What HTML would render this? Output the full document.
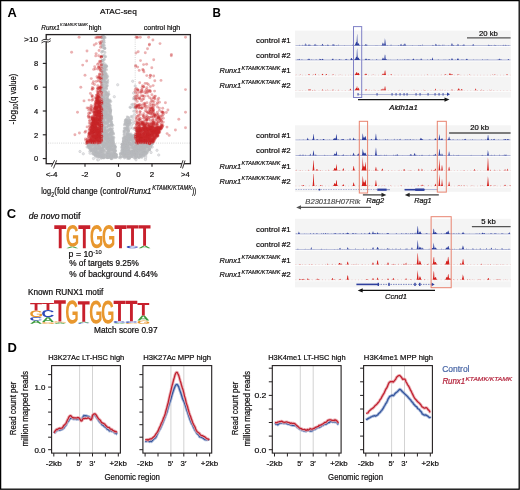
<!DOCTYPE html>
<html><head><meta charset="utf-8"><style>
html,body{margin:0;padding:0;background:#fff;overflow:hidden;width:520px;height:490px;}
svg{display:block;font-family:"Liberation Sans", sans-serif;will-change:transform;}
</style></head><body>
<svg width="520" height="490" viewBox="0 0 520 490">
<rect x="0" y="0" width="520" height="490" fill="#fff"/>
<text x="7.5" y="17.0" font-size="12.2" font-weight="bold" fill="#000" textLength="9.3" lengthAdjust="spacingAndGlyphs">A</text>
<text x="212.6" y="17.2" font-size="12.2" font-weight="bold" fill="#000" textLength="8.4" lengthAdjust="spacingAndGlyphs">B</text>
<text x="6.8" y="218.3" font-size="12.2" font-weight="bold" fill="#000" textLength="9.4" lengthAdjust="spacingAndGlyphs">C</text>
<text x="7.6" y="351.8" font-size="12.2" font-weight="bold" fill="#000" textLength="9.4" lengthAdjust="spacingAndGlyphs">D</text>
<text x="100.0" y="13.6" font-size="8" stroke="#231f20" stroke-width="0.22" textLength="36.8" lengthAdjust="spacingAndGlyphs">ATAC-seq</text>
<text x="41.3" y="29.6" font-size="7.2" font-style="italic" stroke="#231f20" stroke-width="0.20" textLength="18.4" lengthAdjust="spacingAndGlyphs">Runx1</text>
<text x="60.1" y="25.9" font-size="3.9" font-style="italic" stroke="#231f20" stroke-width="0.11" textLength="27.8" lengthAdjust="spacingAndGlyphs">KTAMK/KTAMK</text>
<text x="88.8" y="29.6" font-size="7.2" stroke="#231f20" stroke-width="0.20" textLength="12.6" lengthAdjust="spacingAndGlyphs">high</text>
<text x="143.8" y="29.6" font-size="7.2" stroke="#231f20" stroke-width="0.20" textLength="36.5" lengthAdjust="spacingAndGlyphs">control high</text>
<defs><marker id="mg" markerUnits="userSpaceOnUse" markerWidth="4" markerHeight="4" refX="2" refY="2" overflow="visible"><circle cx="2" cy="2" r="1.4" fill="#b8b9bd" fill-opacity="0.6"/></marker><marker id="ml" markerUnits="userSpaceOnUse" markerWidth="4" markerHeight="4" refX="2" refY="2" overflow="visible"><circle cx="2" cy="2" r="1.2" fill="#e4e5e7" stroke="#c4c5c9" stroke-width="0.5"/></marker><marker id="mr" markerUnits="userSpaceOnUse" markerWidth="4" markerHeight="4" refX="2" refY="2" overflow="visible"><circle cx="2" cy="2" r="1.45" fill="#c8262a" fill-opacity="0.36"/></marker></defs>
<path d="M134.0 97.6 134.6 97.6 135.0 99.2 133.0 104.3 133.1 106.8 134.1 106.2 130.1 107.2 135.0 107.9 132.7 116.7 128.1 117.5 128.9 120.0 132.6 119.5 133.8 122.6 132.4 123.1 132.8 123.3 131.6 124.9 130.7 127.8 132.5 128.0 134.6 129.3 130.9 134.0 128.6 134.4 87.1 147.0 152.2 147.0 89.8 151.4 151.1 152.5 90.1 153.2 92.6 153.5 95.3 155.5 96.0 157.0 145.8 156.0 145.6 157.8 93.5 158.5 145.4 159.5 136.0 159.8 97.7 159.8 98.4 159.8 114.3 96.7 117.7 84.8 130.2 120.5 134.4 114.6 133.6 93.1 135.2 86.0 132.7 81.2 80.0 151.5 83.3 153.8 157.0 150.3 158.7 155.0" fill="none" stroke="none" marker-start="url(#ml)" marker-mid="url(#ml)" marker-end="url(#ml)"/>
<path d="M103.6 39.9 104.0 40.2 102.5 41.9 103.9 42.4 104.3 42.4 102.2 43.4 103.3 44.9 102.2 45.8 103.3 45.3 104.4 45.5 102.0 46.6 102.5 46.2 103.3 48.0 104.8 48.1 104.8 48.8 104.2 48.1 104.9 48.2 102.5 51.3 103.1 51.3 101.6 52.2 105.0 52.4 102.1 55.8 104.2 55.0 103.0 56.3 105.7 56.7 105.0 56.8 104.3 59.2 102.8 60.4 102.1 60.1 102.0 61.0 104.0 60.0 102.8 61.2 102.7 63.9 104.2 63.5 102.2 64.8 102.6 64.3 103.3 65.4 104.3 65.5 104.8 65.4 105.9 65.0 105.3 66.6 105.8 67.0 106.6 66.6 106.7 66.2 106.3 66.2 102.3 67.0 103.2 67.1 104.0 67.5 105.5 67.1 103.8 68.2 104.0 68.0 105.2 68.9 104.9 69.2 104.4 69.1 104.8 69.4 106.6 69.7 101.7 70.9 101.9 70.3 104.0 70.0 104.7 70.5 102.9 71.7 102.4 71.2 103.3 71.5 104.0 71.3 104.3 71.5 102.8 72.1 102.9 72.8 103.3 72.0 103.4 72.7 103.0 72.5 105.7 72.7 103.0 73.7 103.5 73.0 104.6 73.2 104.7 73.5 102.5 75.0 104.2 74.4 104.1 74.9 104.6 74.7 104.3 74.5 105.9 74.0 105.6 74.5 106.9 74.7 102.3 75.8 103.4 75.7 104.6 75.5 105.3 75.8 103.1 76.5 104.6 76.9 105.0 76.3 106.1 76.0 107.7 76.4 101.8 77.2 102.2 77.6 103.7 77.2 103.3 77.7 107.0 77.0 106.6 77.8 102.0 78.8 103.8 78.4 104.1 78.9 105.9 78.0 106.0 78.6 102.3 79.5 103.5 79.1 103.6 79.9 104.7 79.9 104.9 79.3 107.8 79.8 103.5 80.3 103.6 80.3 102.1 81.5 102.1 81.3 104.0 81.2 104.1 81.2 104.3 81.6 105.7 81.3 107.8 81.5 103.2 82.3 104.2 82.5 106.5 82.3 107.0 82.3 106.2 82.3 102.2 83.7 102.3 83.6 105.0 83.8 107.4 83.4 102.3 84.8 102.3 84.9 105.8 84.2 102.8 85.4 103.7 85.6 104.7 85.7 106.4 85.9 107.3 85.6 102.9 86.9 106.1 86.9 107.1 86.1 103.5 87.5 104.4 88.0 106.3 87.9 102.9 88.2 102.7 88.5 104.3 88.8 106.2 88.4 101.8 89.2 102.8 89.3 106.6 89.1 102.4 90.4 103.4 90.2 105.0 90.7 101.8 91.4 101.3 91.1 103.0 92.0 102.3 91.5 105.2 91.3 108.6 91.9 103.2 92.0 105.9 92.5 105.8 92.0 106.3 93.0 106.1 92.4 105.3 93.6 105.8 93.5 107.8 93.9 107.1 94.0 102.0 94.6 103.0 94.6 104.4 94.6 105.6 94.8 106.9 94.3 106.1 94.0 107.0 94.0 108.9 94.2 108.3 94.4 102.1 95.5 104.8 95.9 106.4 95.3 107.5 95.9 107.8 95.4 107.9 95.8 102.6 96.9 103.1 96.7 104.8 96.4 101.1 97.4 103.2 97.3 103.4 97.5 105.0 97.7 107.0 97.6 107.4 97.6 101.2 98.5 103.9 98.4 103.4 98.3 104.6 98.6 106.7 98.5 107.0 98.3 133.5 98.9 103.6 99.5 107.6 99.8 107.8 99.8 107.7 99.5 102.9 100.8 102.5 100.6 102.6 100.5 103.0 100.4 103.6 100.9 104.1 100.4 104.6 100.6 105.2 101.0 105.7 100.0 106.2 100.6 107.2 100.5 107.5 100.3 108.2 100.3 108.5 100.1 109.4 101.0 110.0 100.0 102.4 101.8 103.0 101.3 104.0 101.8 104.9 101.3 106.6 101.6 107.9 101.4 108.2 101.0 109.8 101.4 110.9 101.5 102.5 102.4 104.2 102.1 105.2 102.9 106.8 102.0 107.6 102.2 108.7 102.9 101.2 103.7 102.5 103.6 103.5 103.2 104.2 103.5 105.4 103.0 105.2 103.8 106.4 103.7 106.9 103.9 106.8 103.3 107.6 103.5 108.3 103.1 103.4 104.3 103.2 104.5 104.5 104.9 104.4 104.1 105.3 104.2 108.4 104.3 109.5 104.0 109.3 104.9 131.8 104.6 102.3 105.1 102.1 105.6 104.4 105.8 104.2 105.4 105.7 105.1 105.4 105.5 107.0 106.0 106.3 105.1 107.8 105.0 107.4 105.1 107.7 105.3 108.8 105.9 109.6 105.5 110.5 105.8 102.3 106.1 103.2 106.3 103.8 106.6 104.4 106.6 106.7 106.4 106.9 106.7 108.0 106.2 101.5 108.0 102.9 107.3 103.6 107.2 104.8 107.1 104.2 107.6 105.6 107.2 105.6 107.0 106.3 107.3 106.5 107.4 106.8 107.6 107.4 107.3 107.6 108.0 109.1 107.0 110.2 107.8 130.6 107.6 134.8 107.8 101.1 108.7 102.1 108.4 103.0 108.1 104.2 108.0 107.8 108.1 107.9 108.2 108.3 108.8 108.8 108.1 109.8 108.5 110.1 108.1 102.3 109.0 104.0 109.5 104.7 109.9 104.2 109.6 106.1 109.3 106.4 109.4 107.9 109.1 107.5 109.8 109.9 109.6 109.8 109.3 109.3 110.0 110.9 110.0 102.2 110.5 103.1 110.6 104.7 110.2 104.5 110.3 104.8 110.8 106.2 110.6 109.3 110.7 110.4 110.9 110.4 110.3 101.4 111.3 102.2 111.1 103.8 111.9 105.9 111.9 105.1 111.9 106.8 111.9 106.4 111.5 107.5 111.7 108.8 111.0 109.1 111.7 110.5 111.2 110.6 111.7 133.8 111.2 102.8 112.1 103.3 112.4 104.0 113.0 104.6 112.1 105.6 112.6 105.5 112.3 105.9 112.0 110.1 112.7 110.3 112.6 102.2 113.1 103.8 113.7 103.8 113.6 105.9 113.6 105.6 113.1 105.5 113.2 108.3 113.0 109.8 113.6 101.5 114.0 102.4 114.3 105.0 114.5 105.0 114.2 105.6 114.9 105.8 114.7 106.5 114.3 106.3 114.4 106.6 114.2 106.1 114.9 107.7 114.6 108.3 114.5 108.8 114.9 110.6 114.2 102.9 115.7 102.6 115.5 103.2 115.7 105.6 115.3 107.1 115.2 107.2 115.9 107.9 115.8 107.5 115.6 109.3 115.6 110.3 116.0 101.9 116.9 102.3 117.0 103.8 116.5 104.0 116.4 105.0 116.4 105.5 116.5 107.7 116.1 107.5 116.7 108.4 116.5 108.6 116.6 110.6 116.6 110.1 116.0 110.8 116.7 111.7 116.7 127.2 117.0 131.4 116.5 102.6 117.3 102.3 117.4 102.1 117.3 103.3 117.7 104.9 117.5 105.8 117.0 105.7 117.6 105.4 117.6 106.8 117.7 106.6 117.5 106.5 117.0 107.9 117.9 108.3 117.7 111.4 117.6 129.3 117.8 102.3 118.1 103.9 119.0 104.6 118.8 107.8 118.4 110.0 118.1 109.3 118.7 111.2 118.6 102.1 119.1 102.5 120.0 102.8 119.8 104.3 119.6 107.1 119.7 107.8 119.5 107.4 119.4 108.8 119.6 109.8 119.5 110.7 119.7 111.0 119.0 111.8 119.0 126.4 119.4 126.5 119.9 126.1 119.8 129.3 120.0 102.7 120.6 103.5 121.0 103.9 120.8 104.0 120.1 107.8 120.4 109.4 121.0 110.5 120.2 110.9 120.0 110.1 120.3 125.2 120.1 127.0 120.7 127.1 120.4 129.7 120.4 101.8 121.2 102.4 121.3 103.3 121.6 105.1 121.3 108.0 121.6 109.0 121.4 110.8 121.9 111.8 121.8 125.0 121.8 125.4 121.2 126.7 121.9 126.7 121.8 126.5 121.4 127.5 121.4 128.0 121.1 129.5 121.5 103.5 122.4 105.0 122.5 104.8 122.9 106.2 122.2 107.7 122.1 107.2 122.4 110.9 122.6 111.3 122.5 126.4 122.4 128.0 122.6 127.3 122.9 128.9 122.9 130.0 122.5 129.2 122.7 103.2 123.1 103.3 123.4 103.5 123.1 105.4 123.6 106.4 123.7 107.3 123.1 108.0 123.2 125.2 123.8 125.0 123.7 125.6 123.4 128.0 123.7 129.8 123.2 129.7 123.8 102.4 124.8 104.0 124.4 105.6 124.8 107.9 124.2 111.4 124.7 111.9 124.1 111.9 124.2 111.7 124.5 111.4 124.8 125.6 124.5 126.6 124.6 127.7 124.8 127.1 125.0 107.9 125.8 109.4 125.3 109.9 125.8 109.9 125.2 109.1 125.5 112.0 125.7 111.6 125.9 112.9 125.3 124.3 125.0 127.5 125.1 127.4 125.2 128.8 125.5 128.7 125.2 102.2 127.0 102.2 126.7 102.0 126.0 103.4 126.4 104.7 126.7 107.8 126.6 107.9 126.5 127.0 126.5 127.2 126.6 103.2 127.9 104.5 127.8 104.6 127.1 106.6 127.3 106.6 127.6 126.3 127.9 127.3 127.7 127.6 127.5 128.2 127.9 102.7 128.9 104.1 128.9 104.4 128.9 104.4 128.6 110.1 128.7 110.5 128.8 110.2 128.7 112.6 128.3 124.3 128.1 125.0 128.5 125.1 128.6 104.2 129.2 105.0 129.0 107.7 129.6 108.8 129.9 109.1 129.7 110.4 129.9 110.2 129.2 111.8 129.2 111.6 129.9 126.7 129.1 127.3 129.6 127.0 129.3 127.4 129.0 128.9 129.6 102.2 130.6 103.8 130.0 104.3 130.7 105.8 130.6 105.4 130.7 105.9 130.3 107.6 130.8 108.8 130.1 108.3 130.9 108.1 130.9 111.2 130.6 111.5 130.7 124.1 130.4 125.6 130.2 126.5 130.1 127.8 130.3 128.5 130.9 128.4 130.7 102.5 131.0 104.9 131.2 105.8 131.3 106.4 131.3 107.3 131.6 111.4 131.4 111.8 131.3 112.8 131.1 124.1 131.5 124.4 131.5 127.7 131.1 128.4 131.3 102.6 132.3 103.9 132.1 104.8 132.1 105.0 132.2 105.5 133.0 109.3 133.0 110.4 132.2 111.4 132.8 111.9 132.4 112.8 132.9 124.1 132.2 126.7 132.3 128.6 132.8 103.5 133.5 103.6 133.2 104.9 133.8 104.6 134.0 106.0 133.3 105.7 133.6 106.5 133.9 106.4 133.7 106.5 133.6 106.4 133.6 107.1 133.5 109.8 133.8 110.9 133.1 110.2 133.9 111.5 133.1 112.6 133.7 113.4 133.2 125.6 133.8 127.5 133.7 127.3 133.5 102.9 134.7 102.8 134.2 103.1 134.8 103.0 134.0 105.1 134.4 106.5 134.2 107.1 134.1 107.8 134.9 109.4 134.1 110.2 134.2 110.2 134.5 111.5 134.0 111.0 134.1 111.4 134.8 113.5 134.2 124.1 134.1 126.9 134.4 128.4 134.5 130.1 134.4 102.3 135.8 104.4 135.2 104.2 135.8 105.1 135.6 106.7 135.3 107.9 136.0 107.7 136.0 107.5 135.5 107.1 135.2 108.4 135.1 109.3 135.2 109.7 135.8 112.0 135.5 111.1 135.8 124.0 135.0 127.7 135.0 127.5 135.7 127.4 135.6 129.1 135.2 129.6 135.6 130.0 135.1 130.7 135.5 132.1 135.1 134.6 135.1 134.1 135.2 134.0 135.7 103.2 136.2 104.3 136.7 105.9 136.7 105.9 136.5 107.6 136.1 107.9 136.4 108.3 136.6 111.6 136.8 124.5 136.9 125.5 136.7 125.3 136.5 126.6 136.4 127.3 136.0 127.6 136.4 127.6 136.5 129.6 136.2 129.0 136.9 129.3 136.5 129.9 136.2 129.2 136.5 130.4 136.5 132.9 136.6 132.7 136.3 133.0 136.3 133.2 136.8 134.0 136.8 134.8 136.0 134.8 137.0 102.8 137.7 103.7 137.8 103.1 137.3 104.7 137.5 104.1 137.2 104.7 137.3 106.5 137.8 106.5 137.0 107.6 137.3 109.4 137.8 109.1 137.6 110.8 137.2 111.7 137.8 111.4 137.5 112.7 137.7 113.0 137.1 113.8 137.3 123.2 137.8 124.8 137.4 124.8 137.7 125.8 137.5 125.1 137.8 127.3 137.5 128.3 137.8 128.7 137.6 128.2 137.2 128.2 138.0 129.8 137.7 130.2 137.2 130.0 137.5 130.7 137.5 131.1 137.7 131.2 137.8 132.5 137.8 132.9 137.8 132.2 137.3 133.6 137.9 133.5 137.6 134.1 137.0 134.4 137.8 134.5 137.0 134.7 137.5 104.2 138.3 104.4 138.9 105.8 138.5 106.2 138.7 107.9 138.9 107.2 138.6 107.2 138.4 109.7 138.8 110.8 138.3 110.7 138.6 111.3 138.7 111.3 138.5 112.6 138.3 113.7 138.6 123.2 138.8 124.9 138.5 124.3 138.1 125.8 138.5 126.3 138.9 127.9 139.0 128.2 138.9 128.1 139.0 130.9 138.7 132.8 138.5 132.6 138.6 133.2 138.6 134.2 138.8 103.9 140.0 105.3 139.3 107.4 139.3 107.9 139.7 108.6 139.3 109.5 139.8 109.4 139.9 109.5 139.5 110.9 139.3 110.8 139.7 123.8 139.3 125.6 139.8 126.3 139.5 127.1 139.0 127.2 140.0 129.0 139.5 129.5 139.6 130.3 139.9 131.6 139.7 131.8 139.4 132.5 139.4 134.5 139.0 103.3 140.7 105.6 140.4 106.5 140.3 106.8 140.6 106.8 140.6 107.4 140.2 108.6 140.8 109.1 140.8 112.9 140.1 112.1 140.3 112.2 140.2 113.2 140.5 113.1 140.1 123.5 140.5 125.7 140.3 126.9 140.8 127.3 140.4 127.8 140.5 127.3 140.8 127.8 141.0 128.3 140.0 131.1 140.3 132.1 140.4 133.7 140.5 102.7 141.1 105.9 141.6 107.8 141.6 107.7 141.0 108.6 141.4 109.5 141.4 109.6 141.8 110.4 141.9 110.6 141.9 110.8 141.5 111.4 141.1 112.0 141.6 113.0 141.9 113.3 141.6 123.2 141.5 123.4 141.5 123.7 141.3 124.1 141.4 125.3 141.5 125.9 141.3 126.8 141.1 126.0 141.7 127.3 141.8 128.9 141.1 128.5 141.4 130.6 141.2 133.7 141.3 133.1 141.0 102.9 142.1 103.3 142.4 103.0 142.3 103.9 142.4 104.7 142.7 105.4 142.8 107.9 142.5 107.0 143.0 109.9 142.1 109.2 142.6 109.5 142.6 110.7 142.8 110.2 142.2 111.5 142.6 111.7 142.7 113.5 142.6 113.1 142.3 123.6 142.5 123.9 142.8 124.8 142.8 128.6 142.0 128.5 142.6 129.5 142.8 132.8 142.7 133.6 142.9 133.1 142.6 134.1 142.4 87.8 143.6 88.8 143.1 90.2 143.1 90.0 144.0 90.1 144.0 92.8 143.3 93.3 143.7 93.6 143.4 93.4 143.7 98.2 143.9 98.5 143.2 100.5 143.6 102.1 143.3 103.2 143.5 104.8 143.6 105.4 143.3 105.5 143.7 105.5 143.5 107.9 143.3 109.8 143.6 109.7 143.2 112.9 143.9 113.4 143.7 123.5 143.8 124.6 143.5 125.1 143.4 125.4 143.1 126.7 143.6 127.8 143.0 127.3 143.5 127.5 144.0 128.0 143.7 128.4 143.8 129.4 143.3 130.0 143.7 130.5 143.1 131.4 143.9 133.3 143.6 133.5 143.2 133.6 143.1 133.0 143.4 136.3 143.5 136.7 143.2 138.4 143.5 138.2 143.8 140.9 143.3 141.7 143.8 141.5 143.4 142.2 143.6 143.1 143.2 143.4 143.7 143.6 143.6 144.6 143.4 144.9 143.1 144.5 144.0 144.8 143.6 148.9 143.5 150.6 143.8 151.8 143.1 151.9 143.6 152.0 143.7 152.7 143.9 152.6 143.2 87.2 144.1 89.2 145.0 89.5 144.1 91.1 144.1 93.0 145.0 94.2 144.6 96.6 144.8 97.1 144.4 98.2 144.7 100.4 144.7 102.3 144.8 104.1 144.8 106.6 144.5 106.7 144.0 106.8 144.8 108.6 144.3 109.8 144.2 110.0 144.2 111.5 144.4 112.3 144.9 112.8 144.1 113.2 144.6 114.8 144.5 122.3 144.2 122.1 144.5 122.0 144.2 124.1 144.4 124.9 144.6 125.6 144.9 126.5 144.1 126.6 144.4 127.1 144.0 128.2 144.5 129.5 144.1 130.2 144.9 130.4 144.5 132.0 144.8 131.1 144.1 131.3 144.0 131.2 144.7 132.6 144.7 132.2 144.6 132.1 144.9 135.5 144.6 137.0 144.6 137.3 144.6 137.8 144.1 140.0 144.2 142.2 144.2 142.4 144.6 143.9 144.9 143.7 144.9 144.8 144.1 145.9 144.2 145.7 144.1 146.2 144.3 146.8 144.6 146.4 144.4 146.3 144.9 148.5 144.9 150.5 144.3 150.7 144.4 151.4 144.4 88.3 145.1 88.4 145.6 88.2 145.9 89.6 145.0 90.2 145.3 90.5 145.2 91.3 145.4 91.8 145.2 92.3 145.8 92.5 145.3 93.7 145.1 94.9 145.4 95.5 145.6 95.7 145.7 97.8 145.9 98.3 145.6 99.3 145.5 102.2 145.0 103.9 145.6 103.2 145.7 104.7 145.5 104.2 145.3 104.7 145.1 106.1 145.7 106.8 145.1 108.7 145.7 108.8 145.7 110.7 145.3 111.7 145.8 112.1 146.0 113.8 145.1 123.6 145.1 123.9 145.9 125.3 145.1 125.8 145.5 127.3 145.3 127.1 145.3 127.3 145.1 127.3 145.6 128.2 145.4 131.7 145.3 132.3 145.9 135.0 145.9 135.3 145.0 136.5 145.3 136.6 145.8 137.6 145.9 137.2 145.1 138.2 145.9 138.6 145.4 139.8 146.0 139.6 145.0 140.4 145.6 143.0 145.6 143.6 145.9 143.7 145.1 143.6 145.2 144.0 145.5 145.0 145.5 145.4 145.7 145.9 145.2 146.1 145.1 147.5 145.3 148.7 145.6 150.0 145.7 150.6 145.3 151.2 145.3 88.3 146.8 89.2 146.1 89.3 146.1 90.8 146.7 93.9 146.8 95.2 146.9 96.7 146.9 98.7 146.4 99.1 146.7 99.5 146.9 99.6 146.6 102.9 146.2 103.0 146.2 103.6 146.3 103.7 146.9 103.7 146.5 103.4 146.4 106.3 146.8 107.8 146.0 108.0 146.8 108.6 146.8 109.5 146.1 110.5 146.7 110.0 146.6 110.5 146.3 111.1 146.3 111.8 147.0 113.3 146.3 114.7 146.4 114.8 146.4 114.7 146.4 122.5 146.6 122.5 146.7 122.2 146.1 122.8 146.5 122.2 146.1 123.5 146.9 124.7 146.8 125.2 146.2 125.3 146.2 125.8 146.8 126.4 146.1 127.6 146.8 127.0 146.4 127.1 146.7 134.3 146.4 135.3 146.2 137.5 146.6 138.2 146.7 140.5 146.5 142.1 146.2 143.0 146.6 142.7 146.1 143.9 146.1 145.4 146.8 145.1 146.7 146.5 146.5 147.4 146.5 147.7 147.0 147.4 146.7 148.5 147.0 148.4 146.9 148.3 146.1 150.9 146.6 89.3 147.8 89.0 147.6 89.8 147.9 90.1 147.6 91.1 147.6 93.3 147.8 95.4 147.0 96.5 147.8 100.0 147.9 100.4 147.4 100.1 147.2 102.9 147.7 104.9 147.0 105.8 147.3 107.8 147.9 109.7 147.9 110.8 147.6 110.8 147.5 110.3 147.5 111.0 147.1 113.8 147.9 114.5 147.9 115.3 147.0 115.6 147.0 122.0 147.0 121.9 147.2 123.7 147.8 123.2 147.7 124.8 147.3 124.9 147.2 126.7 147.7 126.5 147.6 126.9 147.5 126.8 147.4 127.0 147.2 127.1 147.6 129.6 147.5 129.6 147.1 131.9 147.2 132.3 147.9 132.3 147.6 133.8 147.5 133.6 147.8 136.0 147.1 135.8 147.2 135.2 147.1 135.5 147.7 135.4 147.2 135.8 147.7 136.3 147.9 139.1 147.2 141.1 147.5 141.6 147.7 142.6 147.2 142.9 147.8 144.0 147.3 143.3 147.8 143.8 147.7 143.4 147.5 145.2 148.0 147.5 147.4 148.3 147.1 150.6 147.6 89.1 148.4 90.5 148.9 91.7 148.9 91.1 148.5 92.6 148.9 94.1 148.3 94.8 148.5 96.5 148.3 96.2 148.5 96.6 148.8 96.0 148.9 97.6 148.2 97.1 148.3 98.5 148.4 99.8 148.2 101.3 148.8 101.9 148.8 102.0 148.0 102.6 148.7 102.5 148.3 103.1 148.1 106.5 148.6 107.8 148.1 107.1 148.4 108.5 148.7 109.3 148.2 111.6 148.2 111.7 148.8 114.4 148.2 115.2 148.4 122.0 148.4 123.6 148.5 124.6 148.3 125.7 148.1 126.8 148.7 126.8 148.2 126.2 148.4 127.0 148.0 127.4 149.0 128.7 148.5 129.2 148.1 133.1 148.2 134.6 148.3 136.4 149.0 136.0 148.1 138.0 148.9 139.1 148.2 139.7 148.5 139.4 148.9 140.4 148.2 140.6 148.2 141.6 148.1 141.6 148.7 142.8 149.0 143.4 148.6 143.2 148.7 143.4 148.6 144.6 148.5 145.0 148.7 146.1 148.3 149.0 148.7 90.7 149.6 92.1 149.7 93.6 149.8 94.6 149.4 95.3 149.6 96.0 149.6 97.4 149.3 98.1 149.4 99.7 149.3 100.6 149.7 100.4 149.6 100.2 149.3 101.9 149.1 103.2 149.1 106.0 149.0 107.3 149.4 108.5 149.1 108.1 149.6 109.9 149.6 109.8 149.9 109.1 149.7 110.9 149.7 110.0 149.9 111.7 149.4 112.4 149.8 112.4 149.4 113.3 149.4 114.2 149.5 122.7 149.9 122.7 149.2 122.5 149.5 125.8 149.1 130.0 149.4 132.0 149.8 134.6 149.4 134.1 149.2 134.4 149.1 134.8 149.7 136.3 149.9 136.5 149.5 136.6 149.1 136.0 149.0 137.5 149.7 137.3 149.5 138.1 149.4 139.9 149.5 140.3 149.8 140.5 149.7 140.8 149.1 141.3 149.5 144.9 149.1 148.1 149.9 149.8 149.1 149.3 149.4 149.8 149.8 149.5 149.7 90.9 150.4 90.6 150.8 91.6 150.5 91.6 150.4 92.9 150.1 93.1 151.0 93.4 151.0 95.2 150.7 95.7 150.5 95.0 150.9 96.0 150.9 95.5 150.2 96.0 150.2 98.4 150.6 99.8 150.1 101.8 150.1 101.0 150.5 102.1 150.4 103.9 150.3 103.4 150.3 103.2 150.5 103.1 150.1 104.7 151.0 108.4 150.4 111.6 150.3 114.1 150.4 115.2 150.8 115.2 150.3 115.4 150.7 121.7 150.4 123.3 150.0 124.0 150.3 124.0 150.5 124.7 150.6 125.6 150.2 125.2 150.3 126.6 150.6 126.3 150.6 128.7 150.2 128.8 150.6 128.7 150.8 128.3 150.5 129.4 150.7 133.8 150.6 134.8 150.7 134.0 150.7 135.4 150.7 138.7 150.8 138.7 150.1 140.9 150.6 141.0 150.6 141.4 150.0 142.1 150.8 143.8 150.3 143.8 150.1 144.3 150.8 144.4 150.9 145.7 150.0 145.0 150.2 147.4 150.3 148.5 150.5 92.6 151.5 95.5 151.1 96.3 151.9 97.0 151.8 100.5 151.7 101.5 151.8 102.9 151.9 106.5 152.0 108.4 151.3 108.3 152.0 108.5 151.5 108.4 151.0 109.5 151.1 110.3 151.4 113.1 151.2 114.0 151.9 114.0 151.1 115.3 151.3 121.8 151.3 122.9 151.9 122.3 151.9 123.1 151.4 124.3 151.1 125.1 151.6 126.3 151.6 127.1 151.9 127.4 151.8 129.4 151.3 131.1 151.7 132.5 151.1 132.3 151.3 132.3 151.7 133.4 151.4 133.5 151.8 135.1 151.9 136.4 151.0 136.7 151.8 136.3 151.2 137.4 151.1 137.5 151.5 137.5 152.0 138.6 151.2 138.4 151.4 139.0 151.8 141.3 151.7 142.8 151.6 142.7 152.0 142.7 151.6 142.5 151.1 143.2 151.7 146.1 151.9 147.6 151.6 95.2 152.6 95.2 152.8 96.7 152.4 96.3 152.5 96.5 152.9 98.8 152.7 99.0 152.3 99.1 152.4 100.6 152.5 100.4 152.1 100.1 152.9 101.4 152.1 102.1 152.0 104.4 152.1 107.5 152.9 107.2 152.4 107.7 152.7 108.2 152.0 109.1 153.0 110.7 152.1 113.7 152.1 114.7 152.7 114.3 152.1 114.8 152.3 124.0 152.5 124.9 152.2 124.4 152.8 125.4 152.8 125.5 152.2 126.9 152.4 127.9 152.1 128.5 152.6 128.7 152.0 130.8 152.1 130.3 152.6 131.6 152.0 132.1 152.6 132.6 152.1 133.8 152.6 133.7 152.4 134.1 153.0 134.7 152.5 135.9 152.8 135.5 152.1 135.9 152.8 135.5 152.9 135.9 152.4 136.3 152.4 138.6 152.6 141.3 152.2 141.3 152.7 143.3 152.6 145.0 152.2 145.4 153.0 146.1 152.7 146.2 152.5 147.3 152.8 93.0 154.0 93.2 153.1 94.1 153.8 95.1 153.1 95.9 153.6 96.6 153.7 97.6 153.4 97.1 153.8 97.1 153.2 99.7 153.7 101.6 153.1 103.0 153.7 104.5 153.8 108.0 153.2 109.0 153.2 110.2 153.9 111.3 153.5 112.6 153.1 112.2 153.4 113.7 154.0 115.0 153.9 120.4 153.3 121.4 153.5 121.5 153.3 122.9 153.7 122.3 153.4 123.2 153.9 123.9 154.0 124.7 153.7 124.7 153.2 124.8 153.6 124.0 153.0 125.1 153.6 126.6 153.6 129.3 153.4 129.8 153.5 129.5 153.5 131.5 153.1 132.3 153.5 132.7 153.8 133.4 153.2 134.2 153.4 134.0 153.8 137.0 153.1 137.6 153.5 138.7 153.4 139.1 153.9 140.4 153.4 142.4 154.0 143.4 153.2 144.6 153.2 144.8 153.1 144.4 153.3 145.2 153.1 146.4 153.8 146.2 153.0 94.5 154.7 95.1 154.7 95.0 154.2 96.1 154.1 97.4 154.1 97.1 154.1 98.7 154.9 98.6 154.7 100.5 154.6 101.1 154.2 102.1 154.2 102.8 154.2 103.3 154.4 105.7 154.4 107.7 154.6 107.2 154.4 108.7 154.3 108.7 154.9 108.3 154.9 110.0 154.9 110.2 154.5 112.8 154.4 114.0 154.4 114.3 154.8 115.8 154.7 115.7 154.6 116.4 154.6 116.1 154.6 116.0 154.8 120.3 154.1 120.6 154.6 122.4 154.0 123.1 154.6 124.7 154.8 124.4 154.9 126.6 154.9 127.9 154.6 127.1 154.1 128.9 154.0 128.2 154.4 129.7 154.2 129.1 154.4 131.7 154.4 132.0 154.7 132.3 154.9 132.4 154.5 133.9 154.8 135.1 154.4 136.1 154.8 136.3 154.5 136.8 154.8 137.1 154.6 138.4 154.6 140.9 154.7 140.7 154.8 140.7 154.7 141.3 154.4 141.8 154.1 142.9 154.4 142.0 154.1 143.8 154.6 144.3 154.7 145.6 154.2 95.9 155.2 95.2 155.6 96.8 155.6 97.5 155.0 98.3 155.7 98.2 155.2 99.0 155.8 99.6 155.5 100.7 155.4 101.3 155.4 103.9 155.1 103.3 155.4 104.3 155.3 107.0 155.0 106.3 155.1 106.4 155.1 108.4 155.5 108.4 155.6 110.6 155.9 111.5 155.2 112.6 155.6 112.3 155.4 113.5 155.3 115.4 155.7 115.2 155.1 116.3 155.5 122.9 155.1 123.9 155.2 124.0 156.0 125.8 155.8 125.5 155.5 126.3 155.8 128.0 155.8 134.4 155.1 134.5 155.3 135.2 155.7 135.5 155.3 135.4 156.0 136.0 156.0 137.1 155.6 139.7 155.8 140.3 155.9 140.8 155.6 141.8 155.7 143.6 155.5 143.7 155.9 144.1 155.2 97.1 156.3 97.6 156.4 99.0 156.7 98.2 156.5 99.6 157.0 99.3 156.6 100.6 156.9 100.7 156.9 101.6 156.1 102.3 156.4 102.0 156.5 103.1 156.9 104.3 156.7 107.0 156.9 107.9 156.7 107.0 156.8 109.0 156.5 108.8 156.6 108.1 156.6 110.0 156.9 109.8 156.0 110.4 156.1 111.3 156.2 113.5 156.4 113.7 156.8 114.0 156.3 113.0 156.4 114.5 156.5 114.2 156.9 115.7 157.0 116.7 156.7 116.0 156.2 116.3 157.0 120.5 156.6 120.5 156.5 121.9 156.9 123.7 156.1 123.2 156.7 125.0 156.2 124.8 157.0 126.8 156.6 126.2 156.3 126.5 156.2 129.0 156.5 129.8 156.2 130.5 156.5 131.0 156.0 131.9 156.6 132.0 156.8 132.7 156.8 132.4 156.0 136.6 156.5 136.3 156.2 138.7 156.9 140.9 156.0 140.3 156.3 140.5 156.2 142.3 157.0 101.5 157.7 102.9 157.5 102.9 157.5 103.8 158.0 103.1 157.4 104.7 157.0 104.1 157.6 106.0 157.2 106.7 157.7 107.4 157.6 108.0 157.4 107.7 157.8 108.4 157.5 108.9 157.7 110.6 157.7 110.8 157.4 111.1 157.3 111.3 157.2 113.7 157.9 115.4 157.3 116.1 157.4 119.1 157.6 120.4 158.0 124.4 158.0 125.8 157.3 127.9 157.5 128.9 157.4 128.3 158.0 128.3 157.6 129.7 157.9 135.0 158.0 134.3 158.0 135.9 157.4 135.9 157.3 136.3 157.3 137.1 157.3 138.4 157.0 139.1 157.8 139.1 157.6 141.4 157.4 101.3 158.4 111.3 158.9 111.6 158.6 111.1 158.3 111.7 158.6 127.7 158.7 129.3 158.5 129.1 158.2 103.0 36.8 103.4 37.1 102.4 37.7 105.2 37.7 104.3 37.1 102.9 37.3 101.9 37.3 104.2 37.4 103.6 37.3 102.2 37.0 103.7 37.5 103.6 36.7 103.0 36.8 102.9 37.5 102.5 36.9 103.8 36.8 103.8 36.9 102.6 37.1" fill="none" stroke="none" marker-start="url(#mg)" marker-mid="url(#mg)" marker-end="url(#mg)"/>
<path d="M159.9 120.2 98.2 133.2 147.6 134.3 141.8 137.9 146.6 142.0 159.4 110.4 146.6 127.7 97.9 141.1 145.3 127.4 95.1 136.4 154.0 124.1 95.4 127.3 139.3 130.8 92.9 122.2 101.6 127.7 145.2 110.8 143.1 124.3 98.6 132.7 93.8 141.5 153.1 111.0 92.7 121.9 152.9 132.2 143.3 134.1 100.5 67.9 138.9 130.1 89.2 130.2 144.0 141.6 102.0 103.7 97.4 98.2 153.2 139.6 94.4 134.2 92.4 118.8 149.3 132.5 151.8 67.7 135.8 99.6 143.2 136.3 151.2 138.3 136.9 130.4 99.9 68.8 146.0 140.2 100.1 112.6 89.8 113.1 97.3 139.7 92.3 132.1 89.2 133.4 95.4 129.5 161.7 111.6 99.3 87.1 144.4 129.4 158.3 132.2 143.4 136.4 141.4 131.5 150.6 111.4 149.3 127.8 91.0 141.6 158.7 118.8 178.8 119.3 88.6 117.6 95.6 101.4 100.7 138.4 91.3 123.7 148.0 133.3 95.9 137.7 92.1 96.0 145.2 140.4 146.5 115.5 149.5 44.3 159.1 127.6 99.6 116.4 162.8 125.2 141.9 108.0 97.5 124.5 136.6 135.6 96.1 104.2 146.6 133.5 100.9 100.3 94.5 126.6 100.0 142.0 92.3 135.8 98.9 120.4 136.5 98.5 94.7 139.6 92.5 133.0 96.6 109.3 138.4 136.5 94.8 119.1 141.1 136.0 99.6 142.4 155.0 105.0 101.6 124.3 96.0 137.5 152.5 139.5 89.1 135.4 141.0 130.2 88.4 136.4 91.4 131.0 138.6 128.7 154.7 122.3 156.2 135.0 147.0 137.3 94.8 119.3 146.6 64.2 97.0 76.7 90.2 139.9 94.5 128.4 144.3 136.6 146.4 129.6 96.7 102.6 144.2 138.6 138.0 97.9 92.4 126.8 89.1 134.1 157.8 135.9 147.6 124.5 151.9 107.7 138.9 139.7 157.7 127.6 139.9 138.5 141.6 138.5 149.8 143.4 98.3 80.9 151.9 131.3 155.3 116.9 100.8 134.4 98.6 124.0 144.4 133.0 142.8 95.9 139.6 97.8 89.2 129.1 92.8 125.6 94.2 45.0 140.8 130.6 96.2 103.1 157.2 127.9 93.7 112.3 152.6 126.0 154.8 139.5 94.2 125.9 152.7 132.8 89.7 121.0 100.2 140.0 101.5 131.3 95.1 120.4 94.4 124.6 99.3 106.7 144.3 125.8 150.1 137.8 101.8 101.9 154.9 115.1 152.8 129.7 96.6 126.9 97.9 78.2 97.8 123.3 96.7 137.2 162.5 112.0 96.7 131.0 135.1 96.2 146.7 133.6 137.0 121.9 98.6 94.0 142.2 87.3 97.5 136.9 154.2 136.9 88.9 110.2 135.1 91.3 142.8 134.4 100.1 91.7 97.7 88.8 94.6 139.8 149.6 110.6 148.6 126.4 87.1 126.9 94.3 108.0 140.4 140.0 143.6 133.8 99.2 66.6 139.4 117.6 100.6 106.3 154.3 136.3 95.9 141.3 96.3 123.0 99.9 112.9 155.9 129.4 100.2 108.2 157.3 132.2 136.6 105.9 141.6 142.0 140.6 142.4 97.7 85.7 101.4 140.7 97.9 119.9 101.2 116.8 96.9 136.8 158.2 127.9 101.5 87.5 159.1 129.3 149.9 77.6 96.3 124.2 101.3 115.3 97.5 64.4 92.9 140.4 150.0 140.7 167.0 127.1 100.9 131.5 100.4 121.6 142.0 141.5 139.1 124.0 149.1 139.8 99.6 102.1 153.4 130.3 95.2 119.3 93.3 129.5 139.5 133.0 151.9 127.0 99.5 135.9 145.6 135.5 98.8 136.6 148.1 130.9 99.9 115.7 96.9 130.4 146.8 119.4 95.8 135.9 154.9 138.5 101.0 129.8 151.9 111.9 149.7 129.3 98.2 119.7 94.2 113.4 95.2 126.1 97.4 139.7 91.8 106.7 150.4 137.8 152.3 140.2 152.2 135.9 159.4 108.1 90.1 140.2 157.5 107.0 93.3 123.2 137.0 136.1 136.7 140.3 150.3 142.7 91.9 131.4 101.2 132.2 155.8 137.9 171.3 55.8 99.7 136.3 150.9 127.5 147.7 131.8 139.9 134.9 151.4 142.2 136.4 95.9 140.2 104.8 98.4 111.3 143.9 140.3 140.2 138.4 96.4 114.9 144.9 140.5 99.3 111.2 151.8 130.2 92.1 95.6 157.1 124.3 160.1 120.3 160.2 122.5 97.4 99.8 160.3 128.2 154.8 130.9 91.0 142.4 143.5 142.3 139.3 108.1 151.9 127.6 145.2 142.2 98.5 105.4 135.9 117.9 94.7 66.8 144.7 117.9 158.3 128.6 148.3 138.2 152.9 141.2 93.4 121.9 138.1 139.5 159.0 132.9 87.1 139.4 98.1 111.5 142.4 136.4 149.1 134.5 143.7 133.8 137.3 122.6 97.3 136.9 91.3 127.4 96.2 123.0 146.2 142.6 140.0 112.0 90.4 112.7 98.1 131.4 96.3 98.0 98.3 127.7 152.1 139.2 142.4 138.7 153.1 134.9 144.9 103.1 90.8 141.8 158.4 129.6 147.5 48.8 98.5 122.7 95.7 140.1 144.4 126.2 98.2 97.3 156.1 119.9 97.8 117.8 143.0 115.4 155.1 127.2 140.2 138.7 147.8 135.1 141.1 95.8 91.3 78.6 143.1 128.2 101.5 137.1 149.9 136.5 92.2 139.4 138.8 128.2 146.9 138.1 96.1 111.9 100.1 100.8 140.7 139.0 140.3 137.4 97.4 142.9 98.4 132.4 100.9 126.4 156.6 130.0 95.7 55.9 156.6 136.8 140.7 134.4 90.9 141.1 143.5 127.5 98.4 133.8 152.8 131.1 154.5 96.4 136.2 139.7 144.6 96.3 145.3 52.7 137.7 140.6 99.9 119.6 93.2 137.4 94.9 130.1 100.5 91.0 141.6 134.1 93.1 142.6 92.4 87.4 92.6 134.8 96.3 129.1 149.9 140.0 145.4 120.2 137.6 131.2 100.3 116.6 101.8 68.5 155.3 115.4 153.6 123.8 97.4 139.6 144.2 107.2 97.3 96.4 135.5 106.8 149.6 138.1 150.6 127.2 97.9 133.3 142.5 91.8 135.2 98.3 161.3 118.6 92.1 126.3 97.3 94.4 96.7 110.6 135.4 133.7 147.7 130.5 140.1 141.4 156.4 127.8 151.7 124.7 101.4 118.1 100.9 123.5 99.7 105.2 96.9 98.5 101.5 56.7 100.9 111.3 147.3 128.1 140.1 111.6 99.6 113.4 158.7 98.2 142.7 140.4 98.5 130.9 98.3 119.8 139.3 140.6 85.4 138.9 140.5 60.6 141.2 133.9 87.1 142.5 96.2 100.0 87.2 141.6 90.9 138.1 146.8 137.8 102.0 136.6 138.0 142.3 94.0 126.2 99.4 125.2 100.8 135.6 143.8 142.8 154.2 123.6 101.5 41.5 152.9 140.4 92.9 125.2 96.1 137.0 147.6 92.4 89.3 140.1 140.7 135.7 159.7 127.1 161.3 125.0 141.7 140.9 145.8 139.3 141.4 108.2 97.0 117.5 100.7 114.2 159.3 118.1 100.7 127.7 94.8 108.5 92.2 142.8 153.1 133.9 97.9 136.0 138.3 135.7 136.9 136.7 147.0 136.0 149.6 134.4 156.7 127.6 99.9 135.6 101.4 65.1 149.2 140.4 137.2 136.4 146.5 135.8 89.2 123.1 156.6 135.8 147.6 134.3 156.5 128.4 142.5 85.6 88.5 108.2 92.6 118.0 139.8 133.6 146.2 136.7 90.4 130.0 163.4 118.3 96.6 99.5 93.2 124.7 143.8 121.1 145.8 137.6 97.1 91.0 93.5 125.9 96.2 81.4 152.8 123.3 144.1 139.6 161.4 126.0 87.2 141.6 95.0 125.8 147.4 142.9 92.6 129.4 96.8 97.4 90.7 133.5 96.1 133.7 136.1 136.6 99.6 106.1 95.4 140.2 154.1 139.0 101.9 102.4 160.0 129.0 149.4 137.0 94.3 136.6 162.3 126.2 99.7 127.3 151.3 141.2 99.9 80.5 98.0 121.8 95.0 142.9 154.4 114.0 139.0 104.8 146.1 125.8 144.8 132.8 100.3 98.3 101.6 135.8 136.8 140.4 149.3 143.4 155.7 131.7 93.7 115.1 140.7 129.6 154.6 91.1 98.7 134.7 87.1 107.9 93.8 141.7 136.4 130.2 93.9 132.4 153.2 134.8 161.8 128.1 94.4 125.6 148.8 125.6 146.1 123.2 146.9 137.0 140.4 114.2 94.9 130.5 95.7 127.4 150.4 91.5 95.4 120.7 136.1 134.4 139.8 128.0 151.7 113.6 93.3 120.1 92.2 89.0 90.5 117.3 102.0 74.5 96.9 95.3 87.0 51.0 95.9 138.6 99.5 127.1 142.0 131.7 91.9 139.8 155.2 129.8 142.5 142.9 140.7 131.1 99.3 103.1 145.4 106.1 96.1 122.1 149.1 126.2 151.2 134.8 93.4 81.8 101.6 125.4 137.4 142.9 136.7 125.2 160.8 128.8 95.0 136.5 97.7 99.8 139.0 131.8 90.4 141.3 100.5 70.7 96.8 132.9 89.7 133.2 145.8 140.5 147.8 95.9 98.8 102.2 140.8 118.6 143.8 98.7 91.2 110.4 139.0 126.5 80.8 87.2 101.9 109.4 167.1 133.6 140.6 136.6 97.5 136.9 93.6 128.1 94.8 120.3 149.4 142.8 136.9 112.6 145.4 128.6 96.2 131.2 94.6 124.5 94.4 136.2 156.9 122.7 140.9 124.2 152.3 132.0 139.3 98.8 139.5 119.7 149.1 123.3 139.4 125.1 100.9 121.0 149.3 124.2 99.3 110.2 163.3 112.4 96.3 127.8 147.6 91.4 145.8 130.7 97.7 112.0 137.4 123.4 148.1 138.8 151.9 127.3 96.7 118.4 142.8 128.4 158.1 114.1 101.0 128.0 139.9 139.9 153.2 125.7 100.6 118.7 96.8 108.4 152.3 132.3 149.1 117.5 95.2 103.2 147.8 113.0 98.9 67.3 93.3 132.5 147.2 119.8 150.5 127.0 97.9 96.1 88.3 142.2 135.5 107.0 140.1 134.6 143.1 124.1 144.5 130.8 152.0 124.8 135.8 121.0 98.4 105.4 146.8 141.8 94.6 122.2 157.4 132.7 94.1 117.8 97.0 102.9 138.9 134.8 97.7 119.7 153.1 138.3 157.3 130.7 157.7 134.0 153.3 127.5 146.0 128.1 149.4 139.4 92.6 83.6 143.9 116.5 140.2 142.9 143.5 130.0 101.5 139.1 153.8 131.0 96.7 136.9 141.6 133.9 95.5 103.9 91.5 129.9 85.0 132.2 97.6 88.2 137.7 67.1 144.1 142.2 155.3 132.8 153.6 112.4 153.8 132.1 148.7 37.2 138.2 134.4 148.0 139.7 100.3 126.1 93.5 128.4 156.2 132.3 148.0 129.4 141.8 141.4 97.8 136.3 145.1 141.4 94.7 116.0 101.9 131.9 147.0 135.1 148.4 137.6 144.4 132.7 95.2 130.0 89.2 132.3 94.6 142.8 156.3 135.9 97.5 116.1 92.3 136.0 101.5 103.1 93.5 125.3 152.8 131.5 97.2 132.8 136.1 139.3 101.0 142.0 100.0 110.6 156.9 134.2 99.8 137.9 97.6 111.7 148.2 130.2 93.0 141.5 101.8 101.3 101.4 109.5 147.5 134.5 150.7 133.8 100.0 133.9 149.8 142.8 98.3 130.7 153.7 139.1 154.0 138.5 148.8 135.0 100.6 141.3 152.9 137.0 94.6 124.3 161.5 121.1 150.8 128.9 97.5 116.3 144.2 141.4 96.4 136.4 150.3 75.3 154.4 132.0 150.4 86.6 151.0 130.2 138.2 131.5 96.9 109.0 100.8 118.5 155.5 131.1 99.3 129.7 98.9 106.8 142.9 130.5 139.0 136.6 97.7 132.8 153.3 97.7 138.9 129.9 79.1 37.2 150.9 109.7 96.4 114.9 163.5 114.2 140.5 139.5 140.4 129.8 101.4 77.8 139.8 139.7 147.1 83.4 150.3 142.5 148.4 136.4 97.5 122.0 96.4 101.4 97.8 123.9 140.2 135.7 93.4 126.3 98.5 108.5 87.4 140.9 147.2 130.3 147.9 124.8 96.1 134.6 157.4 133.2 97.5 112.2 93.5 120.2 167.9 110.0 159.1 116.3 158.0 122.3 148.7 129.8 89.9 134.8 92.2 122.6 145.5 90.9 146.2 127.9 144.3 140.9 90.1 139.8 185.5 89.6 151.5 130.8 136.5 126.7 92.2 140.3 91.7 136.0 94.1 121.1 91.9 134.8 97.9 111.0 142.2 123.0 98.2 135.3 95.5 126.8 153.6 139.5 136.9 116.5 101.4 125.1 89.7 120.4 140.5 139.3 99.1 104.0 101.8 122.3 95.1 142.9 101.5 92.4 99.1 102.9 149.5 138.8 155.8 128.5 95.4 124.2 98.2 92.8 157.6 131.2 145.1 125.7 101.0 137.2 141.9 138.0 96.8 120.7 163.3 122.1 150.7 135.5 88.0 141.3 100.4 88.7 98.6 103.6 153.8 128.5 90.8 136.1 99.6 74.2 92.5 110.9 87.4 142.8 100.0 118.4 136.5 105.8 99.2 111.8 95.0 111.3 93.7 128.3 143.9 71.9 94.5 109.0 94.8 123.1 99.2 137.3 89.9 107.6 185.5 127.7 153.1 103.9 145.7 134.4 151.5 100.9 95.2 132.2 156.2 134.1 92.1 119.8 153.1 125.0 92.1 132.5 154.5 129.9 147.0 133.5 147.5 132.1 145.0 132.4 96.3 115.6 99.2 119.9 155.7 134.4 154.1 122.8 100.8 111.9 96.3 109.7 101.4 102.8 93.9 131.3 100.5 111.5 137.9 142.0 100.3 119.6 97.4 117.6 145.6 140.7 152.9 127.2 150.0 140.8 154.7 136.4 95.1 97.7 98.2 128.5 156.9 129.4 95.6 127.0 99.2 136.3 152.1 138.1 139.0 119.3 150.2 142.6 101.8 115.7 97.7 130.4 138.3 135.7 148.9 129.2 94.9 119.9 151.7 122.8 99.8 73.9 152.5 142.1 99.0 113.3 94.0 133.6 147.4 136.4 141.8 137.8 142.1 128.1 77.5 112.2 101.4 103.3 101.0 114.8 154.0 115.2 95.2 119.1 147.5 128.7 93.3 88.5 101.8 119.0 89.8 140.5 147.8 140.0 156.6 114.2 93.2 122.4 161.7 120.8 140.7 142.2 91.2 140.0 98.9 113.0 143.4 139.8 100.8 127.6 144.4 130.2 100.9 113.2 97.1 98.4 151.2 126.7 97.6 122.9 101.2 37.2 146.6 137.0 143.6 128.1 140.2 128.8 95.3 120.6 149.0 112.4 93.6 125.6 145.4 136.7 98.4 100.4 154.7 130.6 153.8 141.7 149.6 97.7 99.6 75.6 100.3 78.3 96.1 121.5 94.3 141.4 154.0 136.8 144.1 133.9 145.3 127.6 138.0 90.1 139.5 134.2 96.2 103.8 135.6 136.2 93.0 125.6 99.2 76.9 96.1 53.6 135.6 66.4 92.4 124.7 156.7 132.2 138.1 137.9 92.9 142.9 148.4 141.5 98.1 106.9 96.4 139.1 95.2 121.2 162.5 115.7 136.1 108.0 140.0 139.7 136.5 128.9 156.9 123.9 99.5 133.9 145.9 139.4 151.0 128.9 150.0 128.5 93.8 135.2 90.5 133.7 155.4 125.0 137.6 105.3 95.5 68.9 145.0 135.7 136.1 137.7 146.6 111.6 98.1 124.7 98.6 102.8 96.3 125.0 157.1 128.2 147.9 133.1 99.0 132.0 143.2 140.3 151.9 130.4 149.5 135.8 98.3 123.0 137.3 137.0 98.2 137.3 92.0 129.6 136.4 88.4 101.3 126.5 158.5 132.4 148.7 133.1 95.1 124.8 98.2 123.7 99.6 61.2 95.7 128.2 149.6 126.0 92.2 126.3 140.7 124.9 100.5 88.3 96.5 108.7 157.3 130.3 160.4 116.9 96.8 101.1 146.5 120.4 147.1 123.0 97.7 134.6 95.1 121.5 101.5 109.3 157.9 127.5 95.9 118.3 98.7 95.9 93.5 137.8 161.8 112.5 92.1 130.5 136.5 110.8 159.5 102.2 137.2 133.7 96.6 95.1 157.3 104.0 95.3 107.0 155.8 115.6 139.2 126.2 92.4 123.0 142.5 129.6 147.0 129.2 94.8 125.3 93.2 138.1 143.7 86.8 155.0 128.4 92.5 126.3 100.3 122.8 151.8 116.9 158.4 117.6 87.7 138.7 89.8 117.6 143.9 138.1 161.4 115.6 143.7 138.3 93.7 130.0 93.5 119.3 146.3 93.0 136.2 142.8 100.8 105.7 156.8 135.2 94.3 110.0 99.0 131.5 157.3 129.9 150.4 133.1 98.8 140.9 90.7 139.4 94.4 118.5 101.0 113.0 96.6 115.2 145.1 83.4 100.5 121.3 95.6 119.3 140.5 138.0 92.2 97.0 91.1 124.1 150.8 113.9 99.9 125.6 140.0 141.2 99.8 116.6 156.8 124.8 161.0 80.4 155.4 129.9 138.4 136.2 137.0 134.3 96.2 107.0 154.2 131.3 137.9 142.4 91.8 125.1 93.3 136.9 98.4 106.9 97.9 114.7 100.3 107.1 138.2 141.3 92.8 140.4 139.7 141.6 99.4 137.0 93.3 119.9 101.6 79.1 159.6 128.1 149.8 131.4 92.7 125.3 150.5 129.7 94.5 135.2 158.3 116.7 101.2 128.5 148.2 128.9 91.3 128.1 98.0 69.1 136.2 142.2 157.9 130.9 101.6 116.1 142.6 122.5 157.1 127.3 151.3 123.5 99.1 124.7 99.7 125.5 98.1 134.6 100.1 112.7 95.1 127.1 100.9 131.2 145.1 138.2 143.3 136.4 151.8 105.2 150.7 128.7 99.6 132.3 145.9 124.6 147.2 132.3 82.7 65.1 101.6 125.5 151.9 94.7 138.1 136.1 150.8 136.6 142.9 96.0 140.9 92.6 97.2 128.9 94.2 122.1 149.3 127.7 91.5 126.3 149.9 143.4 140.0 127.9 153.1 85.6 163.1 112.6 138.4 137.9 138.9 114.9 144.9 92.7 96.5 131.2 99.8 115.9 92.0 140.5 94.2 108.7 158.6 130.7 165.4 102.7 161.5 125.4 141.7 136.6 99.6 138.7 139.9 135.4 96.8 139.3 101.1 136.0 100.1 125.0 151.3 132.6 155.8 134.9 152.9 136.1 101.7 125.6 94.4 138.3 101.5 95.4 150.4 111.6 89.1 100.1 99.2 114.4 94.9 120.8 95.4 106.6 98.5 121.3 140.0 137.4 136.5 118.9 93.3 131.3 94.9 131.4 92.9 119.7 138.6 122.0 150.3 141.4 155.7 131.6 97.2 134.1 162.6 126.7 92.6 131.5 100.1 138.1 148.5 135.6 97.1 37.2 175.4 130.0 151.1 142.1 151.5 116.8 140.3 135.9 92.8 132.3 146.8 75.6 93.1 117.9 92.9 99.4 141.7 122.1 99.8 109.0 147.3 128.5 147.9 140.5 152.7 101.1 87.4 142.7 151.6 133.6 96.9 117.7 97.3 126.9 90.7 123.2 93.2 136.0 140.1 139.5 136.6 141.5 94.0 111.7 98.8 63.3 94.6 120.6 98.6 103.0 158.9 132.7 160.4 119.1 138.6 135.9 93.2 131.8 154.2 98.3 92.9 132.0 139.4 128.6 143.5 118.2 136.6 123.9 92.9 131.6 145.7 130.8 136.0 137.6 141.4 138.8 97.4 119.9 95.0 120.4 92.9 133.1 100.4 44.3 100.1 117.3 100.1 121.6 98.8 132.3 96.3 106.6 153.3 109.7 98.0 103.7 147.1 130.3 153.2 133.2 99.9 108.8 96.8 134.6 100.9 120.7 143.9 133.8 152.3 108.1 137.8 138.1 97.4 130.4 138.1 141.4 97.8 112.7 100.9 107.3 152.6 132.6 98.4 130.7 149.9 113.6 96.1 114.0 166.3 112.5 136.6 132.8 98.0 111.0 150.6 102.6 71.6 52.2 91.0 130.1 99.5 110.5 87.1 142.5 158.3 131.4 149.6 117.6 144.8 124.7 137.4 141.5 153.1 140.9 141.2 131.2 137.7 90.2 136.4 130.6 92.8 132.2 137.9 105.6 137.7 130.9 136.1 37.2 98.8 111.8 153.3 122.2 155.0 137.7 151.2 135.4 101.2 138.7 139.2 131.8 92.3 129.2 152.9 142.2 151.2 108.9 135.2 127.8 95.3 112.1 97.3 123.8 142.9 130.1 156.8 133.3 153.0 128.8 153.8 131.0 153.0 133.9 153.1 131.0 148.6 136.4 137.5 122.9 150.7 130.8 90.4 128.1 160.5 129.7 152.9 141.9 95.4 117.1 96.6 112.9 137.7 37.4 93.5 119.3 144.3 135.7 99.2 103.0 98.3 137.3 98.3 112.8 159.5 128.5 140.2 135.9 139.0 128.6 74.9 134.8 147.6 116.6 139.8 92.0 95.2 132.1 138.6 119.9 146.4 89.4 86.7 61.0 150.9 129.1 156.6 132.7 146.1 140.2 96.1 122.3 101.2 82.6 95.8 112.0 162.7 108.3 142.1 123.0 99.0 100.2 101.9 71.8 93.5 136.2 96.0 138.0 95.8 137.6 146.6 119.8 153.6 109.7 95.4 122.3 158.6 131.5 150.3 128.9 98.4 98.9 96.0 107.9 161.9 123.7 143.7 122.9 90.7 142.0 98.9 141.0 147.8 142.6 99.8 130.8 98.5 105.9 92.8 132.0 96.3 129.5 101.6 115.4 98.1 92.6 138.6 141.4 97.0 132.5 156.8 119.7 97.0 109.3 142.3 124.2 141.1 128.2 146.4 131.6 99.1 112.2 140.2 136.1 146.8 87.6 148.9 138.6 96.1 137.6 93.5 122.9 98.7 95.2 137.1 133.6 91.1 109.6 100.8 136.8 94.8 122.2 151.9 135.8 93.0 129.0 142.8 133.2 93.9 126.5 98.0 101.3 145.0 139.3 150.7 127.8 144.8 137.1 99.2 120.8 153.0 120.9 140.5 130.2 154.8 80.8 143.4 70.3 91.9 142.0 157.1 135.3 97.8 120.1 100.3 134.8 97.7 141.1 139.1 136.8 96.6 136.2 137.4 132.4 147.3 128.9 135.4 89.3 138.4 106.2 92.9 121.8 148.2 90.3 142.7 124.4 97.8 92.7 84.0 100.9 152.9 40.0 93.7 69.4 149.2 134.7 149.4 143.2 146.3 117.3 141.0 139.3 98.5 96.9 143.8 123.3 98.5 88.6 101.3 135.5 147.2 129.0 98.4 115.8 147.1 143.0 140.3 120.5 152.0 130.1 148.4 84.6 145.2 134.9 93.5 129.6 90.9 131.0 149.6 110.0 171.4 54.5 93.7 126.8 137.6 93.0 93.3 118.8 94.8 105.1 99.1 50.5 138.7 123.1 148.6 119.4 100.6 142.5 140.3 37.2 94.5 126.0 92.0 131.6 154.1 132.3 97.6 113.7 100.7 94.3 139.7 82.8 141.0 142.7 152.6 110.1 101.1 127.1 98.4 129.6 95.8 108.4 147.6 127.5 149.3 134.8 158.3 131.8 141.2 133.1 99.9 117.4 100.4 118.0 144.7 135.7 138.3 142.3 101.3 138.7 99.1 96.9 100.0 133.8 158.0 136.0 95.1 130.5 100.1 90.6 93.9 140.0 153.7 59.8 85.8 140.4 98.7 128.4 96.6 130.1 148.9 141.9 99.1 123.6 142.5 135.4 139.2 131.6 159.7 128.4 92.2 117.0 138.6 133.6 98.8 103.0 101.4 56.9 159.9 127.1 100.2 87.5 157.5 135.0 101.6 140.3 90.0 142.7 101.9 93.0 146.6 137.1 144.5 129.7 154.2 133.3 91.2 109.2 148.5 138.8 93.1 131.7 150.2 107.8 94.3 126.9 151.5 135.4 153.1 111.0 147.8 139.9 137.9 134.8 100.7 123.0 138.8 126.8 138.2 130.0 100.1 119.3 149.9 104.8 156.5 130.2 157.3 112.3 153.7 76.0 79.4 133.0 100.3 117.9 145.0 131.8 154.9 125.3 100.7 61.2 96.4 111.2 139.3 133.5 152.2 131.9 153.0 119.3 154.0 101.6 159.6 131.3 139.9 123.7 98.7 129.5 154.2 133.0 99.1 142.9 152.1 134.1 101.4 130.7 93.4 135.2 99.5 97.5 88.8 134.2 99.8 104.9 98.9 134.6 96.0 104.1 143.0 126.0 148.6 113.1 94.3 131.7 99.0 97.5 140.4 130.5 147.5 130.2 146.8 118.3 100.4 132.4 91.6 126.7 135.7 138.2 152.3 108.2 98.4 88.2 154.8 129.5 97.6 134.0 148.4 135.8 156.0 137.1 137.8 143.5 101.0 140.6 145.9 130.2 160.0 43.6 96.1 129.4 144.4 129.8 143.3 129.0 93.4 136.0 95.9 139.6 151.4 98.9 93.0 131.6 99.3 125.4 96.1 107.4 146.4 108.5 97.2 117.7 93.4 128.8 153.3 105.5 96.2 43.6 146.0 141.3 140.8 127.7 138.3 126.4 142.8 69.5 100.6 107.7 101.3 56.9 100.3 108.0 145.5 124.9 161.3 128.0 97.8 128.1 100.4 128.6 94.7 114.7 101.0 102.6 149.8 133.5 157.7 135.8 100.9 106.0 102.0 125.8 154.2 133.5 158.2 117.7 135.1 128.3 99.6 131.8 139.3 139.7 97.9 135.6 157.9 115.8 100.5 112.4 95.6 112.6 153.9 117.0 151.2 130.5 135.4 136.1 93.6 129.0 95.8 126.3 139.5 135.2 96.7 136.3 158.6 126.0 149.4 130.7 150.5 120.4 148.1 129.1 139.2 70.4 98.6 134.2 146.2 140.2 147.0 102.8 101.0 129.6 88.2 141.0 147.8 134.6 138.2 51.8 94.0 124.9 99.4 106.1 100.8 57.2 98.1 104.0 156.5 133.3 149.8 91.4 145.3 132.9 136.9 107.0 141.0 140.3 89.9 133.3 97.5 119.5 150.8 128.3 160.5 127.6 93.9 112.7 95.1 137.7 155.4 96.1 159.6 128.5 97.4 107.6 92.1 133.6 92.5 141.8 156.6 132.8 153.7 132.7 96.0 122.8 140.1 131.1 93.9 130.9 145.3 130.8 150.4 130.6 99.2 37.2 99.1 142.5 101.0 102.6 151.5 139.7 101.3 127.9 101.7 112.9 98.7 132.8 154.5 132.6 94.6 137.4 95.7 117.1 94.1 122.1 158.8 128.1 152.7 127.1 93.0 136.1 157.2 125.5 98.3 140.5 92.0 128.2 149.8 135.9 152.7 138.4 95.1 114.8 89.7 125.8 99.7 137.3 148.9 130.8 96.9 132.2 97.6 107.8 98.0 101.4 93.7 142.2 90.9 142.4 140.0 141.6 91.9 132.8 145.9 127.8 99.2 135.2 141.9 89.5 145.0 142.8 157.5 102.6 138.9 129.9 93.2 118.2 139.1 105.4 158.5 129.4 98.3 119.2 151.5 135.4 152.4 132.7 94.1 124.8 97.6 102.9 144.8 128.1 157.8 127.4 94.9 131.3 94.8 137.1 150.8 133.3 151.1 130.4 140.3 98.8 94.3 115.2 138.9 134.4 135.7 92.8 93.3 123.7 95.9 108.8 141.5 132.1 169.2 135.4 90.8 132.4 94.0 121.2 97.4 101.8 152.3 113.5 98.9 102.7 93.3 123.9 100.0 124.0 92.1 116.7 90.2 137.3 92.9 127.4 144.0 125.0 97.6 143.0 91.6 130.5 96.4 107.5 94.2 129.1 99.2 111.8 96.2 128.7 85.7 131.3 138.8 138.1 138.8 107.9 154.9 128.4 98.8 139.8 95.9 133.5 145.5 136.1 97.5 115.4 145.3 137.2 153.7 131.6 137.4 140.7 93.4 123.7 144.9 104.3 136.9 139.4 136.9 37.2 99.0 131.3 149.5 126.3 90.6 131.5 143.6 64.6 143.7 103.7 158.9 129.5 156.8 117.9 100.8 88.0 101.6 129.9 154.2 140.6 101.0 139.2 155.2 129.7 97.8 97.0 139.8 129.6 97.9 114.3 147.6 134.0 88.5 113.5 96.5 122.5 92.4 124.5 95.6 114.8 100.5 47.2 143.5 123.0 141.8 136.5 146.5 123.0 138.5 131.4 95.8 37.7 96.4 137.0 94.8 105.9 93.3 137.4 143.9 138.1 87.4 142.0 85.0 75.3 136.7 128.3 101.4 123.1 148.0 140.2 144.4 127.3 157.7 131.3 90.7 133.2 98.2 139.5 98.4 67.2 100.3 78.7 97.1 138.9 144.9 105.5 95.9 106.6 143.3 140.9 101.1 65.4 98.0 100.7 138.4 142.8 100.0 121.6 137.3 134.5 98.6 90.7 89.4 133.2 101.1 64.3 95.9 133.7 93.6 130.4 137.3 128.0 141.4 91.6 90.3 134.3 141.8 139.3 100.3 115.5 101.0 119.4 101.6 129.7 101.2 56.4 145.2 127.9 142.9 138.4 89.7 138.3 151.0 128.2 96.2 141.6 98.8 76.9 136.5 128.2 146.2 141.3 97.5 100.5 91.8 138.2 92.8 128.7 95.6 120.4 137.8 140.6 142.1 141.4 99.0 139.2 98.2 113.4 98.8 100.8 93.5 123.6 143.8 141.7 93.4 121.0 94.9 125.5 137.0 137.3 88.3 116.2 146.2 142.7 96.8 123.5 92.9 118.9 185.5 112.2 100.1 101.1 100.5 86.7 98.2 142.7 88.7 136.8 98.9 125.3 150.6 75.6 143.6 127.8 139.7 130.7 100.7 102.3 95.5 134.1 91.1 137.9 141.9 128.7 158.5 130.9 153.5 116.1 91.5 131.9 101.4 140.0 99.9 119.5 100.2 137.2 136.3 131.1 92.5 129.6 152.0 127.5 141.6 90.2 100.9 131.1 151.9 139.2 143.6 136.1 152.9 120.5 148.7 134.2 94.5 118.8 99.7 112.7 101.0 140.5 137.3 131.0 97.7 142.3 148.7 142.5 101.8 110.3 99.2 131.1 94.6 140.3 144.8 125.8 92.1 89.4 149.9 124.5 156.9 132.5 95.0 140.3 135.7 135.8 100.7 119.7 92.3 119.8 95.7 122.7 93.1 117.9 99.6 118.2 94.6 122.1 152.6 141.7 161.4 128.4 137.4 133.1 89.6 126.8 145.5 140.9 91.1 135.7 156.4 128.9 152.0 135.0 96.1 118.4 92.8 119.9 95.5 111.7 154.6 136.8 97.9 141.2 97.7 131.3 153.4 107.4 100.8 139.9 92.0 100.2 151.7 124.8 100.2 70.0 93.9 125.0 97.3 114.6 101.9 118.0 141.5 100.9 99.0 111.6 137.2 101.4 143.8 132.3 101.7 115.3 159.6 132.3 96.9 106.4 138.8 131.6 144.0 125.3 161.5 126.3 96.4 127.9 99.5 115.5 99.0 112.5 151.9 141.1 93.0 127.2 91.2 105.5 150.7 140.1 149.5 127.7 93.8 130.4 98.3 130.6 100.7 137.4 92.2 138.0 136.0 53.0 101.2 84.9 99.8 42.3 152.2 140.4 157.2 131.2 95.5 108.9 98.6 55.7 95.1 126.3 153.7 128.5 95.4 130.9 150.6 131.0 97.8 136.8 91.6 130.5 151.9 130.6 141.2 141.4 101.3 128.9 136.3 124.5 140.5 122.5 100.6 77.9 154.3 128.6 136.3 107.2 150.8 140.1 149.4 143.8 158.6 118.2 95.8 101.6 99.4 88.1 154.9 133.8 142.7 99.4 151.6 142.6 93.9 116.9 97.7 128.3 160.5 127.4 139.0 133.0 99.2 115.2 91.7 130.6 93.3 141.4 94.0 137.3 98.7 138.1 94.0 141.6 93.5 128.6 98.7 114.5 95.9 106.7 95.7 141.2 97.1 133.0 148.7 133.4 147.3 138.3 100.6 82.1 149.6 131.3 138.3 140.5 149.3 45.0 148.1 133.7 97.3 112.0 88.7 115.7 150.1 138.1 94.4 140.0 140.6 139.9 92.2 118.7 138.0 115.9 144.4 133.2 91.9 127.4 96.8 131.6 158.8 131.6 91.8 130.3 92.4 118.5 147.2 134.9 141.9 122.0 139.0 124.5 135.1 104.0 152.1 133.2 145.8 130.3 98.8 77.9 100.4 37.2 91.4 137.5 156.1 132.2 138.6 141.3 97.6 140.1 142.1 105.3 140.6 139.0 98.6 107.1 154.0 114.2 142.0 108.1 141.5 138.9 142.1 136.0 135.7 65.4 136.7 128.6 158.0 134.6 100.6 43.1 148.7 137.2 140.2 107.0 101.7 99.2 143.3 115.9 95.4 135.6 100.7 87.6 137.9 89.6 136.7 136.2 92.3 127.2 101.4 125.2 89.9 142.1 99.9 128.6 147.8 133.0 145.3 141.7 96.1 123.4 153.4 133.2 142.8 139.3 98.7 112.1 137.5 95.5 156.1 128.0 94.6 125.3 90.3 128.5 149.7 108.0 143.8 113.8 149.9 90.2 96.9 99.2 147.5 106.5 141.3 131.0 94.7 142.4 143.3 129.8 94.5 84.5 95.8 121.0 147.1 112.0 96.4 123.8 100.8 61.7 87.4 142.4 155.0 98.7 96.5 114.2 153.2 122.4 92.4 142.1 147.5 136.5 98.6 136.6 94.6 129.5 96.8 130.1 138.2 130.4 99.6 110.7 86.1 143.5 158.3 121.8 91.2 141.3 150.4 142.5 98.1 37.2 185.5 37.2 101.3 136.3 98.2 130.9 151.5 128.1 91.5 107.9 145.1 132.6 101.1 130.7 94.4 112.6 90.4 93.5 99.7 132.6 94.9 123.3 101.7 108.2 154.1 136.8 143.7 86.8 135.3 137.6 157.9 100.0" fill="none" stroke="none" marker-start="url(#mr)" marker-mid="url(#mr)" marker-end="url(#mr)"/>
<line x1="48" y1="143.1" x2="190" y2="143.1" stroke="#bbb" stroke-width="0.6" stroke-dasharray="1 1.2"/>
<line x1="135.2" y1="35" x2="135.2" y2="143" stroke="#bbb" stroke-width="0.6" stroke-dasharray="1 1.2"/>
<line x1="101.8" y1="35" x2="101.8" y2="143" stroke="#bbb" stroke-width="0.6" stroke-dasharray="1 1.2"/>
<rect x="46.2" y="34.6" width="144.2" height="129.1" fill="none" stroke="#231f20" stroke-width="1.3"/>
<line x1="42.8" y1="158.6" x2="46.2" y2="158.6" stroke="#231f20" stroke-width="1.1"/>
<text x="38.2" y="161.3" font-size="7.6" text-anchor="end" stroke="#231f20" stroke-width="0.21" textLength="4.2" lengthAdjust="spacingAndGlyphs">0</text>
<line x1="42.8" y1="134.8" x2="46.2" y2="134.8" stroke="#231f20" stroke-width="1.1"/>
<text x="38.2" y="137.5" font-size="7.6" text-anchor="end" stroke="#231f20" stroke-width="0.21" textLength="4.2" lengthAdjust="spacingAndGlyphs">2</text>
<line x1="42.8" y1="111.0" x2="46.2" y2="111.0" stroke="#231f20" stroke-width="1.1"/>
<text x="38.2" y="113.7" font-size="7.6" text-anchor="end" stroke="#231f20" stroke-width="0.21" textLength="4.2" lengthAdjust="spacingAndGlyphs">4</text>
<line x1="42.8" y1="87.2" x2="46.2" y2="87.2" stroke="#231f20" stroke-width="1.1"/>
<text x="38.2" y="89.9" font-size="7.6" text-anchor="end" stroke="#231f20" stroke-width="0.21" textLength="4.2" lengthAdjust="spacingAndGlyphs">6</text>
<line x1="42.8" y1="63.4" x2="46.2" y2="63.4" stroke="#231f20" stroke-width="1.1"/>
<text x="38.2" y="66.1" font-size="7.6" text-anchor="end" stroke="#231f20" stroke-width="0.21" textLength="4.2" lengthAdjust="spacingAndGlyphs">8</text>
<text x="38.2" y="42.2" font-size="7.6" text-anchor="end" stroke="#231f20" stroke-width="0.21" textLength="14.1" lengthAdjust="spacingAndGlyphs">&gt;10</text>
<text x="51.6" y="177.3" font-size="7.6" text-anchor="middle" stroke="#231f20" stroke-width="0.21" textLength="11.9" lengthAdjust="spacingAndGlyphs">&lt;-4</text>
<line x1="85.0" y1="163.6" x2="85.0" y2="166.8" stroke="#231f20" stroke-width="1.1"/>
<text x="85.0" y="177.3" font-size="7.6" text-anchor="middle" stroke="#231f20" stroke-width="0.21" textLength="7.0" lengthAdjust="spacingAndGlyphs">-2</text>
<line x1="118.5" y1="163.6" x2="118.5" y2="166.8" stroke="#231f20" stroke-width="1.1"/>
<text x="118.5" y="177.3" font-size="7.6" text-anchor="middle" stroke="#231f20" stroke-width="0.21" textLength="4.4" lengthAdjust="spacingAndGlyphs">0</text>
<line x1="152.0" y1="163.6" x2="152.0" y2="166.8" stroke="#231f20" stroke-width="1.1"/>
<text x="152.0" y="177.3" font-size="7.6" text-anchor="middle" stroke="#231f20" stroke-width="0.21" textLength="4.4" lengthAdjust="spacingAndGlyphs">2</text>
<text x="185.4" y="177.3" font-size="7.6" text-anchor="middle" stroke="#231f20" stroke-width="0.21" textLength="8.6" lengthAdjust="spacingAndGlyphs">&gt;4</text>
<path d="M41.5 40.8 Q44 38.6 46.1 39.6 T50.8 38.6 L50.8 40.8 Q48.4 39.8 46.1 41.8 T41.5 42.9 Z" fill="#fff"/>
<path d="M41.5 40.8 Q44 38.6 46.1 39.6 T50.8 38.6 M41.5 42.9 Q44 40.8 46.1 41.8 T50.8 40.8" stroke="#231f20" stroke-width="0.9" fill="none"/>
<path d="M51.4 166.6 L54.6 160.2 L56.6 160.4 L53.5 168.4 Z" fill="#fff"/>
<path d="M51.4 166.6 L54.6 160.2 M53.5 168.4 L56.6 160.4" stroke="#231f20" stroke-width="0.9" fill="none"/>
<path d="M180.6 168 L183 160.2 L185 160.5 L182.5 168.5 Z" fill="#fff"/>
<path d="M180.6 168 L183 160.2 M182.5 168.5 L185 160.5" stroke="#231f20" stroke-width="0.9" fill="none"/>
<g transform="translate(15.6 125) rotate(-90)">
<text x="0.6" y="0.0" font-size="9.5" stroke="#231f20" stroke-width="0.22" textLength="14.6" lengthAdjust="spacingAndGlyphs">-log</text>
<text x="15.2" y="2.2" font-size="6.5" stroke="#231f20" stroke-width="0.18" textLength="6.2" lengthAdjust="spacingAndGlyphs">10</text>
<text x="21.6" y="0.0" font-size="9.5" stroke="#231f20" stroke-width="0.22" textLength="29.7" lengthAdjust="spacingAndGlyphs">(q value)</text>
</g>
<text x="41.2" y="194.0" font-size="9.5" stroke="#231f20" stroke-width="0.22" textLength="9.8" lengthAdjust="spacingAndGlyphs">log</text>
<text x="51.3" y="196.6" font-size="6.5" stroke="#231f20" stroke-width="0.18" textLength="2.9" lengthAdjust="spacingAndGlyphs">2</text>
<text x="54.3" y="194.0" font-size="9.5" stroke="#231f20" stroke-width="0.22" textLength="74.2" lengthAdjust="spacingAndGlyphs">(fold change (control/</text>
<text x="128.8" y="194.0" font-size="9.5" font-style="italic" stroke="#231f20" stroke-width="0.22" textLength="22.7" lengthAdjust="spacingAndGlyphs">Runx1</text>
<text x="152.3" y="189.7" font-size="6.8" font-style="italic" stroke="#231f20" stroke-width="0.19" textLength="39.6" lengthAdjust="spacingAndGlyphs">KTAMK/KTAMK</text>
<text x="191.9" y="194.0" font-size="9.5" stroke="#231f20" stroke-width="0.22" textLength="4.3" lengthAdjust="spacingAndGlyphs">))</text>
<text x="290.6" y="43.0" font-size="8" text-anchor="end" stroke="#231f20" stroke-width="0.22" textLength="34.6" lengthAdjust="spacingAndGlyphs">control #1</text>
<text x="290.6" y="57.7" font-size="8" text-anchor="end" stroke="#231f20" stroke-width="0.22" textLength="34.6" lengthAdjust="spacingAndGlyphs">control #2</text>
<text x="219.6" y="73.3" font-size="8" font-style="italic" stroke="#231f20" stroke-width="0.22" textLength="21.4" lengthAdjust="spacingAndGlyphs">Runx1</text>
<text x="241.6" y="69.6" font-size="6.0" font-style="italic" stroke="#231f20" stroke-width="0.17" textLength="38.8" lengthAdjust="spacingAndGlyphs">KTAMK/KTAMK</text>
<text x="290.6" y="73.3" font-size="8" text-anchor="end" stroke="#231f20" stroke-width="0.22" textLength="8.9" lengthAdjust="spacingAndGlyphs">#1</text>
<text x="219.6" y="88.0" font-size="8" font-style="italic" stroke="#231f20" stroke-width="0.22" textLength="21.4" lengthAdjust="spacingAndGlyphs">Runx1</text>
<text x="241.6" y="84.3" font-size="6.0" font-style="italic" stroke="#231f20" stroke-width="0.17" textLength="38.8" lengthAdjust="spacingAndGlyphs">KTAMK/KTAMK</text>
<text x="290.6" y="88.0" font-size="8" text-anchor="end" stroke="#231f20" stroke-width="0.22" textLength="8.9" lengthAdjust="spacingAndGlyphs">#2</text>
<text x="290.6" y="138.2" font-size="8" text-anchor="end" stroke="#231f20" stroke-width="0.22" textLength="34.6" lengthAdjust="spacingAndGlyphs">control #1</text>
<text x="290.6" y="152.9" font-size="8" text-anchor="end" stroke="#231f20" stroke-width="0.22" textLength="34.6" lengthAdjust="spacingAndGlyphs">control #2</text>
<text x="219.6" y="168.8" font-size="8" font-style="italic" stroke="#231f20" stroke-width="0.22" textLength="21.4" lengthAdjust="spacingAndGlyphs">Runx1</text>
<text x="241.6" y="165.1" font-size="6.0" font-style="italic" stroke="#231f20" stroke-width="0.17" textLength="38.8" lengthAdjust="spacingAndGlyphs">KTAMK/KTAMK</text>
<text x="290.6" y="168.8" font-size="8" text-anchor="end" stroke="#231f20" stroke-width="0.22" textLength="8.9" lengthAdjust="spacingAndGlyphs">#1</text>
<text x="219.6" y="183.7" font-size="8" font-style="italic" stroke="#231f20" stroke-width="0.22" textLength="21.4" lengthAdjust="spacingAndGlyphs">Runx1</text>
<text x="241.6" y="180.0" font-size="6.0" font-style="italic" stroke="#231f20" stroke-width="0.17" textLength="38.8" lengthAdjust="spacingAndGlyphs">KTAMK/KTAMK</text>
<text x="290.6" y="183.7" font-size="8" text-anchor="end" stroke="#231f20" stroke-width="0.22" textLength="8.9" lengthAdjust="spacingAndGlyphs">#2</text>
<text x="290.6" y="231.8" font-size="8" text-anchor="end" stroke="#231f20" stroke-width="0.22" textLength="34.6" lengthAdjust="spacingAndGlyphs">control #1</text>
<text x="290.6" y="246.7" font-size="8" text-anchor="end" stroke="#231f20" stroke-width="0.22" textLength="34.6" lengthAdjust="spacingAndGlyphs">control #2</text>
<text x="219.6" y="262.6" font-size="8" font-style="italic" stroke="#231f20" stroke-width="0.22" textLength="21.4" lengthAdjust="spacingAndGlyphs">Runx1</text>
<text x="241.6" y="258.9" font-size="6.0" font-style="italic" stroke="#231f20" stroke-width="0.17" textLength="38.8" lengthAdjust="spacingAndGlyphs">KTAMK/KTAMK</text>
<text x="290.6" y="262.6" font-size="8" text-anchor="end" stroke="#231f20" stroke-width="0.22" textLength="8.9" lengthAdjust="spacingAndGlyphs">#1</text>
<text x="219.6" y="277.3" font-size="8" font-style="italic" stroke="#231f20" stroke-width="0.22" textLength="21.4" lengthAdjust="spacingAndGlyphs">Runx1</text>
<text x="241.6" y="273.6" font-size="6.0" font-style="italic" stroke="#231f20" stroke-width="0.17" textLength="38.8" lengthAdjust="spacingAndGlyphs">KTAMK/KTAMK</text>
<text x="290.6" y="277.3" font-size="8" text-anchor="end" stroke="#231f20" stroke-width="0.22" textLength="8.9" lengthAdjust="spacingAndGlyphs">#2</text>
<rect x="295" y="30.6" width="215.8" height="67.0" fill="#f4f4f4"/>
<line x1="295" y1="46.5" x2="510.8" y2="46.5" stroke="#fff" stroke-width="0.8"/>
<line x1="295" y1="61.0" x2="510.8" y2="61.0" stroke="#fff" stroke-width="0.8"/>
<line x1="295" y1="76.2" x2="510.8" y2="76.2" stroke="#fff" stroke-width="0.8"/>
<line x1="295" y1="91.4" x2="510.8" y2="91.4" stroke="#fff" stroke-width="0.8"/>
<line x1="295.5" y1="45.4" x2="510.5" y2="45.4" stroke="#2e3f9e" stroke-width="0.45" opacity="0.75"/>
<path d="M295.5,45.4L295.5,45.4L295.8,45.4L296.2,45.4L296.5,45.4L296.8,45.4L297.1,45.4L297.5,45.4L297.8,45.4L298.1,45.4L298.5,45.4L298.8,45.4L299.1,45.4L299.5,45.4L299.8,44.4L300.1,45.4L300.4,45.4L300.8,45.4L301.1,45.4L301.4,45.4L301.8,45.4L302.1,45.4L302.4,44.5L302.8,45.4L303.1,45.4L303.4,45.4L303.8,45.4L304.1,44.2L304.4,45.4L304.7,45.4L305.1,45.3L305.4,44.5L305.7,43.1L306.1,44.2L306.4,44.8L306.7,45.4L307.1,45.4L307.4,45.4L307.7,45.4L308.0,44.9L308.4,45.0L308.7,44.4L309.0,44.3L309.4,44.7L309.7,44.8L310.0,45.3L310.4,45.4L310.7,44.5L311.0,45.3L311.3,45.4L311.7,45.4L312.0,45.4L312.3,45.4L312.7,45.4L313.0,45.4L313.3,45.4L313.6,45.4L314.0,45.0L314.3,45.2L314.6,44.5L315.0,43.7L315.3,44.0L315.6,44.9L316.0,45.3L316.3,45.4L316.6,44.6L316.9,45.4L317.3,45.4L317.6,45.0L317.9,45.4L318.3,45.4L318.6,45.4L318.9,45.4L319.3,45.4L319.6,45.4L319.9,45.4L320.2,45.4L320.6,45.4L320.9,45.0L321.2,45.4L321.6,45.3L321.9,44.8L322.2,44.2L322.6,43.8L322.9,44.3L323.2,45.1L323.6,45.3L323.9,45.4L324.2,45.4L324.5,45.4L324.9,45.4L325.2,45.4L325.5,45.0L325.9,45.4L326.2,45.4L326.5,45.4L326.9,45.3L327.2,45.1L327.5,44.8L327.8,44.6L328.2,44.7L328.5,45.0L328.8,45.3L329.2,45.4L329.5,45.4L329.8,45.4L330.1,45.4L330.5,45.4L330.8,45.4L331.1,45.4L331.5,45.4L331.8,45.4L332.1,45.4L332.5,45.1L332.8,44.0L333.1,43.9L333.4,44.7L333.8,44.5L334.1,45.1L334.4,44.3L334.8,45.4L335.1,45.4L335.4,45.4L335.8,45.4L336.1,45.4L336.4,44.8L336.8,45.4L337.1,45.4L337.4,45.4L337.7,45.3L338.1,45.4L338.4,44.1L338.7,45.4L339.1,45.4L339.4,45.4L339.7,45.4L340.1,45.4L340.4,45.4L340.7,45.4L341.0,45.4L341.4,45.4L341.7,45.4L342.0,45.4L342.4,45.4L342.7,45.4L343.0,45.4L343.4,45.4L343.7,45.4L344.0,45.4L344.3,45.0L344.7,45.4L345.0,45.4L345.3,45.4L345.7,45.4L346.0,45.4L346.3,45.4L346.6,45.4L347.0,45.4L347.3,45.4L347.6,45.4L348.0,45.4L348.3,45.4L348.6,45.4L349.0,45.4L349.3,45.4L349.6,45.4L349.9,45.4L350.3,45.4L350.6,45.4L350.9,45.4L351.3,45.4L351.6,45.4L351.9,45.4L352.3,45.4L352.6,45.0L352.9,44.4L353.2,45.1L353.6,45.2L353.9,45.4L354.2,45.3L354.6,45.2L354.9,44.9L355.2,44.2L355.6,43.6L355.9,42.6L356.2,41.9L356.6,42.2L356.9,36.9L357.2,33.3L357.5,41.1L357.9,44.1L358.2,43.3L358.5,43.1L358.9,43.9L359.2,44.4L359.5,45.1L359.9,45.3L360.2,45.4L360.5,45.4L360.8,45.4L361.2,45.4L361.5,45.4L361.8,44.7L362.2,44.8L362.5,45.4L362.8,45.4L363.1,45.4L363.5,45.4L363.8,45.4L364.1,45.4L364.5,45.3L364.8,45.3L365.1,44.3L365.5,44.6L365.8,44.4L366.1,44.1L366.4,44.7L366.8,45.0L367.1,44.4L367.4,45.4L367.8,45.4L368.1,45.4L368.4,45.4L368.8,45.4L369.1,45.4L369.4,45.4L369.8,45.4L370.1,45.4L370.4,45.4L370.7,45.4L371.1,45.4L371.4,45.4L371.7,45.4L372.1,45.4L372.4,45.4L372.7,45.4L373.1,45.4L373.4,45.4L373.7,45.4L374.0,45.4L374.4,45.4L374.7,45.4L375.0,45.4L375.4,45.3L375.7,45.4L376.0,45.4L376.4,45.4L376.7,45.4L377.0,44.8L377.3,45.4L377.7,45.4L378.0,45.4L378.3,45.4L378.7,45.4L379.0,45.4L379.3,45.4L379.6,45.4L380.0,45.4L380.3,45.4L380.6,45.4L381.0,45.4L381.3,45.4L381.6,45.3L382.0,45.1L382.3,44.3L382.6,43.1L382.9,42.4L383.3,43.3L383.6,44.1L383.9,44.9L384.3,44.2L384.6,42.1L384.9,38.3L385.3,40.5L385.6,43.3L385.9,45.0L386.2,45.4L386.6,45.3L386.9,45.4L387.2,45.4L387.6,44.7L387.9,45.4L388.2,45.4L388.6,45.4L388.9,45.4L389.2,45.4L389.6,45.4L389.9,45.4L390.2,45.4L390.5,45.4L390.9,44.5L391.2,44.4L391.5,45.4L391.9,45.4L392.2,45.4L392.5,45.4L392.9,45.4L393.2,45.4L393.5,45.4L393.8,45.4L394.2,45.4L394.5,45.4L394.8,45.4L395.2,45.4L395.5,45.4L395.8,45.4L396.1,45.4L396.5,45.4L396.8,45.4L397.1,45.4L397.5,45.4L397.8,45.4L398.1,45.1L398.5,45.0L398.8,45.4L399.1,45.4L399.4,45.4L399.8,45.4L400.1,45.1L400.4,44.9L400.8,44.1L401.1,43.8L401.4,44.4L401.8,45.1L402.1,45.3L402.4,45.2L402.8,45.3L403.1,45.0L403.4,44.5L403.7,44.7L404.1,45.1L404.4,44.3L404.7,43.4L405.1,43.4L405.4,44.3L405.7,45.1L406.1,45.3L406.4,45.4L406.7,45.4L407.0,45.4L407.4,45.4L407.7,45.4L408.0,45.4L408.4,45.4L408.7,45.4L409.0,45.4L409.4,45.4L409.7,45.4L410.0,45.4L410.3,45.4L410.7,45.4L411.0,45.2L411.3,45.4L411.7,45.4L412.0,45.4L412.3,44.8L412.6,45.4L413.0,45.4L413.3,45.4L413.6,45.4L414.0,45.4L414.3,45.4L414.6,45.4L415.0,45.4L415.3,45.4L415.6,45.4L415.9,45.4L416.3,45.4L416.6,45.4L416.9,45.4L417.3,45.4L417.6,45.4L417.9,45.4L418.3,44.7L418.6,45.4L418.9,45.4L419.2,45.0L419.6,45.4L419.9,45.4L420.2,45.2L420.6,45.0L420.9,45.2L421.2,45.4L421.6,45.4L421.9,45.4L422.2,44.1L422.6,45.4L422.9,45.4L423.2,45.4L423.5,45.4L423.9,45.4L424.2,45.4L424.5,45.4L424.9,45.4L425.2,45.4L425.5,45.4L425.9,45.4L426.2,45.4L426.5,45.4L426.8,45.4L427.2,45.4L427.5,45.4L427.8,45.4L428.2,45.4L428.5,45.4L428.8,45.4L429.1,45.4L429.5,45.4L429.8,45.4L430.1,45.4L430.5,45.4L430.8,45.4L431.1,45.4L431.5,45.4L431.8,45.4L432.1,45.4L432.5,44.7L432.8,45.3L433.1,45.2L433.4,45.3L433.8,45.3L434.1,45.4L434.4,45.4L434.8,45.4L435.1,45.2L435.4,44.5L435.8,43.7L436.1,43.9L436.4,44.8L436.7,44.7L437.1,45.4L437.4,45.4L437.7,45.4L438.1,44.6L438.4,45.4L438.7,45.4L439.1,44.4L439.4,45.4L439.7,45.0L440.0,45.4L440.4,45.1L440.7,45.4L441.0,45.4L441.4,45.4L441.7,45.4L442.0,45.4L442.4,44.2L442.7,45.4L443.0,45.4L443.3,45.4L443.7,45.4L444.0,44.1L444.3,45.4L444.7,45.4L445.0,45.4L445.3,45.4L445.6,45.4L446.0,45.4L446.3,45.4L446.6,45.4L447.0,45.4L447.3,45.4L447.6,45.4L448.0,45.4L448.3,45.4L448.6,44.9L449.0,45.4L449.3,45.4L449.6,45.4L449.9,45.4L450.3,45.4L450.6,45.4L450.9,45.4L451.3,44.8L451.6,44.1L451.9,43.1L452.2,43.4L452.6,44.8L452.9,45.3L453.2,45.0L453.6,45.2L453.9,44.7L454.2,45.4L454.6,45.4L454.9,45.4L455.2,45.4L455.6,45.4L455.9,45.4L456.2,44.7L456.5,45.4L456.9,45.4L457.2,45.3L457.5,44.7L457.9,43.8L458.2,43.9L458.5,44.7L458.9,45.3L459.2,45.4L459.5,45.4L459.8,45.4L460.2,45.4L460.5,45.0L460.8,45.4L461.2,45.4L461.5,45.4L461.8,45.4L462.1,44.8L462.5,45.4L462.8,45.3L463.1,45.1L463.5,44.6L463.8,44.4L464.1,44.7L464.5,44.6L464.8,45.4L465.1,45.4L465.5,45.4L465.8,45.4L466.1,45.4L466.4,45.4L466.8,45.4L467.1,45.4L467.4,45.4L467.8,45.4L468.1,45.4L468.4,45.4L468.8,45.4L469.1,45.4L469.4,45.4L469.7,45.4L470.1,45.4L470.4,45.4L470.7,45.4L471.1,45.4L471.4,45.4L471.7,45.4L472.1,45.4L472.4,45.3L472.7,44.8L473.0,44.0L473.4,44.1L473.7,44.9L474.0,45.3L474.4,45.4L474.7,45.4L475.0,45.4L475.4,45.4L475.7,45.4L476.0,45.4L476.3,45.4L476.7,45.4L477.0,45.4L477.3,45.4L477.7,45.4L478.0,45.4L478.3,45.4L478.6,45.4L479.0,45.4L479.3,45.4L479.6,45.4L480.0,45.4L480.3,45.4L480.6,45.4L481.0,45.4L481.3,45.4L481.6,45.4L482.0,45.4L482.3,45.4L482.6,45.4L482.9,45.4L483.3,45.4L483.6,45.4L483.9,45.4L484.3,45.4L484.6,45.4L484.9,45.4L485.2,45.4L485.6,45.4L485.9,45.4L486.2,45.4L486.6,45.4L486.9,45.4L487.2,45.4L487.6,45.4L487.9,45.3L488.2,45.1L488.6,44.8L488.9,44.7L489.2,44.9L489.5,45.2L489.9,45.3L490.2,45.4L490.5,45.4L490.9,45.1L491.2,45.4L491.5,44.8L491.9,45.4L492.2,45.4L492.5,45.4L492.8,45.4L493.2,45.4L493.5,45.4L493.8,45.4L494.2,44.6L494.5,45.4L494.8,45.3L495.1,45.2L495.5,45.0L495.8,45.2L496.1,45.3L496.5,45.4L496.8,45.4L497.1,45.4L497.5,45.4L497.8,45.4L498.1,45.4L498.5,45.4L498.8,45.2L499.1,45.4L499.4,45.4L499.8,45.4L500.1,45.4L500.4,45.2L500.8,45.4L501.1,45.4L501.4,45.4L501.8,45.4L502.1,45.4L502.4,45.4L502.7,45.4L503.1,44.5L503.4,45.3L503.7,45.3L504.1,45.3L504.4,45.4L504.7,45.4L505.1,45.3L505.4,45.2L505.7,44.5L506.0,45.2L506.4,45.3L506.7,45.4L507.0,45.2L507.4,45.4L507.7,45.4L508.0,45.4L508.4,45.4L508.7,44.7L509.0,45.4L509.3,45.4L509.7,45.4L510.0,45.4L510.3,45.4L510.5,45.4Z" fill="#2e3f9e"/>
<line x1="295.5" y1="59.9" x2="510.5" y2="59.9" stroke="#2e3f9e" stroke-width="0.45" opacity="0.75"/>
<path d="M295.5,59.9L295.5,59.9L295.8,59.9L296.2,59.9L296.5,59.9L296.8,59.9L297.1,59.8L297.5,59.7L297.8,59.5L298.1,59.6L298.5,59.8L298.8,59.7L299.1,59.0L299.5,59.9L299.8,58.6L300.1,59.9L300.4,59.9L300.8,59.9L301.1,59.9L301.4,59.4L301.8,59.8L302.1,59.9L302.4,59.5L302.8,59.9L303.1,59.9L303.4,59.9L303.8,59.9L304.1,59.9L304.4,59.9L304.7,59.9L305.1,59.9L305.4,59.9L305.7,59.9L306.1,59.9L306.4,59.9L306.7,59.9L307.1,59.9L307.4,59.9L307.7,59.0L308.0,59.8L308.4,59.4L308.7,58.8L309.0,58.6L309.4,58.9L309.7,59.5L310.0,59.8L310.4,59.9L310.7,59.9L311.0,59.9L311.3,59.3L311.7,59.9L312.0,59.9L312.3,59.7L312.7,59.9L313.0,59.9L313.3,59.7L313.6,59.9L314.0,59.9L314.3,59.9L314.6,59.9L315.0,59.9L315.3,59.9L315.6,59.9L316.0,59.2L316.3,59.5L316.6,59.9L316.9,59.9L317.3,59.9L317.6,59.9L317.9,59.9L318.3,59.9L318.6,59.9L318.9,59.9L319.3,59.8L319.6,59.5L319.9,58.6L320.2,59.0L320.6,59.3L320.9,59.6L321.2,59.8L321.6,59.8L321.9,59.4L322.2,58.9L322.6,58.7L322.9,59.1L323.2,59.7L323.6,59.8L323.9,59.9L324.2,59.9L324.5,59.9L324.9,59.9L325.2,59.9L325.5,59.9L325.9,59.9L326.2,59.9L326.5,59.9L326.9,59.9L327.2,59.9L327.5,59.9L327.8,59.9L328.2,59.9L328.5,59.9L328.8,59.9L329.2,59.9L329.5,59.9L329.8,59.9L330.1,59.9L330.5,59.9L330.8,59.9L331.1,59.9L331.5,59.9L331.8,59.8L332.1,59.4L332.5,58.7L332.8,58.8L333.1,58.4L333.4,59.5L333.8,59.9L334.1,59.9L334.4,59.9L334.8,59.9L335.1,59.7L335.4,59.9L335.8,59.8L336.1,59.9L336.4,59.9L336.8,59.6L337.1,59.9L337.4,59.9L337.7,59.9L338.1,59.9L338.4,59.9L338.7,59.9L339.1,58.8L339.4,59.6L339.7,59.7L340.1,59.2L340.4,59.9L340.7,59.9L341.0,59.9L341.4,59.9L341.7,59.4L342.0,59.9L342.4,59.9L342.7,59.9L343.0,59.9L343.4,59.9L343.7,59.9L344.0,59.9L344.3,59.9L344.7,59.9L345.0,59.9L345.3,59.7L345.7,59.3L346.0,58.8L346.3,58.9L346.6,59.4L347.0,59.8L347.3,59.9L347.6,59.9L348.0,59.2L348.3,59.9L348.6,59.9L349.0,59.9L349.3,59.9L349.6,59.9L349.9,59.9L350.3,59.8L350.6,59.4L350.9,58.6L351.3,58.1L351.6,58.0L351.9,58.5L352.3,59.2L352.6,59.7L352.9,59.8L353.2,59.9L353.6,59.9L353.9,59.7L354.2,59.8L354.6,59.6L354.9,59.4L355.2,58.7L355.6,58.3L355.9,57.3L356.2,56.7L356.6,56.9L356.9,50.3L357.2,48.3L357.5,55.2L357.9,58.1L358.2,57.5L358.5,57.8L358.9,58.1L359.2,59.1L359.5,59.6L359.9,59.4L360.2,59.9L360.5,59.9L360.8,59.9L361.2,59.9L361.5,59.9L361.8,59.9L362.2,59.9L362.5,59.9L362.8,59.9L363.1,59.9L363.5,59.9L363.8,59.9L364.1,59.9L364.5,59.9L364.8,59.8L365.1,59.6L365.5,59.2L365.8,58.5L366.1,58.6L366.4,58.8L366.8,59.5L367.1,59.8L367.4,59.8L367.8,59.9L368.1,58.9L368.4,59.6L368.8,59.4L369.1,59.3L369.4,59.4L369.8,59.6L370.1,59.8L370.4,59.9L370.7,59.9L371.1,59.9L371.4,59.9L371.7,59.9L372.1,59.9L372.4,59.5L372.7,59.9L373.1,59.9L373.4,59.9L373.7,59.9L374.0,59.9L374.4,59.9L374.7,59.9L375.0,59.9L375.4,59.9L375.7,59.9L376.0,59.9L376.4,58.7L376.7,59.9L377.0,59.5L377.3,59.9L377.7,59.9L378.0,59.9L378.3,59.9L378.7,59.9L379.0,59.9L379.3,59.9L379.6,59.9L380.0,59.9L380.3,59.9L380.6,59.9L381.0,59.9L381.3,59.9L381.6,59.9L382.0,59.7L382.3,59.1L382.6,58.3L382.9,57.6L383.3,58.1L383.6,58.6L383.9,59.5L384.3,58.9L384.6,56.3L384.9,54.6L385.3,54.9L385.6,58.3L385.9,59.6L386.2,59.9L386.6,59.0L386.9,59.0L387.2,59.9L387.6,59.9L387.9,59.9L388.2,59.8L388.6,59.9L388.9,59.9L389.2,59.9L389.6,59.9L389.9,59.9L390.2,59.9L390.5,59.9L390.9,59.8L391.2,59.9L391.5,59.9L391.9,59.9L392.2,59.9L392.5,59.9L392.9,59.9L393.2,59.9L393.5,59.9L393.8,59.9L394.2,59.9L394.5,59.9L394.8,59.9L395.2,59.9L395.5,59.9L395.8,59.9L396.1,59.9L396.5,59.9L396.8,59.9L397.1,59.9L397.5,59.9L397.8,58.7L398.1,59.9L398.5,59.9L398.8,59.9L399.1,59.9L399.4,59.9L399.8,59.9L400.1,59.4L400.4,59.9L400.8,59.9L401.1,59.9L401.4,59.9L401.8,59.9L402.1,59.5L402.4,59.9L402.8,59.9L403.1,59.9L403.4,59.9L403.7,59.9L404.1,59.9L404.4,59.9L404.7,59.0L405.1,59.8L405.4,59.9L405.7,59.9L406.1,59.9L406.4,59.9L406.7,59.9L407.0,59.1L407.4,59.4L407.7,59.9L408.0,59.9L408.4,59.8L408.7,59.5L409.0,59.4L409.4,59.7L409.7,59.9L410.0,59.9L410.3,59.9L410.7,59.9L411.0,59.9L411.3,59.9L411.7,59.9L412.0,59.9L412.3,59.9L412.6,59.6L413.0,59.0L413.3,58.4L413.6,58.7L414.0,59.4L414.3,59.8L414.6,59.9L415.0,59.9L415.3,59.9L415.6,59.9L415.9,59.7L416.3,59.9L416.6,59.9L416.9,58.9L417.3,59.9L417.6,59.9L417.9,59.6L418.3,59.9L418.6,59.8L418.9,59.9L419.2,59.9L419.6,59.9L419.9,59.4L420.2,59.9L420.6,59.7L420.9,58.4L421.2,58.3L421.6,59.7L421.9,59.4L422.2,59.9L422.6,59.9L422.9,59.8L423.2,59.9L423.5,59.9L423.9,59.9L424.2,59.9L424.5,59.9L424.9,59.9L425.2,59.9L425.5,59.9L425.9,59.9L426.2,59.9L426.5,59.9L426.8,59.9L427.2,59.9L427.5,59.1L427.8,59.9L428.2,59.9L428.5,59.9L428.8,59.9L429.1,59.9L429.5,59.9L429.8,59.9L430.1,59.9L430.5,58.8L430.8,59.9L431.1,59.9L431.5,59.9L431.8,59.6L432.1,58.5L432.5,57.3L432.8,58.5L433.1,59.7L433.4,59.9L433.8,59.9L434.1,59.9L434.4,59.9L434.8,59.9L435.1,59.9L435.4,59.9L435.8,59.9L436.1,59.9L436.4,59.9L436.7,59.9L437.1,59.9L437.4,59.9L437.7,59.9L438.1,59.6L438.4,59.9L438.7,59.6L439.1,59.9L439.4,59.9L439.7,59.9L440.0,59.9L440.4,59.9L440.7,59.9L441.0,59.9L441.4,59.9L441.7,59.9L442.0,59.9L442.4,59.9L442.7,59.9L443.0,59.9L443.3,59.9L443.7,59.9L444.0,59.3L444.3,59.9L444.7,59.9L445.0,59.9L445.3,59.8L445.6,59.9L446.0,59.7L446.3,59.9L446.6,59.9L447.0,59.9L447.3,59.9L447.6,59.9L448.0,59.9L448.3,59.9L448.6,59.9L449.0,59.3L449.3,59.9L449.6,58.7L449.9,59.9L450.3,59.9L450.6,59.9L450.9,59.9L451.3,59.7L451.6,58.7L451.9,57.9L452.2,58.2L452.6,59.4L452.9,59.8L453.2,59.9L453.6,59.9L453.9,59.9L454.2,59.9L454.6,59.9L454.9,59.9L455.2,59.7L455.6,59.8L455.9,59.9L456.2,59.9L456.5,59.9L456.9,59.9L457.2,58.6L457.5,59.2L457.9,57.9L458.2,58.2L458.5,59.3L458.9,59.8L459.2,59.9L459.5,59.9L459.8,59.9L460.2,59.9L460.5,59.9L460.8,59.9L461.2,59.9L461.5,59.9L461.8,59.3L462.1,59.9L462.5,59.9L462.8,59.4L463.1,59.5L463.5,59.9L463.8,59.9L464.1,59.9L464.5,59.9L464.8,59.9L465.1,59.9L465.5,59.9L465.8,59.8L466.1,59.6L466.4,59.1L466.8,58.8L467.1,58.8L467.4,59.5L467.8,59.8L468.1,59.9L468.4,59.9L468.8,59.9L469.1,59.9L469.4,59.9L469.7,59.9L470.1,59.9L470.4,59.9L470.7,59.9L471.1,59.9L471.4,59.9L471.7,59.9L472.1,59.9L472.4,59.9L472.7,59.9L473.0,59.9L473.4,59.4L473.7,59.9L474.0,59.9L474.4,59.9L474.7,59.9L475.0,59.9L475.4,59.9L475.7,59.9L476.0,59.9L476.3,59.9L476.7,59.9L477.0,59.8L477.3,59.9L477.7,59.9L478.0,59.9L478.3,59.9L478.6,59.9L479.0,59.9L479.3,59.9L479.6,59.9L480.0,59.9L480.3,59.9L480.6,59.9L481.0,59.9L481.3,59.9L481.6,59.9L482.0,59.9L482.3,59.9L482.6,58.8L482.9,59.9L483.3,59.9L483.6,59.9L483.9,59.9L484.3,59.9L484.6,59.9L484.9,59.8L485.2,59.9L485.6,59.7L485.9,59.9L486.2,59.9L486.6,59.9L486.9,59.6L487.2,59.9L487.6,59.9L487.9,59.1L488.2,59.9L488.6,59.9L488.9,59.9L489.2,59.9L489.5,59.9L489.9,59.9L490.2,59.9L490.5,59.9L490.9,59.9L491.2,59.9L491.5,59.9L491.9,59.9L492.2,59.9L492.5,59.9L492.8,59.9L493.2,59.9L493.5,59.9L493.8,59.9L494.2,59.9L494.5,59.9L494.8,59.9L495.1,59.9L495.5,59.9L495.8,59.9L496.1,59.9L496.5,59.9L496.8,59.9L497.1,59.4L497.5,59.9L497.8,59.9L498.1,59.9L498.5,59.8L498.8,59.2L499.1,58.5L499.4,58.7L499.8,59.5L500.1,59.8L500.4,59.9L500.8,59.2L501.1,59.1L501.4,59.9L501.8,59.9L502.1,59.9L502.4,59.9L502.7,59.9L503.1,59.9L503.4,59.9L503.7,59.9L504.1,59.9L504.4,59.9L504.7,59.9L505.1,59.9L505.4,59.9L505.7,59.9L506.0,59.9L506.4,59.9L506.7,59.9L507.0,59.9L507.4,59.9L507.7,59.8L508.0,59.5L508.4,59.0L508.7,59.3L509.0,59.8L509.3,59.9L509.7,59.9L510.0,59.9L510.3,59.9L510.5,59.9Z" fill="#2e3f9e"/>
<line x1="295.5" y1="75.1" x2="510.5" y2="75.1" stroke="#d5211d" stroke-width="0.45" stroke-dasharray="0.8 2.5" opacity="0.45"/>
<path d="M295.5,75.1L295.5,75.1L295.8,75.1L296.2,75.1L296.5,75.1L296.8,74.8L297.1,75.1L297.5,75.1L297.8,75.1L298.1,75.1L298.5,75.1L298.8,75.1L299.1,75.1L299.5,75.1L299.8,75.1L300.1,75.1L300.4,74.3L300.8,75.1L301.1,75.1L301.4,75.1L301.8,75.1L302.1,75.1L302.4,75.1L302.8,75.1L303.1,75.1L303.4,75.1L303.8,75.1L304.1,75.1L304.4,75.1L304.7,75.1L305.1,75.1L305.4,75.1L305.7,75.1L306.1,75.1L306.4,75.1L306.7,75.0L307.1,75.1L307.4,75.1L307.7,75.1L308.0,75.0L308.4,74.7L308.7,74.2L309.0,74.1L309.4,74.4L309.7,74.8L310.0,75.0L310.4,75.1L310.7,75.1L311.0,75.1L311.3,75.1L311.7,75.1L312.0,75.1L312.3,75.1L312.7,75.1L313.0,75.1L313.3,75.1L313.6,74.3L314.0,75.1L314.3,75.1L314.6,75.1L315.0,74.7L315.3,73.6L315.6,73.9L316.0,74.9L316.3,75.1L316.6,75.1L316.9,75.1L317.3,74.9L317.6,75.1L317.9,75.1L318.3,74.8L318.6,74.9L318.9,74.9L319.3,75.0L319.6,75.1L319.9,75.1L320.2,75.1L320.6,75.1L320.9,75.1L321.2,75.1L321.6,75.0L321.9,74.5L322.2,74.0L322.6,73.7L322.9,74.2L323.2,74.7L323.6,75.0L323.9,75.1L324.2,75.1L324.5,75.1L324.9,75.1L325.2,75.1L325.5,74.9L325.9,74.5L326.2,74.0L326.5,74.0L326.9,74.5L327.2,74.9L327.5,75.1L327.8,75.1L328.2,75.1L328.5,75.1L328.8,75.1L329.2,75.1L329.5,75.1L329.8,75.1L330.1,75.1L330.5,75.1L330.8,75.1L331.1,75.1L331.5,75.1L331.8,75.1L332.1,75.1L332.5,75.0L332.8,74.5L333.1,74.1L333.4,74.8L333.8,75.1L334.1,75.1L334.4,75.1L334.8,75.1L335.1,75.1L335.4,75.1L335.8,75.1L336.1,75.1L336.4,75.1L336.8,75.1L337.1,75.1L337.4,75.1L337.7,75.1L338.1,75.1L338.4,75.1L338.7,75.1L339.1,75.1L339.4,75.1L339.7,75.1L340.1,74.4L340.4,75.1L340.7,75.1L341.0,75.1L341.4,75.1L341.7,75.1L342.0,75.1L342.4,75.1L342.7,75.1L343.0,75.1L343.4,75.1L343.7,75.1L344.0,75.1L344.3,75.1L344.7,75.1L345.0,75.1L345.3,75.1L345.7,75.1L346.0,75.1L346.3,75.1L346.6,75.1L347.0,75.1L347.3,75.1L347.6,75.1L348.0,75.1L348.3,75.1L348.6,75.1L349.0,75.1L349.3,75.1L349.6,75.1L349.9,75.1L350.3,74.7L350.6,75.1L350.9,75.1L351.3,75.1L351.6,75.1L351.9,75.1L352.3,75.1L352.6,75.1L352.9,74.9L353.2,75.1L353.6,75.1L353.9,75.1L354.2,75.0L354.6,74.9L354.9,74.6L355.2,74.2L355.6,73.7L355.9,73.0L356.2,72.5L356.6,72.1L356.9,72.5L357.2,72.5L357.5,73.8L357.9,73.3L358.2,72.9L358.5,72.7L358.9,73.2L359.2,74.1L359.5,74.8L359.9,75.0L360.2,75.1L360.5,75.1L360.8,75.1L361.2,75.1L361.5,75.1L361.8,75.1L362.2,75.1L362.5,75.1L362.8,75.0L363.1,74.9L363.5,74.9L363.8,75.0L364.1,75.1L364.5,74.3L364.8,75.0L365.1,74.7L365.5,74.1L365.8,73.5L366.1,73.6L366.4,73.9L366.8,74.6L367.1,75.0L367.4,75.1L367.8,75.1L368.1,75.1L368.4,75.1L368.8,75.1L369.1,75.1L369.4,75.1L369.8,75.1L370.1,75.1L370.4,75.1L370.7,75.1L371.1,75.1L371.4,75.1L371.7,75.0L372.1,75.0L372.4,75.1L372.7,75.1L373.1,74.3L373.4,75.1L373.7,75.1L374.0,75.1L374.4,75.1L374.7,75.1L375.0,75.1L375.4,75.1L375.7,75.1L376.0,75.1L376.4,75.1L376.7,74.9L377.0,75.0L377.3,75.1L377.7,75.1L378.0,75.1L378.3,75.1L378.7,75.1L379.0,75.1L379.3,75.1L379.6,75.1L380.0,75.1L380.3,75.1L380.6,75.1L381.0,75.1L381.3,75.1L381.6,75.1L382.0,74.9L382.3,74.5L382.6,74.0L382.9,73.4L383.3,73.5L383.6,74.3L383.9,74.8L384.3,74.1L384.6,71.7L384.9,70.5L385.3,70.5L385.6,73.2L385.9,74.7L386.2,75.1L386.6,75.1L386.9,75.1L387.2,75.1L387.6,75.1L387.9,75.1L388.2,75.1L388.6,75.1L388.9,75.1L389.2,75.1L389.6,75.1L389.9,75.1L390.2,75.0L390.5,74.8L390.9,74.5L391.2,74.2L391.5,74.4L391.9,74.7L392.2,75.0L392.5,75.1L392.9,75.0L393.2,75.1L393.5,75.1L393.8,75.1L394.2,75.1L394.5,75.1L394.8,75.1L395.2,75.1L395.5,75.1L395.8,75.1L396.1,75.1L396.5,75.1L396.8,75.1L397.1,75.1L397.5,75.1L397.8,75.1L398.1,75.1L398.5,75.1L398.8,75.1L399.1,75.1L399.4,75.0L399.8,75.1L400.1,75.1L400.4,75.1L400.8,75.1L401.1,75.1L401.4,75.1L401.8,75.1L402.1,75.1L402.4,75.1L402.8,75.1L403.1,75.1L403.4,75.1L403.7,75.1L404.1,75.1L404.4,75.1L404.7,75.1L405.1,75.1L405.4,75.1L405.7,75.1L406.1,75.1L406.4,75.1L406.7,75.1L407.0,75.1L407.4,75.1L407.7,75.1L408.0,75.1L408.4,75.1L408.7,75.1L409.0,75.1L409.4,75.1L409.7,75.1L410.0,75.1L410.3,75.1L410.7,75.1L411.0,75.1L411.3,75.1L411.7,75.1L412.0,75.1L412.3,75.1L412.6,75.1L413.0,75.1L413.3,75.1L413.6,75.1L414.0,75.1L414.3,75.1L414.6,75.1L415.0,75.1L415.3,75.1L415.6,75.1L415.9,75.1L416.3,75.1L416.6,75.1L416.9,75.1L417.3,75.1L417.6,75.1L417.9,75.1L418.3,75.1L418.6,75.1L418.9,75.1L419.2,75.1L419.6,75.1L419.9,75.1L420.2,75.1L420.6,75.1L420.9,75.1L421.2,75.1L421.6,75.1L421.9,75.1L422.2,75.1L422.6,75.1L422.9,75.1L423.2,75.1L423.5,75.1L423.9,75.1L424.2,75.1L424.5,75.1L424.9,75.1L425.2,75.1L425.5,75.1L425.9,75.1L426.2,75.1L426.5,75.1L426.8,75.1L427.2,74.2L427.5,75.1L427.8,75.1L428.2,75.1L428.5,75.1L428.8,75.1L429.1,75.1L429.5,75.1L429.8,75.1L430.1,75.1L430.5,75.1L430.8,75.1L431.1,75.1L431.5,75.1L431.8,75.1L432.1,75.1L432.5,75.1L432.8,75.1L433.1,75.1L433.4,75.1L433.8,75.1L434.1,75.1L434.4,75.1L434.8,75.1L435.1,75.1L435.4,75.1L435.8,75.1L436.1,75.1L436.4,75.1L436.7,75.1L437.1,75.1L437.4,75.1L437.7,75.1L438.1,75.1L438.4,75.1L438.7,75.1L439.1,75.1L439.4,75.1L439.7,75.1L440.0,75.1L440.4,75.1L440.7,75.1L441.0,75.1L441.4,74.7L441.7,75.1L442.0,75.1L442.4,75.1L442.7,75.1L443.0,75.1L443.3,75.1L443.7,75.1L444.0,75.1L444.3,75.0L444.7,74.7L445.0,74.4L445.3,74.4L445.6,74.6L446.0,74.3L446.3,75.1L446.6,75.1L447.0,75.1L447.3,75.1L447.6,75.1L448.0,75.1L448.3,75.1L448.6,75.0L449.0,74.8L449.3,74.2L449.6,73.4L449.9,73.0L450.3,73.4L450.6,74.3L450.9,74.8L451.3,75.0L451.6,74.0L451.9,74.0L452.2,74.1L452.6,74.8L452.9,75.1L453.2,75.1L453.6,75.1L453.9,75.1L454.2,75.0L454.6,75.1L454.9,75.1L455.2,75.1L455.6,75.1L455.9,75.1L456.2,75.1L456.5,75.0L456.9,74.9L457.2,75.0L457.5,74.8L457.9,74.3L458.2,74.3L458.5,74.8L458.9,75.0L459.2,74.6L459.5,75.1L459.8,75.1L460.2,75.1L460.5,75.1L460.8,75.1L461.2,75.1L461.5,75.1L461.8,75.1L462.1,75.1L462.5,75.1L462.8,75.1L463.1,75.1L463.5,75.1L463.8,75.1L464.1,74.9L464.5,75.1L464.8,75.1L465.1,75.1L465.5,75.1L465.8,75.1L466.1,75.1L466.4,75.0L466.8,75.1L467.1,75.1L467.4,75.1L467.8,75.1L468.1,75.1L468.4,75.1L468.8,75.1L469.1,75.1L469.4,74.1L469.7,75.1L470.1,75.1L470.4,75.1L470.7,75.1L471.1,75.1L471.4,75.1L471.7,75.1L472.1,75.1L472.4,75.1L472.7,75.1L473.0,75.0L473.4,75.0L473.7,75.1L474.0,75.1L474.4,75.1L474.7,75.1L475.0,75.1L475.4,75.1L475.7,75.1L476.0,75.1L476.3,75.1L476.7,75.1L477.0,75.1L477.3,75.1L477.7,75.1L478.0,75.1L478.3,75.1L478.6,75.1L479.0,75.1L479.3,75.1L479.6,75.1L480.0,75.1L480.3,75.1L480.6,75.1L481.0,75.1L481.3,75.1L481.6,75.1L482.0,75.1L482.3,75.1L482.6,75.1L482.9,75.1L483.3,75.1L483.6,75.1L483.9,75.1L484.3,75.1L484.6,75.1L484.9,75.1L485.2,75.1L485.6,75.1L485.9,75.1L486.2,75.1L486.6,75.1L486.9,75.1L487.2,75.1L487.6,75.1L487.9,75.1L488.2,75.1L488.6,75.1L488.9,75.1L489.2,75.1L489.5,75.1L489.9,75.1L490.2,75.1L490.5,75.1L490.9,75.1L491.2,75.1L491.5,75.1L491.9,75.1L492.2,75.1L492.5,75.1L492.8,74.3L493.2,75.1L493.5,75.1L493.8,75.1L494.2,75.1L494.5,75.1L494.8,74.1L495.1,74.4L495.5,75.1L495.8,75.1L496.1,75.1L496.5,75.1L496.8,75.1L497.1,75.1L497.5,75.1L497.8,75.1L498.1,75.1L498.5,75.1L498.8,75.1L499.1,75.1L499.4,74.9L499.8,75.1L500.1,75.1L500.4,75.1L500.8,75.1L501.1,75.1L501.4,75.1L501.8,75.1L502.1,75.1L502.4,75.1L502.7,75.1L503.1,75.1L503.4,75.1L503.7,75.1L504.1,75.1L504.4,75.1L504.7,75.1L505.1,75.1L505.4,75.1L505.7,75.1L506.0,75.0L506.4,74.8L506.7,74.5L507.0,74.3L507.4,74.4L507.7,74.7L508.0,75.0L508.4,75.1L508.7,75.0L509.0,75.1L509.3,75.1L509.7,75.1L510.0,75.1L510.3,75.1L510.5,75.1Z" fill="#d5211d"/>
<line x1="295.5" y1="90.3" x2="510.5" y2="90.3" stroke="#d5211d" stroke-width="0.45" stroke-dasharray="0.8 2.5" opacity="0.45"/>
<path d="M295.5,90.3L295.5,90.3L295.8,90.3L296.2,90.3L296.5,90.3L296.8,90.3L297.1,90.3L297.5,90.3L297.8,90.3L298.1,90.3L298.5,90.3L298.8,90.3L299.1,90.3L299.5,90.3L299.8,90.3L300.1,90.3L300.4,90.3L300.8,90.1L301.1,90.3L301.4,90.3L301.8,90.3L302.1,90.3L302.4,90.3L302.8,90.3L303.1,90.3L303.4,90.3L303.8,90.3L304.1,90.3L304.4,90.3L304.7,90.3L305.1,90.3L305.4,90.3L305.7,90.3L306.1,90.3L306.4,90.3L306.7,90.3L307.1,90.3L307.4,90.3L307.7,90.3L308.0,90.2L308.4,89.9L308.7,89.3L309.0,88.7L309.4,89.2L309.7,89.9L310.0,90.2L310.4,89.3L310.7,89.3L311.0,90.2L311.3,90.3L311.7,90.3L312.0,90.2L312.3,90.1L312.7,90.0L313.0,90.1L313.3,90.2L313.6,90.3L314.0,90.2L314.3,89.9L314.6,89.8L315.0,89.9L315.3,90.2L315.6,90.3L316.0,90.3L316.3,90.2L316.6,90.3L316.9,90.3L317.3,90.3L317.6,90.3L317.9,90.3L318.3,90.3L318.6,90.3L318.9,90.3L319.3,90.3L319.6,90.3L319.9,90.3L320.2,90.3L320.6,90.3L320.9,90.3L321.2,90.3L321.6,90.2L321.9,90.0L322.2,89.6L322.6,89.4L322.9,89.7L323.2,90.1L323.6,90.3L323.9,90.3L324.2,90.3L324.5,90.3L324.9,90.3L325.2,90.3L325.5,90.3L325.9,89.7L326.2,90.3L326.5,90.3L326.9,90.0L327.2,90.3L327.5,90.3L327.8,89.2L328.2,90.3L328.5,90.3L328.8,90.3L329.2,90.3L329.5,90.3L329.8,90.3L330.1,90.3L330.5,90.3L330.8,90.1L331.1,90.3L331.5,90.3L331.8,90.3L332.1,90.3L332.5,90.1L332.8,89.5L333.1,89.3L333.4,90.0L333.8,90.3L334.1,90.3L334.4,90.3L334.8,90.3L335.1,90.3L335.4,90.3L335.8,90.3L336.1,90.3L336.4,90.3L336.8,90.3L337.1,90.3L337.4,90.0L337.7,90.3L338.1,90.3L338.4,90.3L338.7,89.6L339.1,90.3L339.4,90.3L339.7,90.3L340.1,90.3L340.4,90.3L340.7,90.3L341.0,90.3L341.4,90.3L341.7,90.3L342.0,90.3L342.4,90.3L342.7,90.3L343.0,90.3L343.4,90.2L343.7,90.3L344.0,90.3L344.3,90.3L344.7,90.3L345.0,89.9L345.3,90.3L345.7,90.3L346.0,90.3L346.3,90.3L346.6,90.3L347.0,90.3L347.3,90.2L347.6,90.3L348.0,90.3L348.3,90.3L348.6,90.3L349.0,90.3L349.3,90.3L349.6,90.1L349.9,89.4L350.3,88.6L350.6,88.9L350.9,89.7L351.3,90.2L351.6,90.3L351.9,90.3L352.3,90.3L352.6,90.3L352.9,90.3L353.2,90.3L353.6,90.3L353.9,90.3L354.2,90.2L354.6,90.1L354.9,89.8L355.2,89.5L355.6,89.1L355.9,88.3L356.2,87.8L356.6,88.2L356.9,86.3L357.2,86.3L357.5,88.6L357.9,88.8L358.2,87.8L358.5,87.7L358.9,88.6L359.2,89.3L359.5,89.9L359.9,90.2L360.2,90.3L360.5,90.3L360.8,90.3L361.2,90.3L361.5,90.3L361.8,90.3L362.2,90.3L362.5,90.3L362.8,90.3L363.1,90.3L363.5,90.3L363.8,90.3L364.1,90.3L364.5,90.3L364.8,90.2L365.1,90.1L365.5,89.7L365.8,89.2L366.1,89.3L366.4,89.6L366.8,89.8L367.1,90.1L367.4,90.2L367.8,90.3L368.1,90.3L368.4,90.3L368.8,90.3L369.1,90.3L369.4,89.5L369.8,90.3L370.1,90.3L370.4,90.3L370.7,90.2L371.1,90.1L371.4,90.2L371.7,90.3L372.1,90.3L372.4,90.3L372.7,90.3L373.1,90.3L373.4,90.3L373.7,90.3L374.0,89.4L374.4,90.3L374.7,90.3L375.0,90.3L375.4,89.9L375.7,90.3L376.0,90.3L376.4,90.3L376.7,90.3L377.0,90.3L377.3,90.3L377.7,90.0L378.0,90.3L378.3,90.3L378.7,90.3L379.0,89.7L379.3,90.3L379.6,90.3L380.0,90.3L380.3,90.2L380.6,90.0L381.0,89.4L381.3,89.1L381.6,89.6L382.0,90.1L382.3,89.8L382.6,89.0L382.9,88.5L383.3,88.8L383.6,89.4L383.9,90.1L384.3,89.5L384.6,87.7L384.9,86.2L385.3,86.6L385.6,88.9L385.9,90.1L386.2,90.3L386.6,90.3L386.9,90.3L387.2,90.3L387.6,90.3L387.9,90.3L388.2,90.3L388.6,90.3L388.9,90.3L389.2,90.3L389.6,90.3L389.9,90.3L390.2,90.3L390.5,90.3L390.9,90.3L391.2,90.3L391.5,90.3L391.9,90.3L392.2,90.3L392.5,90.3L392.9,90.3L393.2,90.3L393.5,90.3L393.8,90.3L394.2,90.3L394.5,90.3L394.8,90.3L395.2,90.3L395.5,90.3L395.8,90.3L396.1,90.3L396.5,90.3L396.8,90.3L397.1,90.3L397.5,90.3L397.8,90.3L398.1,90.3L398.5,90.0L398.8,90.3L399.1,90.3L399.4,89.7L399.8,90.2L400.1,90.3L400.4,90.3L400.8,90.3L401.1,90.3L401.4,90.3L401.8,90.3L402.1,90.3L402.4,90.3L402.8,89.8L403.1,90.3L403.4,90.3L403.7,90.3L404.1,90.3L404.4,90.3L404.7,90.3L405.1,90.3L405.4,90.3L405.7,90.3L406.1,90.3L406.4,90.3L406.7,90.3L407.0,90.3L407.4,90.3L407.7,90.3L408.0,90.3L408.4,90.3L408.7,90.3L409.0,90.3L409.4,90.3L409.7,90.3L410.0,90.3L410.3,90.3L410.7,90.3L411.0,90.3L411.3,90.3L411.7,90.3L412.0,90.3L412.3,90.3L412.6,90.3L413.0,90.3L413.3,90.3L413.6,90.3L414.0,89.4L414.3,90.3L414.6,90.3L415.0,90.3L415.3,90.3L415.6,90.3L415.9,90.3L416.3,90.3L416.6,89.9L416.9,90.3L417.3,90.3L417.6,90.3L417.9,90.1L418.3,90.3L418.6,90.3L418.9,90.3L419.2,90.3L419.6,90.3L419.9,90.3L420.2,90.3L420.6,90.3L420.9,90.3L421.2,90.3L421.6,90.3L421.9,90.3L422.2,90.3L422.6,90.3L422.9,90.3L423.2,89.5L423.5,90.3L423.9,90.3L424.2,90.2L424.5,90.1L424.9,90.0L425.2,90.0L425.5,90.0L425.9,90.2L426.2,90.3L426.5,90.3L426.8,90.3L427.2,90.3L427.5,90.3L427.8,90.3L428.2,90.3L428.5,90.3L428.8,90.3L429.1,90.3L429.5,90.3L429.8,90.3L430.1,90.3L430.5,90.3L430.8,90.1L431.1,90.3L431.5,90.3L431.8,90.3L432.1,90.3L432.5,90.3L432.8,90.3L433.1,90.3L433.4,90.0L433.8,90.3L434.1,90.3L434.4,90.3L434.8,90.2L435.1,89.7L435.4,88.6L435.8,88.9L436.1,89.9L436.4,90.3L436.7,90.3L437.1,90.3L437.4,90.3L437.7,90.3L438.1,90.3L438.4,90.3L438.7,90.3L439.1,90.3L439.4,90.3L439.7,90.3L440.0,89.5L440.4,90.3L440.7,90.3L441.0,90.3L441.4,90.3L441.7,90.3L442.0,90.3L442.4,90.3L442.7,89.5L443.0,90.3L443.3,90.3L443.7,90.3L444.0,90.3L444.3,90.3L444.7,90.3L445.0,90.3L445.3,89.8L445.6,90.3L446.0,90.3L446.3,90.3L446.6,90.3L447.0,90.3L447.3,90.3L447.6,90.3L448.0,90.3L448.3,90.3L448.6,90.3L449.0,89.9L449.3,90.3L449.6,90.3L449.9,90.3L450.3,90.3L450.6,90.3L450.9,90.3L451.3,90.2L451.6,89.7L451.9,89.3L452.2,89.4L452.6,90.0L452.9,90.0L453.2,90.2L453.6,90.3L453.9,90.3L454.2,90.3L454.6,90.3L454.9,90.3L455.2,90.3L455.6,90.3L455.9,90.3L456.2,90.3L456.5,90.3L456.9,90.3L457.2,90.2L457.5,89.9L457.9,89.5L458.2,89.2L458.5,88.5L458.9,88.3L459.2,88.7L459.5,89.4L459.8,90.0L460.2,90.2L460.5,90.2L460.8,89.9L461.2,89.3L461.5,88.9L461.8,89.2L462.1,89.8L462.5,89.5L462.8,90.3L463.1,90.3L463.5,90.3L463.8,90.3L464.1,90.3L464.5,90.3L464.8,90.3L465.1,90.3L465.5,90.3L465.8,90.3L466.1,90.3L466.4,90.3L466.8,90.3L467.1,90.3L467.4,90.3L467.8,90.3L468.1,90.3L468.4,90.3L468.8,90.3L469.1,90.3L469.4,90.3L469.7,90.3L470.1,90.3L470.4,90.3L470.7,90.3L471.1,90.3L471.4,90.3L471.7,90.3L472.1,90.3L472.4,90.3L472.7,90.3L473.0,90.3L473.4,90.3L473.7,90.3L474.0,90.3L474.4,90.3L474.7,90.3L475.0,89.9L475.4,88.9L475.7,88.3L476.0,89.2L476.3,90.0L476.7,90.3L477.0,90.3L477.3,90.3L477.7,90.1L478.0,90.3L478.3,90.3L478.6,90.3L479.0,90.3L479.3,90.3L479.6,90.3L480.0,90.3L480.3,90.2L480.6,90.1L481.0,90.0L481.3,89.3L481.6,90.2L482.0,90.3L482.3,90.3L482.6,90.2L482.9,89.9L483.3,89.9L483.6,90.1L483.9,90.3L484.3,90.3L484.6,90.2L484.9,90.3L485.2,90.3L485.6,90.3L485.9,90.3L486.2,90.3L486.6,90.3L486.9,90.3L487.2,90.3L487.6,90.3L487.9,90.2L488.2,90.3L488.6,90.3L488.9,90.3L489.2,90.3L489.5,90.3L489.9,89.6L490.2,90.3L490.5,90.3L490.9,90.3L491.2,89.6L491.5,90.3L491.9,90.3L492.2,90.3L492.5,90.3L492.8,90.3L493.2,90.3L493.5,90.0L493.8,90.3L494.2,90.3L494.5,90.3L494.8,90.3L495.1,90.3L495.5,90.3L495.8,90.3L496.1,90.3L496.5,90.3L496.8,90.3L497.1,90.3L497.5,90.3L497.8,90.3L498.1,90.3L498.5,90.3L498.8,90.3L499.1,90.3L499.4,90.3L499.8,90.3L500.1,90.3L500.4,90.3L500.8,90.3L501.1,90.3L501.4,90.3L501.8,90.3L502.1,90.2L502.4,90.3L502.7,90.3L503.1,90.3L503.4,90.3L503.7,90.3L504.1,90.3L504.4,90.3L504.7,90.3L505.1,90.3L505.4,90.3L505.7,90.3L506.0,90.3L506.4,90.3L506.7,90.3L507.0,90.3L507.4,90.3L507.7,90.3L508.0,90.3L508.4,90.3L508.7,90.3L509.0,90.3L509.3,90.3L509.7,90.3L510.0,90.3L510.3,90.3L510.5,90.3Z" fill="#d5211d"/>
<rect x="295" y="125.3" width="215.8" height="66.5" fill="#f4f4f4"/>
<line x1="295" y1="141.0" x2="510.8" y2="141.0" stroke="#fff" stroke-width="0.8"/>
<line x1="295" y1="156.6" x2="510.8" y2="156.6" stroke="#fff" stroke-width="0.8"/>
<line x1="295" y1="171.7" x2="510.8" y2="171.7" stroke="#fff" stroke-width="0.8"/>
<line x1="295" y1="187.1" x2="510.8" y2="187.1" stroke="#fff" stroke-width="0.8"/>
<line x1="295.5" y1="139.9" x2="510.5" y2="139.9" stroke="#2e3f9e" stroke-width="0.45" opacity="0.75"/>
<path d="M295.5,139.9L295.5,139.9L295.8,139.9L296.2,139.9L296.5,139.9L296.8,139.9L297.1,139.9L297.5,139.9L297.8,139.9L298.1,139.9L298.5,139.9L298.8,139.9L299.1,139.9L299.5,139.7L299.8,139.9L300.1,139.9L300.4,139.9L300.8,139.9L301.1,139.9L301.4,139.9L301.8,139.9L302.1,139.9L302.4,139.9L302.8,139.9L303.1,139.3L303.4,139.9L303.8,139.9L304.1,139.9L304.4,139.9L304.7,139.9L305.1,139.9L305.4,139.9L305.7,139.9L306.1,139.9L306.4,139.9L306.7,139.9L307.1,139.2L307.4,138.6L307.7,137.6L308.0,138.6L308.4,139.6L308.7,139.9L309.0,139.9L309.4,139.9L309.7,139.9L310.0,139.9L310.4,139.9L310.7,139.9L311.0,139.9L311.3,139.9L311.7,139.9L312.0,139.9L312.3,139.3L312.7,139.5L313.0,137.4L313.3,134.3L313.6,134.1L314.0,137.3L314.3,139.2L314.6,139.9L315.0,139.9L315.3,139.9L315.6,139.9L316.0,139.9L316.3,139.2L316.6,139.5L316.9,139.9L317.3,139.1L317.6,139.7L317.9,139.2L318.3,139.9L318.6,139.9L318.9,139.9L319.3,139.9L319.6,139.9L319.9,139.9L320.2,139.8L320.6,139.7L320.9,139.7L321.2,139.8L321.6,139.9L321.9,139.9L322.2,139.9L322.6,139.8L322.9,139.5L323.2,139.1L323.6,138.9L323.9,139.0L324.2,139.4L324.5,139.7L324.9,139.9L325.2,139.9L325.5,139.9L325.9,139.9L326.2,139.9L326.5,139.9L326.9,139.9L327.2,139.7L327.5,139.9L327.8,139.9L328.2,139.9L328.5,139.9L328.8,139.9L329.2,139.9L329.5,139.3L329.8,139.9L330.1,139.9L330.5,139.9L330.8,139.9L331.1,139.9L331.5,139.9L331.8,139.9L332.1,139.9L332.5,139.9L332.8,139.9L333.1,139.8L333.4,138.6L333.8,139.1L334.1,138.5L334.4,138.4L334.8,138.1L335.1,138.4L335.4,138.6L335.8,138.1L336.1,135.0L336.4,134.0L336.8,136.3L337.1,138.4L337.4,139.7L337.7,139.9L338.1,139.9L338.4,139.9L338.7,138.8L339.1,139.9L339.4,139.9L339.7,139.9L340.1,139.9L340.4,139.9L340.7,139.9L341.0,139.8L341.4,138.9L341.7,139.8L342.0,139.9L342.4,139.0L342.7,139.2L343.0,139.2L343.4,138.9L343.7,139.3L344.0,139.7L344.3,139.9L344.7,139.9L345.0,139.9L345.3,139.9L345.7,139.9L346.0,139.9L346.3,139.9L346.6,139.9L347.0,139.9L347.3,139.4L347.6,139.9L348.0,139.2L348.3,139.9L348.6,139.9L349.0,139.9L349.3,139.9L349.6,139.6L349.9,137.7L350.3,138.6L350.6,139.8L350.9,139.9L351.3,139.9L351.6,139.9L351.9,139.9L352.3,139.9L352.6,139.8L352.9,139.4L353.2,138.7L353.6,137.6L353.9,138.0L354.2,139.0L354.6,139.6L354.9,139.9L355.2,139.9L355.6,138.8L355.9,139.9L356.2,139.9L356.6,139.9L356.9,139.9L357.2,139.9L357.5,139.9L357.9,139.9L358.2,139.7L358.5,139.7L358.9,139.9L359.2,139.5L359.5,139.8L359.9,139.8L360.2,139.9L360.5,139.9L360.8,139.1L361.2,139.9L361.5,139.9L361.8,139.7L362.2,138.6L362.5,134.6L362.8,133.2L363.1,135.2L363.5,137.7L363.8,137.5L364.1,136.8L364.5,137.2L364.8,138.3L365.1,137.3L365.5,135.7L365.8,136.6L366.1,139.0L366.4,139.7L366.8,139.9L367.1,139.9L367.4,139.9L367.8,139.9L368.1,139.9L368.4,139.9L368.8,139.9L369.1,139.9L369.4,139.9L369.8,139.9L370.1,139.9L370.4,139.9L370.7,139.8L371.1,139.4L371.4,138.7L371.7,139.2L372.1,139.8L372.4,139.9L372.7,139.9L373.1,139.9L373.4,139.9L373.7,139.9L374.0,138.9L374.4,139.9L374.7,139.9L375.0,139.4L375.4,137.6L375.7,134.7L376.0,133.2L376.4,137.1L376.7,139.1L377.0,139.8L377.3,139.9L377.7,139.1L378.0,139.9L378.3,139.9L378.7,139.9L379.0,139.9L379.3,139.9L379.6,139.4L380.0,139.9L380.3,139.9L380.6,139.9L381.0,139.9L381.3,139.9L381.6,139.9L382.0,139.9L382.3,139.9L382.6,139.9L382.9,139.9L383.3,139.8L383.6,139.9L383.9,139.9L384.3,139.9L384.6,139.9L384.9,139.9L385.3,139.9L385.6,138.9L385.9,139.3L386.2,139.9L386.6,139.9L386.9,139.9L387.2,139.5L387.6,139.9L387.9,139.0L388.2,139.9L388.6,139.9L388.9,139.9L389.2,139.9L389.6,139.9L389.9,139.9L390.2,139.9L390.5,139.9L390.9,139.9L391.2,139.9L391.5,139.9L391.9,139.8L392.2,139.9L392.5,139.9L392.9,139.9L393.2,139.9L393.5,139.9L393.8,139.9L394.2,138.6L394.5,139.9L394.8,139.9L395.2,139.9L395.5,139.9L395.8,139.9L396.1,139.9L396.5,139.9L396.8,139.9L397.1,138.8L397.5,139.9L397.8,139.9L398.1,139.9L398.5,139.9L398.8,139.9L399.1,139.8L399.4,139.7L399.8,139.6L400.1,138.6L400.4,139.7L400.8,139.8L401.1,139.9L401.4,139.9L401.8,139.9L402.1,139.9L402.4,139.9L402.8,139.9L403.1,139.9L403.4,139.9L403.7,139.9L404.1,139.9L404.4,139.9L404.7,139.9L405.1,139.1L405.4,139.9L405.7,139.8L406.1,139.8L406.4,139.8L406.7,139.8L407.0,139.9L407.4,139.9L407.7,138.9L408.0,139.9L408.4,139.9L408.7,139.9L409.0,138.9L409.4,139.9L409.7,139.9L410.0,139.9L410.3,139.6L410.7,139.1L411.0,139.9L411.3,139.9L411.7,139.9L412.0,139.9L412.3,139.9L412.6,139.7L413.0,139.5L413.3,139.9L413.6,139.9L414.0,139.3L414.3,139.9L414.6,139.9L415.0,139.9L415.3,139.9L415.6,139.9L415.9,139.9L416.3,139.4L416.6,139.9L416.9,139.9L417.3,139.9L417.6,139.9L417.9,139.9L418.3,139.9L418.6,139.9L418.9,139.9L419.2,139.9L419.6,139.8L419.9,139.7L420.2,139.1L420.6,138.3L420.9,137.7L421.2,137.9L421.6,138.7L421.9,139.3L422.2,139.2L422.6,139.7L422.9,138.7L423.2,139.9L423.5,139.9L423.9,139.9L424.2,139.9L424.5,139.9L424.9,139.9L425.2,139.9L425.5,139.9L425.9,139.9L426.2,139.9L426.5,139.9L426.8,139.9L427.2,139.9L427.5,139.9L427.8,139.9L428.2,139.9L428.5,139.9L428.8,139.9L429.1,139.0L429.5,139.9L429.8,139.9L430.1,139.4L430.5,139.9L430.8,139.9L431.1,139.9L431.5,139.9L431.8,139.9L432.1,139.9L432.5,139.9L432.8,139.9L433.1,139.9L433.4,139.9L433.8,139.9L434.1,139.9L434.4,139.9L434.8,138.8L435.1,138.7L435.4,138.0L435.8,138.8L436.1,139.6L436.4,139.9L436.7,139.2L437.1,139.9L437.4,139.9L437.7,139.8L438.1,139.9L438.4,139.8L438.7,138.9L439.1,135.9L439.4,133.9L439.7,136.1L440.0,138.5L440.4,139.7L440.7,139.9L441.0,138.8L441.4,139.5L441.7,138.5L442.0,137.7L442.4,138.7L442.7,139.6L443.0,139.9L443.3,139.9L443.7,139.9L444.0,139.9L444.3,139.9L444.7,139.9L445.0,139.9L445.3,139.9L445.6,139.8L446.0,139.9L446.3,139.9L446.6,139.9L447.0,139.9L447.3,139.9L447.6,139.9L448.0,138.7L448.3,139.6L448.6,138.3L449.0,136.5L449.3,136.7L449.6,138.3L449.9,139.7L450.3,139.1L450.6,139.9L450.9,139.7L451.3,139.9L451.6,139.9L451.9,139.9L452.2,139.9L452.6,139.5L452.9,139.9L453.2,139.2L453.6,139.9L453.9,139.9L454.2,139.9L454.6,139.9L454.9,139.9L455.2,139.9L455.6,139.9L455.9,139.9L456.2,139.9L456.5,139.9L456.9,139.9L457.2,138.9L457.5,139.9L457.9,139.9L458.2,139.9L458.5,139.9L458.9,139.9L459.2,139.9L459.5,139.8L459.8,139.9L460.2,139.9L460.5,139.9L460.8,139.9L461.2,139.9L461.5,139.9L461.8,139.9L462.1,139.9L462.5,139.2L462.8,139.9L463.1,139.9L463.5,139.9L463.8,139.8L464.1,139.8L464.5,139.5L464.8,139.0L465.1,138.8L465.5,139.1L465.8,139.5L466.1,139.8L466.4,139.9L466.8,139.9L467.1,139.9L467.4,139.9L467.8,139.9L468.1,139.9L468.4,139.9L468.8,139.9L469.1,139.9L469.4,139.9L469.7,139.9L470.1,139.9L470.4,139.5L470.7,139.9L471.1,139.9L471.4,139.9L471.7,139.9L472.1,139.9L472.4,139.9L472.7,138.8L473.0,139.9L473.4,139.9L473.7,139.9L474.0,139.9L474.4,139.9L474.7,139.9L475.0,139.7L475.4,139.9L475.7,139.9L476.0,139.9L476.3,139.9L476.7,139.9L477.0,139.9L477.3,139.9L477.7,139.9L478.0,139.9L478.3,139.9L478.6,139.9L479.0,139.9L479.3,139.9L479.6,139.9L480.0,139.9L480.3,139.9L480.6,139.9L481.0,139.9L481.3,139.2L481.6,139.9L482.0,139.9L482.3,139.9L482.6,139.9L482.9,139.9L483.3,139.9L483.6,139.9L483.9,139.9L484.3,139.9L484.6,139.9L484.9,139.9L485.2,139.9L485.6,139.2L485.9,139.9L486.2,139.9L486.6,139.9L486.9,139.8L487.2,139.1L487.6,137.4L487.9,135.0L488.2,135.0L488.6,137.9L488.9,139.0L489.2,139.9L489.5,139.9L489.9,139.9L490.2,139.9L490.5,139.9L490.9,139.9L491.2,139.9L491.5,139.3L491.9,138.9L492.2,139.9L492.5,139.9L492.8,139.9L493.2,139.7L493.5,139.6L493.8,139.0L494.2,138.8L494.5,139.3L494.8,139.8L495.1,139.9L495.5,139.9L495.8,139.9L496.1,139.9L496.5,139.9L496.8,139.9L497.1,139.9L497.5,139.9L497.8,139.9L498.1,139.7L498.5,139.5L498.8,139.9L499.1,139.9L499.4,139.9L499.8,139.9L500.1,139.9L500.4,139.9L500.8,139.9L501.1,139.9L501.4,139.9L501.8,139.9L502.1,139.9L502.4,139.9L502.7,139.9L503.1,139.9L503.4,139.9L503.7,139.1L504.1,139.9L504.4,139.7L504.7,139.1L505.1,138.9L505.4,139.0L505.7,139.3L506.0,139.5L506.4,139.7L506.7,139.9L507.0,139.9L507.4,138.9L507.7,139.1L508.0,139.0L508.4,139.5L508.7,139.8L509.0,139.1L509.3,139.9L509.7,139.9L510.0,139.9L510.3,139.9L510.5,139.9Z" fill="#2e3f9e"/>
<line x1="295.5" y1="155.5" x2="510.5" y2="155.5" stroke="#2e3f9e" stroke-width="0.45" opacity="0.75"/>
<path d="M295.5,155.5L295.5,155.5L295.8,155.5L296.2,155.5L296.5,155.5L296.8,155.5L297.1,155.5L297.5,155.5L297.8,155.5L298.1,155.5L298.5,155.5L298.8,155.2L299.1,155.5L299.5,154.6L299.8,155.5L300.1,155.5L300.4,154.2L300.8,155.5L301.1,155.5L301.4,155.5L301.8,155.3L302.1,155.5L302.4,154.3L302.8,155.5L303.1,155.5L303.4,155.5L303.8,154.3L304.1,155.5L304.4,155.5L304.7,155.5L305.1,155.5L305.4,155.5L305.7,154.5L306.1,155.5L306.4,155.5L306.7,155.5L307.1,155.5L307.4,155.5L307.7,155.5L308.0,155.5L308.4,155.5L308.7,155.5L309.0,155.1L309.4,155.5L309.7,155.3L310.0,154.3L310.4,153.5L310.7,154.8L311.0,155.4L311.3,155.5L311.7,155.5L312.0,155.5L312.3,155.5L312.7,155.1L313.0,153.1L313.3,151.0L313.6,150.3L314.0,153.2L314.3,155.1L314.6,155.5L315.0,155.5L315.3,155.3L315.6,154.6L316.0,154.4L316.3,155.1L316.6,155.4L316.9,155.5L317.3,155.5L317.6,155.5L317.9,155.5L318.3,155.5L318.6,155.5L318.9,155.5L319.3,155.5L319.6,155.5L319.9,155.5L320.2,155.5L320.6,155.5L320.9,155.5L321.2,155.5L321.6,155.5L321.9,155.5L322.2,155.5L322.6,155.5L322.9,155.5L323.2,155.5L323.6,155.5L323.9,155.5L324.2,155.5L324.5,154.6L324.9,155.5L325.2,155.5L325.5,155.5L325.9,155.3L326.2,155.5L326.5,155.5L326.9,155.5L327.2,155.2L327.5,155.5L327.8,155.5L328.2,155.5L328.5,155.5L328.8,155.5L329.2,155.5L329.5,155.5L329.8,155.5L330.1,155.4L330.5,155.5L330.8,155.5L331.1,155.5L331.5,155.5L331.8,155.5L332.1,155.5L332.5,155.5L332.8,155.5L333.1,155.4L333.4,155.2L333.8,154.9L334.1,154.4L334.4,153.8L334.8,153.5L335.1,153.8L335.4,154.3L335.8,154.2L336.1,152.5L336.4,150.7L336.8,152.8L337.1,154.5L337.4,155.3L337.7,155.5L338.1,155.5L338.4,154.4L338.7,155.4L339.1,155.0L339.4,155.5L339.7,155.5L340.1,155.5L340.4,155.5L340.7,155.5L341.0,155.5L341.4,155.5L341.7,155.5L342.0,154.7L342.4,155.4L342.7,155.1L343.0,154.8L343.4,154.5L343.7,154.6L344.0,155.3L344.3,155.5L344.7,155.5L345.0,155.5L345.3,155.5L345.7,155.2L346.0,155.4L346.3,155.2L346.6,155.2L347.0,155.4L347.3,155.5L347.6,155.5L348.0,154.9L348.3,155.5L348.6,155.4L349.0,155.4L349.3,155.4L349.6,155.5L349.9,155.5L350.3,155.5L350.6,154.5L350.9,155.5L351.3,155.5L351.6,155.5L351.9,155.5L352.3,155.5L352.6,154.5L352.9,154.9L353.2,153.7L353.6,152.8L353.9,152.9L354.2,154.4L354.6,155.1L354.9,155.4L355.2,155.5L355.6,155.5L355.9,155.1L356.2,155.5L356.6,155.5L356.9,155.5L357.2,155.3L357.5,154.8L357.9,154.1L358.2,153.9L358.5,153.1L358.9,154.3L359.2,155.4L359.5,155.1L359.9,155.5L360.2,155.5L360.5,155.5L360.8,155.5L361.2,155.5L361.5,155.5L361.8,155.3L362.2,153.9L362.5,150.6L362.8,148.5L363.1,150.3L363.5,152.8L363.8,152.5L364.1,153.0L364.5,152.8L364.8,153.7L365.1,153.8L365.5,152.5L365.8,153.1L366.1,154.6L366.4,155.0L366.8,155.3L367.1,155.5L367.4,155.5L367.8,155.5L368.1,154.3L368.4,155.5L368.8,155.5L369.1,155.5L369.4,155.5L369.8,155.5L370.1,155.5L370.4,155.5L370.7,155.4L371.1,155.1L371.4,155.0L371.7,155.4L372.1,155.5L372.4,155.5L372.7,155.5L373.1,155.5L373.4,155.5L373.7,155.5L374.0,155.5L374.4,155.5L374.7,155.4L375.0,155.0L375.4,152.6L375.7,149.6L376.0,147.3L376.4,151.2L376.7,154.4L377.0,154.6L377.3,155.5L377.7,155.5L378.0,155.0L378.3,154.9L378.7,155.5L379.0,155.5L379.3,155.0L379.6,155.3L380.0,155.5L380.3,155.5L380.6,155.5L381.0,154.6L381.3,155.5L381.6,155.5L382.0,155.4L382.3,155.5L382.6,155.5L382.9,155.5L383.3,155.5L383.6,155.4L383.9,155.4L384.3,155.4L384.6,154.9L384.9,154.4L385.3,155.5L385.6,155.5L385.9,155.5L386.2,154.5L386.6,155.5L386.9,155.5L387.2,155.5L387.6,155.5L387.9,155.5L388.2,155.5L388.6,155.5L388.9,155.5L389.2,155.5L389.6,155.5L389.9,155.5L390.2,155.5L390.5,155.5L390.9,155.5L391.2,155.5L391.5,155.5L391.9,155.5L392.2,155.5L392.5,155.5L392.9,155.5L393.2,154.3L393.5,155.5L393.8,155.5L394.2,155.5L394.5,155.5L394.8,155.5L395.2,154.5L395.5,155.5L395.8,155.2L396.1,155.4L396.5,155.2L396.8,154.6L397.1,154.2L397.5,154.3L397.8,154.9L398.1,155.3L398.5,155.5L398.8,155.5L399.1,155.5L399.4,155.5L399.8,155.5L400.1,155.5L400.4,155.5L400.8,155.5L401.1,155.5L401.4,155.5L401.8,155.5L402.1,155.5L402.4,155.5L402.8,155.2L403.1,155.5L403.4,155.5L403.7,155.5L404.1,155.5L404.4,155.5L404.7,155.5L405.1,155.5L405.4,155.5L405.7,155.5L406.1,155.5L406.4,155.5L406.7,155.5L407.0,155.5L407.4,155.5L407.7,155.5L408.0,155.2L408.4,155.5L408.7,155.5L409.0,155.5L409.4,155.4L409.7,155.2L410.0,154.6L410.3,154.2L410.7,154.5L411.0,154.5L411.3,154.3L411.7,155.1L412.0,155.4L412.3,155.5L412.6,155.3L413.0,155.5L413.3,155.4L413.6,155.2L414.0,154.6L414.3,153.7L414.6,153.1L415.0,153.5L415.3,154.4L415.6,155.1L415.9,155.4L416.3,155.5L416.6,155.5L416.9,154.5L417.3,155.5L417.6,155.5L417.9,155.5L418.3,155.5L418.6,155.5L418.9,155.5L419.2,155.5L419.6,154.8L419.9,155.5L420.2,155.5L420.6,155.5L420.9,155.5L421.2,155.4L421.6,155.1L421.9,154.8L422.2,154.8L422.6,155.2L422.9,155.5L423.2,155.5L423.5,155.5L423.9,155.5L424.2,155.5L424.5,155.5L424.9,155.5L425.2,155.5L425.5,155.5L425.9,155.5L426.2,155.5L426.5,155.5L426.8,155.5L427.2,155.5L427.5,155.5L427.8,155.5L428.2,155.5L428.5,155.3L428.8,155.5L429.1,154.5L429.5,155.5L429.8,155.5L430.1,155.5L430.5,155.5L430.8,155.5L431.1,155.5L431.5,155.5L431.8,155.5L432.1,155.5L432.5,155.5L432.8,155.5L433.1,155.5L433.4,155.2L433.8,154.7L434.1,155.1L434.4,155.5L434.8,154.4L435.1,154.2L435.4,153.8L435.8,154.2L436.1,155.2L436.4,155.5L436.7,155.5L437.1,155.5L437.4,155.5L437.7,155.5L438.1,155.5L438.4,155.4L438.7,154.3L439.1,150.4L439.4,148.7L439.7,149.6L440.0,153.4L440.4,154.3L440.7,154.8L441.0,155.4L441.4,155.1L441.7,154.1L442.0,153.3L442.4,154.4L442.7,154.7L443.0,155.3L443.3,155.5L443.7,155.5L444.0,155.4L444.3,155.2L444.7,155.4L445.0,155.5L445.3,155.5L445.6,155.5L446.0,155.0L446.3,155.2L446.6,155.5L447.0,155.5L447.3,155.5L447.6,155.5L448.0,155.3L448.3,155.2L448.6,153.8L449.0,151.3L449.3,152.1L449.6,153.9L449.9,155.3L450.3,155.3L450.6,155.5L450.9,155.5L451.3,155.5L451.6,155.5L451.9,155.0L452.2,155.5L452.6,155.5L452.9,155.5L453.2,155.5L453.6,155.5L453.9,154.3L454.2,155.5L454.6,155.5L454.9,155.5L455.2,155.5L455.6,155.5L455.9,155.5L456.2,155.4L456.5,155.3L456.9,155.2L457.2,155.3L457.5,155.3L457.9,155.5L458.2,155.5L458.5,155.3L458.9,154.8L459.2,155.5L459.5,155.5L459.8,155.5L460.2,155.5L460.5,155.5L460.8,155.5L461.2,155.5L461.5,155.5L461.8,155.5L462.1,155.5L462.5,155.5L462.8,155.5L463.1,155.5L463.5,155.5L463.8,155.5L464.1,155.5L464.5,155.5L464.8,155.5L465.1,155.4L465.5,155.5L465.8,155.5L466.1,155.5L466.4,155.5L466.8,155.5L467.1,155.5L467.4,155.5L467.8,155.5L468.1,155.5L468.4,155.5L468.8,155.5L469.1,155.5L469.4,155.5L469.7,155.5L470.1,155.5L470.4,155.5L470.7,155.5L471.1,154.8L471.4,155.5L471.7,155.5L472.1,155.5L472.4,155.5L472.7,155.5L473.0,155.5L473.4,155.5L473.7,155.5L474.0,155.5L474.4,155.5L474.7,155.5L475.0,155.5L475.4,155.5L475.7,155.5L476.0,155.5L476.3,155.5L476.7,155.5L477.0,155.5L477.3,155.5L477.7,155.5L478.0,155.5L478.3,155.5L478.6,155.5L479.0,155.5L479.3,155.5L479.6,155.5L480.0,155.5L480.3,155.5L480.6,155.5L481.0,155.5L481.3,155.2L481.6,155.5L482.0,155.1L482.3,155.5L482.6,154.8L482.9,155.0L483.3,155.5L483.6,155.5L483.9,155.5L484.3,155.5L484.6,155.5L484.9,155.5L485.2,155.2L485.6,155.5L485.9,155.5L486.2,155.5L486.6,155.5L486.9,155.4L487.2,154.8L487.6,153.0L487.9,149.8L488.2,151.5L488.6,153.7L488.9,155.2L489.2,155.5L489.5,155.5L489.9,155.5L490.2,155.5L490.5,155.2L490.9,155.5L491.2,155.5L491.5,155.5L491.9,154.6L492.2,155.5L492.5,155.5L492.8,155.5L493.2,155.5L493.5,155.5L493.8,155.5L494.2,155.5L494.5,155.5L494.8,154.3L495.1,155.4L495.5,155.4L495.8,155.5L496.1,155.5L496.5,155.5L496.8,155.5L497.1,155.5L497.5,155.5L497.8,155.5L498.1,155.5L498.5,155.5L498.8,155.5L499.1,155.5L499.4,155.5L499.8,154.3L500.1,155.5L500.4,155.5L500.8,155.5L501.1,155.5L501.4,155.5L501.8,155.5L502.1,155.5L502.4,155.5L502.7,155.5L503.1,154.7L503.4,155.5L503.7,155.5L504.1,155.5L504.4,155.3L504.7,154.6L505.1,154.5L505.4,154.9L505.7,154.8L506.0,155.2L506.4,154.3L506.7,155.5L507.0,155.5L507.4,155.5L507.7,155.5L508.0,155.5L508.4,155.5L508.7,155.5L509.0,155.5L509.3,155.5L509.7,155.5L510.0,155.5L510.3,155.5L510.5,155.5Z" fill="#2e3f9e"/>
<line x1="295.5" y1="170.6" x2="510.5" y2="170.6" stroke="#d5211d" stroke-width="0.45" stroke-dasharray="0.8 2.5" opacity="0.45"/>
<path d="M295.5,170.6L295.5,170.6L295.8,170.6L296.2,169.5L296.5,170.6L296.8,170.6L297.1,170.6L297.5,170.6L297.8,170.6L298.1,170.6L298.5,170.6L298.8,170.6L299.1,170.6L299.5,170.6L299.8,170.6L300.1,170.6L300.4,170.6L300.8,169.7L301.1,170.6L301.4,170.6L301.8,170.6L302.1,170.6L302.4,170.6L302.8,170.6L303.1,170.6L303.4,170.6L303.8,170.6L304.1,170.6L304.4,170.6L304.7,170.6L305.1,170.6L305.4,170.6L305.7,170.6L306.1,170.6L306.4,170.6L306.7,170.6L307.1,170.6L307.4,170.6L307.7,170.6L308.0,170.2L308.4,169.6L308.7,170.6L309.0,170.6L309.4,170.6L309.7,170.6L310.0,170.6L310.4,170.6L310.7,170.6L311.0,170.6L311.3,170.6L311.7,170.6L312.0,170.6L312.3,170.6L312.7,169.8L313.0,165.7L313.3,160.2L313.6,160.8L314.0,166.2L314.3,169.6L314.6,170.5L315.0,170.6L315.3,170.6L315.6,170.5L316.0,170.3L316.3,169.8L316.6,169.2L316.9,168.9L317.3,169.2L317.6,169.8L317.9,170.3L318.3,170.5L318.6,170.6L318.9,170.2L319.3,170.6L319.6,170.6L319.9,170.6L320.2,170.4L320.6,170.0L320.9,170.0L321.2,170.4L321.6,170.6L321.9,170.6L322.2,170.6L322.6,170.6L322.9,170.6L323.2,170.6L323.6,170.6L323.9,170.6L324.2,170.6L324.5,170.6L324.9,170.6L325.2,170.6L325.5,170.6L325.9,170.6L326.2,170.6L326.5,170.2L326.9,170.6L327.2,170.6L327.5,170.6L327.8,170.6L328.2,170.6L328.5,170.6L328.8,169.6L329.2,170.6L329.5,170.6L329.8,170.6L330.1,170.6L330.5,170.6L330.8,170.6L331.1,170.6L331.5,170.6L331.8,170.6L332.1,170.6L332.5,170.6L332.8,170.5L333.1,170.3L333.4,170.1L333.8,169.7L334.1,169.1L334.4,167.9L334.8,167.9L335.1,167.7L335.4,168.7L335.8,168.9L336.1,166.6L336.4,163.7L336.8,166.2L337.1,169.4L337.4,170.0L337.7,170.6L338.1,170.6L338.4,170.6L338.7,170.2L339.1,170.6L339.4,170.2L339.7,169.9L340.1,170.0L340.4,170.6L340.7,170.6L341.0,170.6L341.4,170.6L341.7,170.6L342.0,170.6L342.4,170.4L342.7,169.6L343.0,168.9L343.4,168.0L343.7,168.8L344.0,170.0L344.3,170.5L344.7,170.6L345.0,170.6L345.3,170.6L345.7,170.6L346.0,170.6L346.3,170.6L346.6,170.6L347.0,170.6L347.3,170.6L347.6,170.6L348.0,170.6L348.3,170.6L348.6,170.6L349.0,170.6L349.3,170.6L349.6,170.6L349.9,170.6L350.3,170.6L350.6,170.6L350.9,170.6L351.3,170.3L351.6,170.6L351.9,170.6L352.3,170.6L352.6,170.4L352.9,169.5L353.2,168.0L353.6,166.1L353.9,166.1L354.2,168.4L354.6,169.6L354.9,170.5L355.2,170.6L355.6,170.6L355.9,170.6L356.2,170.5L356.6,170.6L356.9,170.6L357.2,170.6L357.5,170.6L357.9,170.6L358.2,170.6L358.5,170.6L358.9,170.6L359.2,170.6L359.5,170.6L359.9,170.6L360.2,170.6L360.5,170.6L360.8,170.6L361.2,170.6L361.5,170.5L361.8,169.6L362.2,168.0L362.5,162.3L362.8,156.6L363.1,163.2L363.5,166.6L363.8,166.4L364.1,165.9L364.5,166.5L364.8,167.6L365.1,164.8L365.5,161.5L365.8,164.8L366.1,168.5L366.4,170.2L366.8,170.6L367.1,169.6L367.4,170.6L367.8,170.6L368.1,170.6L368.4,170.6L368.8,170.6L369.1,170.6L369.4,169.5L369.8,170.6L370.1,170.6L370.4,170.6L370.7,170.6L371.1,170.6L371.4,170.4L371.7,170.6L372.1,170.6L372.4,170.6L372.7,170.6L373.1,170.6L373.4,170.0L373.7,170.6L374.0,170.6L374.4,170.6L374.7,170.6L375.0,170.3L375.4,168.9L375.7,167.5L376.0,166.6L376.4,168.4L376.7,169.9L377.0,170.1L377.3,170.4L377.7,169.6L378.0,170.6L378.3,170.6L378.7,170.6L379.0,170.6L379.3,170.6L379.6,170.6L380.0,170.6L380.3,170.6L380.6,170.6L381.0,170.6L381.3,170.5L381.6,170.1L382.0,169.3L382.3,168.5L382.6,168.8L382.9,169.7L383.3,170.4L383.6,170.6L383.9,170.6L384.3,170.6L384.6,170.6L384.9,170.6L385.3,170.6L385.6,170.6L385.9,170.6L386.2,170.6L386.6,170.6L386.9,170.6L387.2,170.6L387.6,170.6L387.9,170.6L388.2,170.6L388.6,170.1L388.9,170.6L389.2,170.6L389.6,170.6L389.9,170.6L390.2,170.6L390.5,170.6L390.9,170.6L391.2,170.5L391.5,170.5L391.9,170.5L392.2,170.3L392.5,170.6L392.9,170.6L393.2,170.6L393.5,170.6L393.8,170.6L394.2,170.6L394.5,170.6L394.8,170.6L395.2,170.6L395.5,170.6L395.8,170.6L396.1,170.6L396.5,170.6L396.8,170.6L397.1,170.6L397.5,170.6L397.8,170.6L398.1,170.6L398.5,170.6L398.8,170.6L399.1,169.8L399.4,170.6L399.8,170.6L400.1,170.6L400.4,170.6L400.8,170.6L401.1,170.6L401.4,170.6L401.8,170.6L402.1,170.6L402.4,170.4L402.8,170.6L403.1,170.5L403.4,170.1L403.7,169.6L404.1,169.1L404.4,169.2L404.7,169.7L405.1,170.2L405.4,170.5L405.7,170.6L406.1,170.6L406.4,170.6L406.7,170.6L407.0,170.6L407.4,170.6L407.7,170.6L408.0,170.6L408.4,170.6L408.7,170.5L409.0,170.3L409.4,170.3L409.7,170.5L410.0,170.6L410.3,169.8L410.7,170.6L411.0,170.6L411.3,170.6L411.7,170.6L412.0,170.6L412.3,170.6L412.6,170.6L413.0,170.6L413.3,170.6L413.6,170.6L414.0,170.6L414.3,170.6L414.6,170.6L415.0,170.6L415.3,170.6L415.6,170.6L415.9,170.6L416.3,170.6L416.6,170.6L416.9,170.6L417.3,170.6L417.6,170.6L417.9,170.6L418.3,169.7L418.6,169.3L418.9,168.4L419.2,169.5L419.6,170.4L419.9,170.5L420.2,170.6L420.6,170.6L420.9,170.6L421.2,170.4L421.6,169.8L421.9,168.6L422.2,169.3L422.6,170.0L422.9,170.5L423.2,170.6L423.5,170.6L423.9,170.6L424.2,170.6L424.5,170.6L424.9,170.6L425.2,170.6L425.5,170.6L425.9,170.6L426.2,170.6L426.5,170.6L426.8,170.6L427.2,170.6L427.5,170.6L427.8,170.6L428.2,170.6L428.5,170.4L428.8,170.6L429.1,170.6L429.5,170.6L429.8,170.6L430.1,170.6L430.5,170.6L430.8,170.6L431.1,170.6L431.5,170.0L431.8,169.4L432.1,170.3L432.5,170.6L432.8,170.6L433.1,170.5L433.4,169.9L433.8,170.1L434.1,169.9L434.4,169.8L434.8,170.0L435.1,169.2L435.4,168.3L435.8,169.2L436.1,170.2L436.4,170.6L436.7,170.5L437.1,170.2L437.4,170.6L437.7,170.6L438.1,170.6L438.4,170.4L438.7,169.0L439.1,163.3L439.4,158.6L439.7,164.2L440.0,168.2L440.4,170.3L440.7,170.4L441.0,170.5L441.4,169.5L441.7,166.2L442.0,164.7L442.4,167.1L442.7,169.7L443.0,170.5L443.3,170.6L443.7,170.6L444.0,170.6L444.3,170.6L444.7,170.6L445.0,170.6L445.3,170.6L445.6,170.6L446.0,170.6L446.3,170.6L446.6,170.6L447.0,170.6L447.3,170.6L447.6,170.6L448.0,170.6L448.3,170.2L448.6,168.5L449.0,166.4L449.3,167.0L449.6,168.8L449.9,170.3L450.3,170.6L450.6,170.6L450.9,170.6L451.3,170.6L451.6,170.6L451.9,170.6L452.2,170.6L452.6,170.6L452.9,170.6L453.2,170.6L453.6,170.6L453.9,170.6L454.2,170.6L454.6,170.6L454.9,170.6L455.2,170.6L455.6,170.6L455.9,170.6L456.2,170.6L456.5,170.6L456.9,170.6L457.2,170.6L457.5,170.6L457.9,170.6L458.2,170.6L458.5,170.6L458.9,170.6L459.2,170.6L459.5,170.6L459.8,170.6L460.2,170.6L460.5,170.6L460.8,170.6L461.2,170.6L461.5,170.6L461.8,170.6L462.1,170.6L462.5,170.6L462.8,170.6L463.1,170.0L463.5,170.6L463.8,170.6L464.1,170.6L464.5,170.0L464.8,170.6L465.1,170.6L465.5,170.6L465.8,170.6L466.1,170.6L466.4,170.5L466.8,170.6L467.1,170.6L467.4,170.6L467.8,170.6L468.1,170.6L468.4,170.6L468.8,170.6L469.1,170.6L469.4,170.6L469.7,170.6L470.1,170.6L470.4,170.6L470.7,170.6L471.1,170.6L471.4,170.6L471.7,170.6L472.1,170.6L472.4,170.6L472.7,170.6L473.0,170.6L473.4,170.5L473.7,170.2L474.0,169.7L474.4,169.2L474.7,169.3L475.0,169.7L475.4,170.2L475.7,170.5L476.0,170.6L476.3,170.6L476.7,170.6L477.0,170.6L477.3,170.6L477.7,170.6L478.0,170.6L478.3,170.6L478.6,170.6L479.0,170.6L479.3,170.6L479.6,170.6L480.0,170.6L480.3,170.6L480.6,170.6L481.0,170.6L481.3,170.6L481.6,170.6L482.0,170.5L482.3,170.4L482.6,170.5L482.9,170.6L483.3,170.6L483.6,170.6L483.9,170.6L484.3,170.6L484.6,170.6L484.9,170.6L485.2,170.6L485.6,170.6L485.9,170.2L486.2,170.6L486.6,170.6L486.9,170.4L487.2,168.8L487.6,163.5L487.9,157.3L488.2,159.5L488.6,166.8L488.9,169.7L489.2,170.5L489.5,170.6L489.9,170.6L490.2,170.0L490.5,169.5L490.9,170.4L491.2,170.6L491.5,170.6L491.9,170.6L492.2,170.6L492.5,170.6L492.8,170.6L493.2,170.6L493.5,170.6L493.8,170.6L494.2,170.6L494.5,170.2L494.8,169.5L495.1,170.0L495.5,170.5L495.8,170.6L496.1,170.6L496.5,170.6L496.8,170.6L497.1,170.6L497.5,170.6L497.8,170.6L498.1,170.6L498.5,170.6L498.8,170.6L499.1,170.6L499.4,170.6L499.8,169.5L500.1,170.6L500.4,170.6L500.8,170.6L501.1,170.6L501.4,170.6L501.8,170.6L502.1,170.6L502.4,170.6L502.7,170.6L503.1,170.6L503.4,170.6L503.7,170.6L504.1,170.6L504.4,170.3L504.7,169.7L505.1,169.1L505.4,169.8L505.7,170.4L506.0,170.6L506.4,170.6L506.7,170.5L507.0,169.8L507.4,168.5L507.7,169.6L508.0,170.1L508.4,170.6L508.7,170.6L509.0,170.6L509.3,170.6L509.7,170.6L510.0,170.6L510.3,170.6L510.5,170.6Z" fill="#d5211d"/>
<line x1="295.5" y1="186.0" x2="510.5" y2="186.0" stroke="#d5211d" stroke-width="0.45" stroke-dasharray="0.8 2.5" opacity="0.45"/>
<path d="M295.5,186.0L295.5,186.0L295.8,186.0L296.2,186.0L296.5,186.0L296.8,186.0L297.1,186.0L297.5,186.0L297.8,186.0L298.1,186.0L298.5,186.0L298.8,186.0L299.1,186.0L299.5,186.0L299.8,186.0L300.1,186.0L300.4,186.0L300.8,186.0L301.1,186.0L301.4,185.2L301.8,186.0L302.1,185.9L302.4,185.7L302.8,185.4L303.1,185.0L303.4,185.0L303.8,185.4L304.1,185.7L304.4,185.9L304.7,186.0L305.1,186.0L305.4,186.0L305.7,186.0L306.1,186.0L306.4,186.0L306.7,186.0L307.1,186.0L307.4,186.0L307.7,186.0L308.0,186.0L308.4,186.0L308.7,186.0L309.0,186.0L309.4,185.8L309.7,186.0L310.0,186.0L310.4,186.0L310.7,186.0L311.0,186.0L311.3,186.0L311.7,186.0L312.0,186.0L312.3,185.9L312.7,185.2L313.0,181.3L313.3,174.1L313.6,174.0L314.0,181.8L314.3,185.2L314.6,185.9L315.0,186.0L315.3,186.0L315.6,186.0L316.0,186.0L316.3,185.7L316.6,185.2L316.9,186.0L317.3,186.0L317.6,186.0L317.9,186.0L318.3,186.0L318.6,186.0L318.9,186.0L319.3,186.0L319.6,186.0L319.9,185.9L320.2,185.3L320.6,185.0L320.9,185.7L321.2,186.0L321.6,185.8L321.9,185.2L322.2,185.5L322.6,185.9L322.9,186.0L323.2,186.0L323.6,186.0L323.9,186.0L324.2,186.0L324.5,186.0L324.9,186.0L325.2,186.0L325.5,186.0L325.9,186.0L326.2,186.0L326.5,186.0L326.9,186.0L327.2,186.0L327.5,185.9L327.8,185.9L328.2,185.9L328.5,186.0L328.8,186.0L329.2,186.0L329.5,186.0L329.8,186.0L330.1,186.0L330.5,186.0L330.8,186.0L331.1,186.0L331.5,186.0L331.8,186.0L332.1,186.0L332.5,186.0L332.8,185.9L333.1,185.8L333.4,185.5L333.8,185.1L334.1,184.1L334.4,183.4L334.8,182.8L335.1,183.4L335.4,183.8L335.8,184.4L336.1,181.6L336.4,179.7L336.8,180.9L337.1,184.5L337.4,185.6L337.7,185.6L338.1,185.9L338.4,186.0L338.7,186.0L339.1,186.0L339.4,186.0L339.7,186.0L340.1,186.0L340.4,186.0L340.7,186.0L341.0,186.0L341.4,186.0L341.7,186.0L342.0,186.0L342.4,185.8L342.7,185.3L343.0,184.5L343.4,184.3L343.7,184.7L344.0,185.5L344.3,185.9L344.7,186.0L345.0,186.0L345.3,186.0L345.7,186.0L346.0,186.0L346.3,186.0L346.6,186.0L347.0,186.0L347.3,186.0L347.6,186.0L348.0,186.0L348.3,186.0L348.6,186.0L349.0,186.0L349.3,186.0L349.6,186.0L349.9,186.0L350.3,186.0L350.6,186.0L350.9,186.0L351.3,186.0L351.6,186.0L351.9,186.0L352.3,186.0L352.6,185.8L352.9,185.2L353.2,183.8L353.6,182.2L353.9,182.7L354.2,184.3L354.6,185.5L354.9,185.9L355.2,186.0L355.6,186.0L355.9,186.0L356.2,186.0L356.6,186.0L356.9,186.0L357.2,186.0L357.5,186.0L357.9,186.0L358.2,186.0L358.5,186.0L358.9,186.0L359.2,185.5L359.5,186.0L359.9,186.0L360.2,186.0L360.5,186.0L360.8,186.0L361.2,186.0L361.5,185.9L361.8,185.7L362.2,183.4L362.5,178.8L362.8,175.6L363.1,178.6L363.5,182.7L363.8,181.4L364.1,181.6L364.5,182.3L364.8,182.9L365.1,181.4L365.5,179.6L365.8,180.3L366.1,184.4L366.4,185.6L366.8,185.5L367.1,185.6L367.4,185.8L367.8,185.9L368.1,186.0L368.4,186.0L368.8,185.9L369.1,185.8L369.4,185.8L369.8,185.8L370.1,185.7L370.4,186.0L370.7,186.0L371.1,186.0L371.4,186.0L371.7,186.0L372.1,185.8L372.4,186.0L372.7,186.0L373.1,186.0L373.4,186.0L373.7,186.0L374.0,186.0L374.4,186.0L374.7,185.9L375.0,185.5L375.4,183.4L375.7,181.1L376.0,179.7L376.4,183.1L376.7,185.1L377.0,185.9L377.3,186.0L377.7,186.0L378.0,186.0L378.3,186.0L378.7,186.0L379.0,185.2L379.3,186.0L379.6,186.0L380.0,186.0L380.3,186.0L380.6,186.0L381.0,186.0L381.3,186.0L381.6,186.0L382.0,186.0L382.3,186.0L382.6,186.0L382.9,185.5L383.3,186.0L383.6,186.0L383.9,186.0L384.3,185.6L384.6,186.0L384.9,186.0L385.3,186.0L385.6,186.0L385.9,185.9L386.2,185.9L386.6,186.0L386.9,186.0L387.2,186.0L387.6,186.0L387.9,186.0L388.2,186.0L388.6,186.0L388.9,186.0L389.2,186.0L389.6,186.0L389.9,186.0L390.2,185.2L390.5,186.0L390.9,186.0L391.2,186.0L391.5,186.0L391.9,186.0L392.2,186.0L392.5,186.0L392.9,186.0L393.2,186.0L393.5,186.0L393.8,186.0L394.2,186.0L394.5,186.0L394.8,186.0L395.2,186.0L395.5,186.0L395.8,186.0L396.1,186.0L396.5,186.0L396.8,186.0L397.1,186.0L397.5,186.0L397.8,186.0L398.1,186.0L398.5,186.0L398.8,186.0L399.1,186.0L399.4,186.0L399.8,186.0L400.1,186.0L400.4,185.4L400.8,186.0L401.1,186.0L401.4,185.2L401.8,186.0L402.1,186.0L402.4,186.0L402.8,186.0L403.1,186.0L403.4,186.0L403.7,186.0L404.1,186.0L404.4,186.0L404.7,186.0L405.1,186.0L405.4,186.0L405.7,186.0L406.1,186.0L406.4,186.0L406.7,186.0L407.0,186.0L407.4,186.0L407.7,186.0L408.0,186.0L408.4,186.0L408.7,186.0L409.0,186.0L409.4,186.0L409.7,186.0L410.0,186.0L410.3,186.0L410.7,186.0L411.0,186.0L411.3,186.0L411.7,186.0L412.0,186.0L412.3,186.0L412.6,186.0L413.0,186.0L413.3,186.0L413.6,186.0L414.0,186.0L414.3,186.0L414.6,186.0L415.0,186.0L415.3,186.0L415.6,186.0L415.9,186.0L416.3,186.0L416.6,186.0L416.9,186.0L417.3,186.0L417.6,186.0L417.9,185.8L418.3,185.7L418.6,185.6L418.9,185.8L419.2,185.9L419.6,186.0L419.9,186.0L420.2,185.5L420.6,186.0L420.9,186.0L421.2,185.9L421.6,185.4L421.9,184.7L422.2,184.6L422.6,185.5L422.9,185.9L423.2,185.0L423.5,186.0L423.9,186.0L424.2,186.0L424.5,186.0L424.9,186.0L425.2,186.0L425.5,186.0L425.9,186.0L426.2,186.0L426.5,186.0L426.8,186.0L427.2,186.0L427.5,186.0L427.8,186.0L428.2,186.0L428.5,186.0L428.8,185.1L429.1,186.0L429.5,186.0L429.8,186.0L430.1,186.0L430.5,186.0L430.8,186.0L431.1,186.0L431.5,186.0L431.8,186.0L432.1,186.0L432.5,186.0L432.8,186.0L433.1,186.0L433.4,186.0L433.8,186.0L434.1,186.0L434.4,185.9L434.8,185.5L435.1,184.3L435.4,183.5L435.8,184.5L436.1,185.6L436.4,186.0L436.7,186.0L437.1,186.0L437.4,185.8L437.7,186.0L438.1,186.0L438.4,185.8L438.7,184.1L439.1,178.2L439.4,174.1L439.7,178.5L440.0,183.7L440.4,185.7L440.7,186.0L441.0,185.8L441.4,184.7L441.7,182.0L442.0,178.5L442.4,182.5L442.7,184.8L443.0,185.9L443.3,186.0L443.7,186.0L444.0,186.0L444.3,186.0L444.7,186.0L445.0,186.0L445.3,186.0L445.6,186.0L446.0,186.0L446.3,186.0L446.6,186.0L447.0,186.0L447.3,186.0L447.6,186.0L448.0,186.0L448.3,185.6L448.6,184.2L449.0,181.2L449.3,182.1L449.6,184.3L449.9,185.8L450.3,186.0L450.6,186.0L450.9,186.0L451.3,186.0L451.6,186.0L451.9,186.0L452.2,186.0L452.6,186.0L452.9,186.0L453.2,186.0L453.6,186.0L453.9,186.0L454.2,186.0L454.6,186.0L454.9,186.0L455.2,186.0L455.6,186.0L455.9,186.0L456.2,186.0L456.5,186.0L456.9,186.0L457.2,186.0L457.5,186.0L457.9,186.0L458.2,186.0L458.5,185.6L458.9,185.4L459.2,185.2L459.5,185.7L459.8,186.0L460.2,186.0L460.5,186.0L460.8,186.0L461.2,186.0L461.5,185.1L461.8,186.0L462.1,186.0L462.5,186.0L462.8,186.0L463.1,186.0L463.5,185.9L463.8,185.6L464.1,185.4L464.5,185.7L464.8,185.9L465.1,186.0L465.5,186.0L465.8,186.0L466.1,186.0L466.4,186.0L466.8,185.7L467.1,186.0L467.4,186.0L467.8,186.0L468.1,186.0L468.4,186.0L468.8,186.0L469.1,186.0L469.4,186.0L469.7,186.0L470.1,186.0L470.4,186.0L470.7,186.0L471.1,186.0L471.4,185.6L471.7,186.0L472.1,186.0L472.4,185.8L472.7,186.0L473.0,185.7L473.4,186.0L473.7,186.0L474.0,186.0L474.4,186.0L474.7,186.0L475.0,186.0L475.4,186.0L475.7,186.0L476.0,186.0L476.3,186.0L476.7,186.0L477.0,186.0L477.3,186.0L477.7,186.0L478.0,186.0L478.3,186.0L478.6,186.0L479.0,186.0L479.3,186.0L479.6,186.0L480.0,186.0L480.3,185.6L480.6,186.0L481.0,186.0L481.3,185.7L481.6,186.0L482.0,186.0L482.3,185.3L482.6,186.0L482.9,186.0L483.3,186.0L483.6,186.0L483.9,186.0L484.3,186.0L484.6,186.0L484.9,186.0L485.2,186.0L485.6,186.0L485.9,186.0L486.2,186.0L486.6,186.0L486.9,185.8L487.2,184.6L487.6,180.8L487.9,176.2L488.2,178.2L488.6,182.6L488.9,185.1L489.2,185.9L489.5,186.0L489.9,185.9L490.2,185.7L490.5,185.5L490.9,185.5L491.2,185.6L491.5,185.8L491.9,185.9L492.2,186.0L492.5,186.0L492.8,186.0L493.2,185.8L493.5,186.0L493.8,186.0L494.2,186.0L494.5,186.0L494.8,185.2L495.1,186.0L495.5,186.0L495.8,185.3L496.1,186.0L496.5,186.0L496.8,186.0L497.1,186.0L497.5,186.0L497.8,186.0L498.1,186.0L498.5,186.0L498.8,186.0L499.1,186.0L499.4,186.0L499.8,186.0L500.1,186.0L500.4,185.9L500.8,186.0L501.1,186.0L501.4,186.0L501.8,186.0L502.1,186.0L502.4,186.0L502.7,186.0L503.1,186.0L503.4,186.0L503.7,186.0L504.1,186.0L504.4,185.7L504.7,185.1L505.1,184.4L505.4,185.3L505.7,185.8L506.0,186.0L506.4,186.0L506.7,186.0L507.0,186.0L507.4,186.0L507.7,186.0L508.0,186.0L508.4,186.0L508.7,186.0L509.0,186.0L509.3,186.0L509.7,185.5L510.0,185.4L510.3,185.0L510.5,186.0Z" fill="#d5211d"/>
<rect x="295" y="218.8" width="215.8" height="68.6" fill="#f4f4f4"/>
<line x1="295" y1="235.0" x2="510.8" y2="235.0" stroke="#fff" stroke-width="0.8"/>
<line x1="295" y1="250.4" x2="510.8" y2="250.4" stroke="#fff" stroke-width="0.8"/>
<line x1="295" y1="265.6" x2="510.8" y2="265.6" stroke="#fff" stroke-width="0.8"/>
<line x1="295" y1="280.9" x2="510.8" y2="280.9" stroke="#fff" stroke-width="0.8"/>
<line x1="295.5" y1="233.9" x2="510.5" y2="233.9" stroke="#2e3f9e" stroke-width="0.45" opacity="0.75"/>
<path d="M295.5,233.9L295.5,233.9L295.8,233.9L296.2,233.2L296.5,233.9L296.8,233.9L297.1,233.9L297.5,233.9L297.8,233.9L298.1,233.7L298.5,232.8L298.8,231.6L299.1,232.0L299.5,233.3L299.8,233.8L300.1,233.9L300.4,233.9L300.8,233.9L301.1,233.9L301.4,233.9L301.8,233.9L302.1,233.9L302.4,233.9L302.8,233.9L303.1,233.9L303.4,233.9L303.8,233.9L304.1,233.9L304.4,233.4L304.7,233.9L305.1,233.9L305.4,233.9L305.7,233.9L306.1,233.7L306.4,233.9L306.7,233.9L307.1,233.9L307.4,233.9L307.7,233.9L308.0,233.9L308.4,233.9L308.7,233.9L309.0,233.9L309.4,233.9L309.7,233.9L310.0,233.9L310.4,232.7L310.7,233.9L311.0,233.9L311.3,233.9L311.7,233.9L312.0,233.9L312.3,233.9L312.7,233.9L313.0,233.9L313.3,233.6L313.6,233.3L314.0,233.7L314.3,233.9L314.6,233.9L315.0,233.9L315.3,233.9L315.6,233.9L316.0,233.9L316.3,233.9L316.6,233.6L316.9,233.0L317.3,233.5L317.6,233.9L317.9,233.9L318.3,233.9L318.6,233.9L318.9,233.9L319.3,233.9L319.6,233.9L319.9,233.9L320.2,233.9L320.6,233.9L320.9,233.9L321.2,233.6L321.6,233.4L321.9,233.9L322.2,233.9L322.6,233.9L322.9,233.9L323.2,233.5L323.6,232.9L323.9,233.9L324.2,233.9L324.5,233.9L324.9,233.9L325.2,232.8L325.5,233.9L325.9,232.8L326.2,233.9L326.5,233.9L326.9,233.9L327.2,233.9L327.5,233.5L327.8,233.8L328.2,233.8L328.5,233.8L328.8,233.9L329.2,233.9L329.5,233.9L329.8,233.9L330.1,233.9L330.5,233.9L330.8,233.9L331.1,233.5L331.5,233.9L331.8,233.9L332.1,233.9L332.5,233.9L332.8,233.9L333.1,233.8L333.4,233.9L333.8,233.8L334.1,233.8L334.4,233.7L334.8,233.2L335.1,233.2L335.4,233.2L335.8,233.4L336.1,233.7L336.4,233.8L336.8,233.9L337.1,233.9L337.4,233.8L337.7,233.9L338.1,233.9L338.4,233.5L338.7,233.9L339.1,233.9L339.4,233.7L339.7,233.5L340.1,233.5L340.4,233.6L340.7,233.8L341.0,233.9L341.4,233.9L341.7,233.9L342.0,233.9L342.4,233.9L342.7,233.7L343.0,233.1L343.4,233.9L343.7,232.7L344.0,233.9L344.3,233.9L344.7,233.9L345.0,233.9L345.3,233.9L345.7,233.5L346.0,233.9L346.3,233.0L346.6,233.8L347.0,233.6L347.3,232.9L347.6,232.4L348.0,232.8L348.3,233.4L348.6,233.1L349.0,233.9L349.3,233.9L349.6,233.9L349.9,233.9L350.3,233.9L350.6,233.9L350.9,233.9L351.3,233.9L351.6,233.9L351.9,233.9L352.3,232.9L352.6,233.8L352.9,233.6L353.2,233.4L353.6,233.5L353.9,233.3L354.2,233.9L354.6,233.9L354.9,233.8L355.2,233.2L355.6,233.9L355.9,233.3L356.2,233.9L356.6,233.9L356.9,233.3L357.2,233.9L357.5,233.9L357.9,233.9L358.2,233.9L358.5,233.9L358.9,233.9L359.2,233.9L359.5,233.9L359.9,233.9L360.2,233.9L360.5,233.9L360.8,233.9L361.2,233.9L361.5,233.2L361.8,233.4L362.2,233.9L362.5,233.9L362.8,233.9L363.1,233.9L363.5,233.9L363.8,233.9L364.1,233.9L364.5,233.9L364.8,232.7L365.1,233.4L365.5,233.9L365.8,233.9L366.1,233.9L366.4,233.9L366.8,233.9L367.1,233.8L367.4,233.9L367.8,233.9L368.1,233.9L368.4,233.7L368.8,233.2L369.1,232.6L369.4,232.4L369.8,232.8L370.1,233.4L370.4,233.8L370.7,233.9L371.1,233.9L371.4,233.9L371.7,233.9L372.1,233.7L372.4,233.0L372.7,231.8L373.1,231.3L373.4,232.3L373.7,233.4L374.0,233.7L374.4,233.4L374.7,233.1L375.0,233.1L375.4,233.3L375.7,233.6L376.0,233.8L376.4,233.9L376.7,233.7L377.0,233.4L377.3,232.6L377.7,232.3L378.0,232.9L378.3,233.6L378.7,233.8L379.0,233.9L379.3,233.9L379.6,233.2L380.0,233.9L380.3,233.8L380.6,233.7L381.0,233.9L381.3,233.9L381.6,233.9L382.0,233.8L382.3,233.5L382.6,233.9L382.9,233.7L383.3,233.9L383.6,233.9L383.9,233.9L384.3,233.8L384.6,233.9L384.9,233.9L385.3,233.9L385.6,233.9L385.9,233.9L386.2,233.9L386.6,233.9L386.9,232.7L387.2,233.7L387.6,233.0L387.9,232.9L388.2,233.1L388.6,233.5L388.9,233.8L389.2,233.9L389.6,233.9L389.9,233.9L390.2,233.9L390.5,233.9L390.9,233.9L391.2,233.9L391.5,233.9L391.9,233.9L392.2,233.9L392.5,233.9L392.9,233.9L393.2,233.9L393.5,233.9L393.8,233.9L394.2,233.9L394.5,233.9L394.8,233.9L395.2,233.9L395.5,233.9L395.8,233.9L396.1,232.8L396.5,233.9L396.8,233.5L397.1,233.9L397.5,233.9L397.8,233.9L398.1,233.9L398.5,233.9L398.8,233.9L399.1,233.9L399.4,233.9L399.8,233.9L400.1,233.9L400.4,233.9L400.8,233.9L401.1,233.9L401.4,233.8L401.8,233.1L402.1,233.9L402.4,233.8L402.8,233.9L403.1,233.9L403.4,233.5L403.7,233.9L404.1,233.9L404.4,233.9L404.7,233.9L405.1,233.9L405.4,233.7L405.7,233.4L406.1,233.2L406.4,233.5L406.7,233.8L407.0,233.9L407.4,233.9L407.7,233.9L408.0,233.8L408.4,233.7L408.7,233.8L409.0,233.9L409.4,233.9L409.7,233.9L410.0,233.9L410.3,233.9L410.7,232.7L411.0,233.9L411.3,233.9L411.7,233.9L412.0,232.8L412.3,233.7L412.6,233.5L413.0,233.9L413.3,233.9L413.6,233.9L414.0,233.5L414.3,233.9L414.6,233.9L415.0,232.6L415.3,232.7L415.6,233.9L415.9,233.9L416.3,233.9L416.6,233.7L416.9,232.5L417.3,229.4L417.6,226.4L417.9,225.9L418.3,230.5L418.6,233.3L418.9,233.2L419.2,232.4L419.6,231.7L419.9,231.4L420.2,231.4L420.6,231.8L420.9,232.8L421.2,233.5L421.6,233.8L421.9,233.6L422.2,233.9L422.6,233.9L422.9,233.9L423.2,233.9L423.5,233.9L423.9,233.9L424.2,233.9L424.5,233.9L424.9,233.9L425.2,233.9L425.5,233.9L425.9,233.6L426.2,233.3L426.5,233.6L426.8,233.6L427.2,233.9L427.5,233.2L427.8,233.9L428.2,233.9L428.5,233.9L428.8,233.9L429.1,233.9L429.5,233.9L429.8,233.9L430.1,233.9L430.5,233.9L430.8,233.9L431.1,233.9L431.5,233.9L431.8,233.9L432.1,233.9L432.5,233.9L432.8,233.5L433.1,232.4L433.4,229.5L433.8,228.4L434.1,229.8L434.4,231.9L434.8,232.9L435.1,232.2L435.4,232.1L435.8,232.2L436.1,232.5L436.4,233.0L436.7,233.5L437.1,233.4L437.4,233.8L437.7,233.9L438.1,233.8L438.4,233.9L438.7,233.9L439.1,233.9L439.4,233.9L439.7,233.9L440.0,233.6L440.4,233.9L440.7,233.9L441.0,233.9L441.4,233.9L441.7,232.8L442.0,233.9L442.4,233.9L442.7,233.9L443.0,233.9L443.3,233.9L443.7,233.9L444.0,233.3L444.3,233.8L444.7,233.8L445.0,233.8L445.3,233.7L445.6,233.4L446.0,233.0L446.3,232.2L446.6,232.0L447.0,232.3L447.3,232.4L447.6,231.8L448.0,230.8L448.3,230.6L448.6,231.3L449.0,232.8L449.3,233.5L449.6,233.8L449.9,233.9L450.3,233.8L450.6,233.9L450.9,233.9L451.3,233.8L451.6,233.9L451.9,233.0L452.2,233.9L452.6,233.9L452.9,233.9L453.2,233.9L453.6,233.9L453.9,232.8L454.2,233.9L454.6,233.9L454.9,233.4L455.2,233.9L455.6,233.9L455.9,233.9L456.2,233.9L456.5,233.2L456.9,233.9L457.2,233.9L457.5,233.9L457.9,233.9L458.2,233.9L458.5,233.9L458.9,232.6L459.2,233.9L459.5,233.4L459.8,233.9L460.2,233.9L460.5,233.9L460.8,233.9L461.2,233.9L461.5,233.9L461.8,233.8L462.1,233.4L462.5,233.0L462.8,232.2L463.1,231.8L463.5,232.7L463.8,233.4L464.1,233.8L464.5,233.6L464.8,233.9L465.1,233.9L465.5,233.9L465.8,233.9L466.1,233.9L466.4,233.9L466.8,233.9L467.1,233.9L467.4,233.9L467.8,233.9L468.1,233.9L468.4,233.9L468.8,233.9L469.1,233.9L469.4,233.7L469.7,233.9L470.1,233.9L470.4,233.9L470.7,233.9L471.1,233.9L471.4,233.9L471.7,233.9L472.1,233.9L472.4,233.9L472.7,233.9L473.0,233.9L473.4,233.9L473.7,233.9L474.0,233.9L474.4,233.9L474.7,233.9L475.0,233.9L475.4,233.9L475.7,233.9L476.0,233.2L476.3,233.9L476.7,233.9L477.0,233.4L477.3,233.7L477.7,233.9L478.0,233.9L478.3,233.9L478.6,233.9L479.0,233.8L479.3,233.6L479.6,233.6L480.0,233.8L480.3,233.9L480.6,233.9L481.0,233.9L481.3,233.9L481.6,233.8L482.0,233.4L482.3,232.8L482.6,232.5L482.9,232.9L483.3,233.5L483.6,233.8L483.9,233.3L484.3,232.9L484.6,233.2L484.9,233.7L485.2,233.9L485.6,233.9L485.9,233.9L486.2,233.9L486.6,233.9L486.9,233.9L487.2,233.9L487.6,233.9L487.9,233.9L488.2,233.9L488.6,233.8L488.9,233.9L489.2,233.9L489.5,233.9L489.9,233.9L490.2,233.9L490.5,233.7L490.9,233.0L491.2,233.1L491.5,233.7L491.9,233.9L492.2,233.8L492.5,233.9L492.8,233.9L493.2,233.9L493.5,233.9L493.8,233.9L494.2,233.9L494.5,233.6L494.8,233.3L495.1,232.9L495.5,233.8L495.8,233.9L496.1,233.3L496.5,233.9L496.8,233.9L497.1,233.9L497.5,233.9L497.8,233.9L498.1,233.8L498.5,233.9L498.8,233.9L499.1,233.9L499.4,233.9L499.8,233.9L500.1,233.9L500.4,233.9L500.8,233.9L501.1,233.9L501.4,233.6L501.8,233.5L502.1,233.9L502.4,233.1L502.7,233.9L503.1,233.6L503.4,233.9L503.7,233.9L504.1,233.9L504.4,233.9L504.7,233.9L505.1,233.9L505.4,233.9L505.7,233.9L506.0,233.9L506.4,233.9L506.7,233.9L507.0,233.9L507.4,233.9L507.7,233.9L508.0,233.9L508.4,233.2L508.7,233.8L509.0,232.9L509.3,231.9L509.7,233.1L510.0,233.9L510.3,233.9L510.5,233.9Z" fill="#2e3f9e"/>
<line x1="295.5" y1="249.3" x2="510.5" y2="249.3" stroke="#2e3f9e" stroke-width="0.45" opacity="0.75"/>
<path d="M295.5,249.3L295.5,249.3L295.8,249.3L296.2,249.3L296.5,249.3L296.8,249.3L297.1,249.3L297.5,248.5L297.8,249.3L298.1,248.8L298.5,249.3L298.8,249.3L299.1,249.3L299.5,249.3L299.8,249.3L300.1,249.3L300.4,249.3L300.8,249.3L301.1,249.3L301.4,249.3L301.8,249.3L302.1,249.3L302.4,249.3L302.8,249.3L303.1,249.3L303.4,249.3L303.8,249.3L304.1,249.3L304.4,249.3L304.7,249.3L305.1,248.5L305.4,249.3L305.7,249.3L306.1,249.3L306.4,249.3L306.7,249.3L307.1,249.3L307.4,249.3L307.7,249.3L308.0,249.0L308.4,249.3L308.7,249.3L309.0,249.3L309.4,249.3L309.7,249.3L310.0,249.3L310.4,249.3L310.7,248.9L311.0,247.5L311.3,247.0L311.7,248.6L312.0,249.2L312.3,249.3L312.7,249.2L313.0,249.3L313.3,249.3L313.6,249.3L314.0,249.0L314.3,249.3L314.6,249.3L315.0,249.3L315.3,249.3L315.6,249.3L316.0,249.3L316.3,249.3L316.6,249.3L316.9,249.3L317.3,249.3L317.6,249.3L317.9,249.2L318.3,249.3L318.6,249.3L318.9,249.3L319.3,249.3L319.6,249.3L319.9,249.3L320.2,249.3L320.6,249.2L320.9,249.1L321.2,249.0L321.6,249.0L321.9,248.5L322.2,249.3L322.6,249.3L322.9,249.3L323.2,249.3L323.6,249.3L323.9,249.3L324.2,249.3L324.5,249.0L324.9,249.3L325.2,249.3L325.5,249.2L325.9,249.3L326.2,248.7L326.5,249.3L326.9,249.3L327.2,249.3L327.5,249.3L327.8,249.3L328.2,249.3L328.5,249.3L328.8,249.3L329.2,249.3L329.5,249.3L329.8,249.3L330.1,249.3L330.5,249.3L330.8,249.3L331.1,249.3L331.5,249.2L331.8,249.3L332.1,249.3L332.5,249.3L332.8,249.3L333.1,249.3L333.4,249.3L333.8,249.3L334.1,248.9L334.4,249.0L334.8,249.3L335.1,249.3L335.4,249.3L335.8,249.3L336.1,249.3L336.4,249.3L336.8,249.3L337.1,249.3L337.4,248.7L337.7,249.3L338.1,249.3L338.4,249.3L338.7,249.3L339.1,249.2L339.4,248.8L339.7,248.0L340.1,247.7L340.4,248.2L340.7,249.0L341.0,249.2L341.4,249.3L341.7,249.3L342.0,249.3L342.4,249.1L342.7,249.3L343.0,249.3L343.4,249.3L343.7,249.3L344.0,249.3L344.3,249.3L344.7,248.9L345.0,249.3L345.3,249.3L345.7,249.3L346.0,249.3L346.3,249.3L346.6,249.2L347.0,248.9L347.3,248.0L347.6,247.1L348.0,248.0L348.3,248.6L348.6,249.1L349.0,249.3L349.3,249.3L349.6,249.3L349.9,248.7L350.3,249.3L350.6,249.3L350.9,249.3L351.3,249.3L351.6,249.3L351.9,249.3L352.3,249.3L352.6,249.3L352.9,249.3L353.2,249.3L353.6,249.3L353.9,249.3L354.2,249.3L354.6,249.3L354.9,249.3L355.2,249.3L355.6,248.1L355.9,249.3L356.2,249.3L356.6,249.3L356.9,249.3L357.2,249.1L357.5,249.3L357.9,249.3L358.2,249.3L358.5,249.3L358.9,249.0L359.2,249.3L359.5,249.3L359.9,249.3L360.2,249.3L360.5,249.3L360.8,249.3L361.2,249.3L361.5,249.3L361.8,249.3L362.2,249.3L362.5,249.3L362.8,249.3L363.1,249.3L363.5,248.3L363.8,248.7L364.1,249.3L364.5,249.3L364.8,249.3L365.1,249.3L365.5,249.3L365.8,249.3L366.1,249.3L366.4,248.5L366.8,249.3L367.1,249.3L367.4,249.3L367.8,249.3L368.1,249.3L368.4,249.3L368.8,249.3L369.1,249.3L369.4,249.3L369.8,249.3L370.1,249.3L370.4,248.7L370.7,249.3L371.1,249.3L371.4,249.0L371.7,249.3L372.1,249.2L372.4,248.6L372.7,247.8L373.1,247.1L373.4,247.8L373.7,248.8L374.0,249.2L374.4,249.3L374.7,249.3L375.0,249.3L375.4,249.3L375.7,249.3L376.0,249.3L376.4,249.3L376.7,248.4L377.0,248.2L377.3,247.0L377.7,246.9L378.0,247.6L378.3,248.3L378.7,248.7L379.0,249.1L379.3,249.3L379.6,249.3L380.0,249.3L380.3,248.7L380.6,249.3L381.0,249.3L381.3,249.3L381.6,249.3L382.0,248.5L382.3,249.3L382.6,249.3L382.9,249.3L383.3,249.3L383.6,249.2L383.9,248.9L384.3,248.8L384.6,249.2L384.9,249.3L385.3,249.3L385.6,249.3L385.9,249.3L386.2,249.3L386.6,249.3L386.9,248.7L387.2,248.1L387.6,248.7L387.9,248.4L388.2,248.5L388.6,248.9L388.9,248.9L389.2,249.3L389.6,249.3L389.9,248.2L390.2,249.3L390.5,249.3L390.9,249.3L391.2,249.3L391.5,249.3L391.9,249.3L392.2,249.3L392.5,249.3L392.9,248.3L393.2,249.3L393.5,249.3L393.8,249.3L394.2,249.3L394.5,249.3L394.8,249.3L395.2,249.3L395.5,248.2L395.8,249.3L396.1,249.3L396.5,249.3L396.8,248.3L397.1,249.3L397.5,249.3L397.8,249.3L398.1,249.0L398.5,249.3L398.8,249.1L399.1,249.3L399.4,249.0L399.8,249.3L400.1,249.3L400.4,249.3L400.8,248.0L401.1,249.3L401.4,249.3L401.8,249.3L402.1,249.3L402.4,249.3L402.8,249.3L403.1,249.3L403.4,249.3L403.7,249.3L404.1,249.3L404.4,249.3L404.7,249.3L405.1,249.3L405.4,249.1L405.7,248.7L406.1,248.6L406.4,248.9L406.7,248.6L407.0,249.2L407.4,248.2L407.7,249.3L408.0,249.3L408.4,249.3L408.7,249.3L409.0,249.3L409.4,249.3L409.7,249.3L410.0,249.3L410.3,249.3L410.7,249.3L411.0,249.2L411.3,248.7L411.7,247.8L412.0,247.3L412.3,248.0L412.6,248.9L413.0,249.2L413.3,248.9L413.6,249.3L414.0,249.3L414.3,249.3L414.6,249.3L415.0,248.7L415.3,249.3L415.6,249.3L415.9,249.3L416.3,249.3L416.6,249.1L416.9,248.1L417.3,245.0L417.6,239.8L417.9,241.7L418.3,246.1L418.6,248.7L418.9,248.5L419.2,248.1L419.6,246.7L419.9,246.8L420.2,246.9L420.6,247.5L420.9,248.3L421.2,248.8L421.6,248.6L421.9,247.2L422.2,247.8L422.6,248.1L422.9,249.3L423.2,249.3L423.5,248.2L423.9,249.3L424.2,249.3L424.5,249.3L424.9,249.3L425.2,249.3L425.5,249.3L425.9,249.3L426.2,249.3L426.5,249.3L426.8,249.3L427.2,249.3L427.5,249.3L427.8,249.3L428.2,249.3L428.5,249.3L428.8,249.1L429.1,248.6L429.5,249.3L429.8,249.3L430.1,249.3L430.5,249.3L430.8,249.3L431.1,249.2L431.5,248.9L431.8,248.4L432.1,248.0L432.5,247.9L432.8,248.3L433.1,247.7L433.4,244.9L433.8,242.6L434.1,245.4L434.4,247.2L434.8,248.4L435.1,247.7L435.4,247.7L435.8,247.5L436.1,248.0L436.4,248.4L436.7,248.9L437.1,249.1L437.4,249.3L437.7,249.3L438.1,249.3L438.4,249.3L438.7,249.3L439.1,249.3L439.4,249.3L439.7,249.3L440.0,249.3L440.4,249.3L440.7,249.3L441.0,249.3L441.4,248.2L441.7,249.3L442.0,249.3L442.4,249.3L442.7,249.3L443.0,249.3L443.3,249.3L443.7,249.1L444.0,249.3L444.3,249.3L444.7,249.3L445.0,249.2L445.3,249.1L445.6,248.7L446.0,248.3L446.3,248.0L446.6,247.4L447.0,247.6L447.3,248.0L447.6,247.1L448.0,246.4L448.3,245.8L448.6,246.3L449.0,248.1L449.3,249.0L449.6,249.2L449.9,248.2L450.3,249.3L450.6,249.3L450.9,249.3L451.3,249.3L451.6,249.3L451.9,249.3L452.2,249.3L452.6,248.7L452.9,249.3L453.2,249.3L453.6,249.3L453.9,249.3L454.2,248.4L454.6,249.3L454.9,249.3L455.2,249.3L455.6,249.3L455.9,249.3L456.2,249.1L456.5,249.3L456.9,249.3L457.2,249.3L457.5,249.3L457.9,249.3L458.2,249.3L458.5,249.3L458.9,249.2L459.2,249.0L459.5,248.7L459.8,248.5L460.2,248.6L460.5,248.9L460.8,249.1L461.2,248.3L461.5,249.3L461.8,249.1L462.1,248.4L462.5,247.0L462.8,245.6L463.1,245.7L463.5,247.1L463.8,248.3L464.1,249.0L464.5,249.2L464.8,249.3L465.1,249.3L465.5,249.3L465.8,249.3L466.1,249.3L466.4,249.3L466.8,248.3L467.1,249.3L467.4,249.3L467.8,249.2L468.1,248.7L468.4,249.3L468.8,249.3L469.1,249.3L469.4,249.3L469.7,249.3L470.1,249.3L470.4,249.3L470.7,249.3L471.1,249.3L471.4,249.3L471.7,249.3L472.1,249.2L472.4,249.1L472.7,248.3L473.0,248.6L473.4,248.7L473.7,249.0L474.0,249.2L474.4,249.3L474.7,249.3L475.0,249.3L475.4,249.3L475.7,249.3L476.0,249.3L476.3,248.6L476.7,249.3L477.0,249.3L477.3,249.3L477.7,249.3L478.0,249.3L478.3,249.3L478.6,249.3L479.0,249.3L479.3,249.3L479.6,249.2L480.0,248.3L480.3,248.6L480.6,248.7L481.0,249.1L481.3,249.3L481.6,249.3L482.0,249.3L482.3,249.2L482.6,249.2L482.9,249.3L483.3,249.3L483.6,248.8L483.9,249.3L484.3,249.3L484.6,249.3L484.9,249.3L485.2,249.3L485.6,249.3L485.9,248.9L486.2,247.9L486.6,248.6L486.9,249.3L487.2,249.3L487.6,249.3L487.9,249.3L488.2,249.3L488.6,249.3L488.9,249.3L489.2,249.3L489.5,248.8L489.9,249.3L490.2,249.3L490.5,249.2L490.9,248.6L491.2,247.7L491.5,247.7L491.9,248.7L492.2,249.2L492.5,249.3L492.8,249.3L493.2,249.3L493.5,249.3L493.8,249.1L494.2,249.2L494.5,249.3L494.8,249.3L495.1,249.3L495.5,248.5L495.8,248.5L496.1,249.0L496.5,249.3L496.8,249.2L497.1,249.0L497.5,249.1L497.8,249.1L498.1,249.2L498.5,249.3L498.8,249.3L499.1,249.3L499.4,249.2L499.8,249.3L500.1,249.3L500.4,249.3L500.8,249.2L501.1,249.3L501.4,249.3L501.8,248.1L502.1,249.1L502.4,248.6L502.7,248.5L503.1,248.9L503.4,249.2L503.7,249.3L504.1,248.9L504.4,249.3L504.7,249.3L505.1,249.3L505.4,249.2L505.7,249.0L506.0,249.0L506.4,249.1L506.7,249.3L507.0,249.3L507.4,249.3L507.7,249.3L508.0,249.1L508.4,248.8L508.7,248.9L509.0,249.2L509.3,248.6L509.7,249.3L510.0,249.3L510.3,249.3L510.5,249.3Z" fill="#2e3f9e"/>
<line x1="295.5" y1="264.5" x2="510.5" y2="264.5" stroke="#d5211d" stroke-width="0.45" stroke-dasharray="0.8 2.5" opacity="0.45"/>
<path d="M295.5,264.5L295.5,264.5L295.8,264.5L296.2,264.5L296.5,264.5L296.8,264.5L297.1,264.5L297.5,264.5L297.8,264.5L298.1,264.5L298.5,264.5L298.8,264.5L299.1,264.5L299.5,264.5L299.8,263.8L300.1,264.5L300.4,263.8L300.8,264.5L301.1,264.5L301.4,264.5L301.8,264.5L302.1,264.5L302.4,264.5L302.8,264.5L303.1,264.5L303.4,264.5L303.8,264.5L304.1,264.3L304.4,264.5L304.7,264.5L305.1,264.5L305.4,264.5L305.7,264.5L306.1,264.5L306.4,264.5L306.7,264.5L307.1,264.5L307.4,264.5L307.7,264.5L308.0,264.5L308.4,264.5L308.7,264.5L309.0,264.5L309.4,264.5L309.7,264.1L310.0,264.5L310.4,264.5L310.7,264.5L311.0,264.5L311.3,263.9L311.7,264.3L312.0,264.5L312.3,264.5L312.7,264.5L313.0,264.5L313.3,264.5L313.6,264.5L314.0,264.5L314.3,264.5L314.6,264.5L315.0,264.5L315.3,264.5L315.6,264.5L316.0,264.5L316.3,264.5L316.6,264.5L316.9,264.5L317.3,264.5L317.6,264.5L317.9,264.5L318.3,264.5L318.6,264.5L318.9,264.5L319.3,264.5L319.6,264.5L319.9,264.5L320.2,264.5L320.6,264.5L320.9,264.5L321.2,264.5L321.6,264.5L321.9,264.5L322.2,264.5L322.6,264.5L322.9,264.5L323.2,264.5L323.6,264.5L323.9,264.5L324.2,264.5L324.5,264.5L324.9,264.5L325.2,264.5L325.5,264.5L325.9,264.5L326.2,264.5L326.5,264.5L326.9,264.5L327.2,263.5L327.5,264.5L327.8,263.6L328.2,264.5L328.5,264.5L328.8,264.5L329.2,264.5L329.5,264.5L329.8,264.5L330.1,264.5L330.5,264.5L330.8,264.5L331.1,264.5L331.5,264.5L331.8,264.5L332.1,263.7L332.5,264.5L332.8,264.5L333.1,264.5L333.4,264.5L333.8,264.5L334.1,264.5L334.4,264.5L334.8,264.5L335.1,264.5L335.4,264.5L335.8,264.5L336.1,264.5L336.4,264.5L336.8,264.4L337.1,264.5L337.4,264.5L337.7,264.5L338.1,264.4L338.4,264.2L338.7,263.7L339.1,263.1L339.4,262.9L339.7,263.0L340.1,263.2L340.4,263.4L340.7,264.2L341.0,263.7L341.4,263.6L341.7,264.1L342.0,264.4L342.4,264.5L342.7,264.5L343.0,264.5L343.4,264.5L343.7,264.5L344.0,264.5L344.3,264.5L344.7,264.5L345.0,264.5L345.3,264.5L345.7,264.5L346.0,264.4L346.3,264.4L346.6,264.3L347.0,263.7L347.3,262.2L347.6,261.4L348.0,261.9L348.3,263.2L348.6,264.2L349.0,264.5L349.3,264.5L349.6,264.5L349.9,264.5L350.3,264.5L350.6,264.5L350.9,264.5L351.3,264.5L351.6,264.5L351.9,264.2L352.3,264.5L352.6,264.5L352.9,264.5L353.2,264.5L353.6,264.3L353.9,264.1L354.2,264.2L354.6,264.4L354.9,264.5L355.2,264.5L355.6,264.5L355.9,264.5L356.2,264.5L356.6,264.5L356.9,263.6L357.2,264.5L357.5,264.5L357.9,264.5L358.2,264.5L358.5,264.5L358.9,264.5L359.2,264.5L359.5,264.5L359.9,264.5L360.2,264.5L360.5,264.5L360.8,264.5L361.2,264.5L361.5,264.5L361.8,264.5L362.2,264.5L362.5,264.1L362.8,264.5L363.1,264.5L363.5,264.5L363.8,264.5L364.1,264.5L364.5,264.5L364.8,264.5L365.1,264.5L365.5,264.5L365.8,264.5L366.1,264.5L366.4,264.5L366.8,264.5L367.1,264.5L367.4,264.5L367.8,264.5L368.1,264.5L368.4,264.4L368.8,264.5L369.1,264.5L369.4,264.5L369.8,264.5L370.1,264.5L370.4,264.5L370.7,264.5L371.1,264.5L371.4,264.5L371.7,264.5L372.1,264.3L372.4,263.5L372.7,262.6L373.1,262.4L373.4,263.0L373.7,263.9L374.0,264.4L374.4,264.5L374.7,264.5L375.0,264.5L375.4,264.5L375.7,264.5L376.0,264.5L376.4,264.4L376.7,264.0L377.0,262.5L377.3,260.2L377.7,260.6L378.0,261.1L378.3,263.5L378.7,264.3L379.0,264.5L379.3,264.5L379.6,264.5L380.0,264.5L380.3,264.5L380.6,264.5L381.0,264.5L381.3,264.5L381.6,264.5L382.0,264.5L382.3,264.5L382.6,264.5L382.9,264.5L383.3,264.5L383.6,264.5L383.9,264.5L384.3,264.5L384.6,264.5L384.9,264.3L385.3,264.5L385.6,264.5L385.9,264.5L386.2,264.5L386.6,263.9L386.9,264.4L387.2,264.0L387.6,263.2L387.9,262.2L388.2,262.6L388.6,263.4L388.9,264.2L389.2,264.5L389.6,264.5L389.9,264.5L390.2,264.5L390.5,264.5L390.9,264.5L391.2,264.5L391.5,264.5L391.9,264.5L392.2,264.3L392.5,264.2L392.9,264.2L393.2,264.2L393.5,263.8L393.8,263.9L394.2,264.3L394.5,264.5L394.8,264.5L395.2,263.9L395.5,264.4L395.8,264.5L396.1,264.5L396.5,264.5L396.8,264.5L397.1,264.5L397.5,264.5L397.8,264.5L398.1,264.5L398.5,264.5L398.8,263.6L399.1,264.5L399.4,264.5L399.8,264.5L400.1,264.5L400.4,264.5L400.8,264.5L401.1,264.5L401.4,264.5L401.8,264.5L402.1,264.4L402.4,264.4L402.8,264.4L403.1,264.3L403.4,264.0L403.7,263.7L404.1,263.8L404.4,264.1L404.7,264.4L405.1,264.4L405.4,264.2L405.7,263.2L406.1,262.6L406.4,263.4L406.7,264.2L407.0,264.5L407.4,264.5L407.7,264.5L408.0,264.5L408.4,264.5L408.7,264.5L409.0,264.1L409.4,264.5L409.7,264.5L410.0,264.5L410.3,264.0L410.7,264.5L411.0,264.5L411.3,264.5L411.7,264.5L412.0,264.5L412.3,264.5L412.6,264.5L413.0,264.5L413.3,264.5L413.6,263.7L414.0,264.5L414.3,264.5L414.6,264.5L415.0,264.2L415.3,263.9L415.6,264.3L415.9,264.5L416.3,264.5L416.6,264.3L416.9,263.0L417.3,259.1L417.6,252.7L417.9,254.0L418.3,259.8L418.6,263.6L418.9,263.6L419.2,262.8L419.6,261.0L419.9,260.5L420.2,261.1L420.6,262.3L420.9,263.0L421.2,263.9L421.6,264.3L421.9,264.5L422.2,264.5L422.6,264.5L422.9,264.5L423.2,264.5L423.5,264.5L423.9,264.5L424.2,264.5L424.5,264.5L424.9,264.5L425.2,264.5L425.5,264.5L425.9,264.5L426.2,264.5L426.5,264.4L426.8,264.2L427.2,264.0L427.5,263.9L427.8,264.0L428.2,263.6L428.5,264.4L428.8,264.5L429.1,264.5L429.5,264.5L429.8,264.5L430.1,264.5L430.5,264.5L430.8,264.5L431.1,264.5L431.5,264.5L431.8,264.5L432.1,264.5L432.5,263.6L432.8,264.1L433.1,261.9L433.4,259.0L433.8,257.1L434.1,256.7L434.4,261.8L434.8,262.6L435.1,262.2L435.4,262.0L435.8,261.9L436.1,262.7L436.4,263.3L436.7,263.9L437.1,264.2L437.4,264.4L437.7,264.5L438.1,264.5L438.4,264.5L438.7,264.5L439.1,264.5L439.4,264.5L439.7,264.5L440.0,264.5L440.4,264.5L440.7,264.5L441.0,264.5L441.4,264.5L441.7,264.5L442.0,264.5L442.4,264.5L442.7,264.5L443.0,264.5L443.3,264.5L443.7,264.5L444.0,264.5L444.3,264.5L444.7,264.5L445.0,264.3L445.3,264.0L445.6,263.6L446.0,262.4L446.3,261.3L446.6,260.7L447.0,261.2L447.3,261.4L447.6,260.3L448.0,256.9L448.3,256.8L448.6,259.0L449.0,261.6L449.3,263.8L449.6,264.4L449.9,264.5L450.3,264.5L450.6,264.5L450.9,264.5L451.3,264.5L451.6,264.5L451.9,264.5L452.2,264.5L452.6,264.5L452.9,264.4L453.2,264.2L453.6,264.4L453.9,264.5L454.2,264.5L454.6,264.5L454.9,264.5L455.2,264.5L455.6,264.5L455.9,264.5L456.2,264.5L456.5,264.5L456.9,264.5L457.2,264.5L457.5,264.5L457.9,264.5L458.2,264.5L458.5,264.5L458.9,264.5L459.2,264.5L459.5,264.5L459.8,264.2L460.2,264.0L460.5,263.4L460.8,263.1L461.2,263.6L461.5,264.2L461.8,264.2L462.1,263.2L462.5,261.4L462.8,259.4L463.1,258.7L463.5,260.5L463.8,263.0L464.1,264.1L464.5,264.4L464.8,264.5L465.1,264.5L465.5,264.5L465.8,264.5L466.1,264.5L466.4,264.5L466.8,264.4L467.1,264.5L467.4,264.5L467.8,264.5L468.1,264.5L468.4,264.4L468.8,264.4L469.1,264.4L469.4,264.4L469.7,264.5L470.1,264.5L470.4,264.5L470.7,264.5L471.1,264.5L471.4,264.5L471.7,264.5L472.1,264.5L472.4,264.5L472.7,264.5L473.0,264.5L473.4,264.5L473.7,264.5L474.0,264.5L474.4,264.5L474.7,264.5L475.0,264.5L475.4,264.5L475.7,264.5L476.0,264.5L476.3,264.5L476.7,264.5L477.0,264.5L477.3,264.5L477.7,264.5L478.0,264.5L478.3,264.5L478.6,264.5L479.0,264.5L479.3,264.5L479.6,264.5L480.0,264.5L480.3,264.5L480.6,264.5L481.0,264.3L481.3,263.8L481.6,263.8L482.0,264.3L482.3,264.5L482.6,264.5L482.9,264.5L483.3,264.5L483.6,264.5L483.9,264.5L484.3,264.5L484.6,264.5L484.9,264.5L485.2,264.2L485.6,264.5L485.9,264.5L486.2,264.5L486.6,264.5L486.9,264.5L487.2,264.5L487.6,264.5L487.9,264.5L488.2,264.0L488.6,264.5L488.9,264.5L489.2,264.5L489.5,264.5L489.9,264.5L490.2,264.5L490.5,264.0L490.9,264.5L491.2,264.5L491.5,264.5L491.9,264.5L492.2,264.5L492.5,264.5L492.8,264.5L493.2,264.5L493.5,264.5L493.8,264.5L494.2,264.5L494.5,264.5L494.8,264.5L495.1,264.5L495.5,264.5L495.8,264.5L496.1,263.9L496.5,264.5L496.8,264.5L497.1,264.5L497.5,264.5L497.8,264.5L498.1,264.5L498.5,264.5L498.8,264.2L499.1,264.5L499.4,264.5L499.8,264.5L500.1,264.5L500.4,264.5L500.8,264.5L501.1,264.5L501.4,264.5L501.8,264.5L502.1,264.0L502.4,264.5L502.7,264.5L503.1,264.5L503.4,264.5L503.7,264.5L504.1,264.4L504.4,264.5L504.7,264.5L505.1,264.5L505.4,264.5L505.7,264.5L506.0,264.5L506.4,264.5L506.7,264.5L507.0,264.5L507.4,264.5L507.7,264.5L508.0,264.5L508.4,264.5L508.7,264.5L509.0,264.5L509.3,264.5L509.7,264.5L510.0,264.5L510.3,264.5L510.5,264.5Z" fill="#d5211d"/>
<line x1="295.5" y1="279.8" x2="510.5" y2="279.8" stroke="#d5211d" stroke-width="0.45" stroke-dasharray="0.8 2.5" opacity="0.45"/>
<path d="M295.5,279.8L295.5,279.8L295.8,279.8L296.2,279.7L296.5,279.7L296.8,279.7L297.1,279.7L297.5,279.8L297.8,279.8L298.1,279.8L298.5,279.8L298.8,279.7L299.1,279.4L299.5,279.0L299.8,278.8L300.1,278.9L300.4,279.3L300.8,279.6L301.1,279.7L301.4,279.5L301.8,279.3L302.1,279.3L302.4,279.2L302.8,278.9L303.1,278.8L303.4,279.1L303.8,279.5L304.1,279.7L304.4,278.7L304.7,279.8L305.1,279.8L305.4,279.8L305.7,279.8L306.1,279.8L306.4,279.8L306.7,279.7L307.1,279.5L307.4,278.8L307.7,278.2L308.0,278.6L308.4,279.3L308.7,279.7L309.0,278.9L309.4,279.8L309.7,279.8L310.0,279.8L310.4,279.8L310.7,279.8L311.0,279.8L311.3,279.6L311.7,279.8L312.0,279.8L312.3,279.8L312.7,279.8L313.0,279.8L313.3,279.8L313.6,279.8L314.0,279.8L314.3,279.8L314.6,279.8L315.0,279.8L315.3,279.8L315.6,279.8L316.0,279.8L316.3,279.7L316.6,279.4L316.9,278.7L317.3,278.5L317.6,279.1L317.9,279.7L318.3,279.5L318.6,279.1L318.9,279.1L319.3,279.5L319.6,279.8L319.9,279.8L320.2,279.8L320.6,279.8L320.9,279.8L321.2,279.8L321.6,279.8L321.9,279.8L322.2,279.8L322.6,279.5L322.9,279.8L323.2,279.8L323.6,279.8L323.9,279.8L324.2,279.8L324.5,279.8L324.9,279.8L325.2,279.8L325.5,279.8L325.9,279.8L326.2,279.8L326.5,279.8L326.9,279.8L327.2,279.8L327.5,279.7L327.8,279.7L328.2,279.8L328.5,279.8L328.8,279.8L329.2,279.8L329.5,279.8L329.8,279.8L330.1,279.8L330.5,279.8L330.8,279.8L331.1,279.8L331.5,279.6L331.8,279.2L332.1,278.6L332.5,278.1L332.8,278.3L333.1,279.0L333.4,279.5L333.8,279.7L334.1,279.8L334.4,278.8L334.8,279.8L335.1,279.8L335.4,279.8L335.8,279.8L336.1,279.8L336.4,279.8L336.8,279.8L337.1,279.8L337.4,279.8L337.7,279.8L338.1,279.8L338.4,279.8L338.7,279.8L339.1,279.7L339.4,279.5L339.7,279.1L340.1,278.8L340.4,279.1L340.7,279.5L341.0,279.8L341.4,279.8L341.7,279.8L342.0,279.8L342.4,279.8L342.7,279.8L343.0,279.8L343.4,279.8L343.7,279.8L344.0,279.8L344.3,279.8L344.7,279.8L345.0,279.8L345.3,279.8L345.7,279.8L346.0,279.8L346.3,279.8L346.6,279.6L347.0,278.4L347.3,276.3L347.6,275.6L348.0,275.3L348.3,278.1L348.6,279.4L349.0,279.5L349.3,279.8L349.6,279.8L349.9,279.8L350.3,279.8L350.6,279.7L350.9,279.8L351.3,279.8L351.6,279.8L351.9,279.8L352.3,279.8L352.6,279.8L352.9,279.8L353.2,279.8L353.6,279.7L353.9,279.8L354.2,279.8L354.6,279.8L354.9,279.8L355.2,279.8L355.6,279.8L355.9,279.8L356.2,279.8L356.6,279.8L356.9,279.8L357.2,279.8L357.5,279.8L357.9,279.8L358.2,279.8L358.5,279.8L358.9,279.8L359.2,279.8L359.5,279.8L359.9,279.8L360.2,279.8L360.5,279.7L360.8,279.7L361.2,279.7L361.5,279.8L361.8,279.8L362.2,279.8L362.5,279.7L362.8,279.8L363.1,279.8L363.5,279.8L363.8,279.8L364.1,279.8L364.5,279.8L364.8,279.8L365.1,279.8L365.5,279.8L365.8,279.7L366.1,279.6L366.4,279.2L366.8,278.9L367.1,278.9L367.4,279.2L367.8,279.5L368.1,279.7L368.4,279.8L368.8,279.8L369.1,279.8L369.4,279.8L369.8,279.8L370.1,279.8L370.4,279.8L370.7,279.8L371.1,279.8L371.4,279.8L371.7,279.8L372.1,279.7L372.4,279.2L372.7,278.3L373.1,278.0L373.4,278.5L373.7,279.3L374.0,279.7L374.4,279.8L374.7,279.8L375.0,279.8L375.4,279.8L375.7,279.8L376.0,279.8L376.4,279.8L376.7,279.6L377.0,279.0L377.3,277.6L377.7,277.7L378.0,278.4L378.3,279.2L378.7,279.7L379.0,279.8L379.3,279.8L379.6,279.8L380.0,279.8L380.3,279.8L380.6,279.8L381.0,279.8L381.3,279.8L381.6,279.8L382.0,279.8L382.3,279.8L382.6,279.1L382.9,279.5L383.3,279.8L383.6,279.8L383.9,279.8L384.3,279.8L384.6,279.8L384.9,279.8L385.3,279.8L385.6,279.8L385.9,279.8L386.2,279.8L386.6,279.8L386.9,279.7L387.2,279.5L387.6,279.1L387.9,278.3L388.2,278.5L388.6,279.2L388.9,279.6L389.2,279.8L389.6,279.8L389.9,279.8L390.2,279.8L390.5,279.8L390.9,279.8L391.2,279.8L391.5,279.8L391.9,279.8L392.2,279.7L392.5,279.5L392.9,278.8L393.2,278.0L393.5,278.0L393.8,278.8L394.2,279.5L394.5,279.7L394.8,279.8L395.2,279.8L395.5,279.8L395.8,279.8L396.1,279.8L396.5,279.8L396.8,279.8L397.1,279.8L397.5,279.8L397.8,279.2L398.1,279.8L398.5,279.8L398.8,279.8L399.1,279.8L399.4,279.8L399.8,279.8L400.1,279.8L400.4,279.8L400.8,279.8L401.1,279.8L401.4,279.8L401.8,279.8L402.1,279.8L402.4,279.8L402.8,279.8L403.1,279.8L403.4,279.8L403.7,279.8L404.1,279.8L404.4,279.8L404.7,279.8L405.1,279.7L405.4,279.4L405.7,278.7L406.1,278.1L406.4,278.7L406.7,279.6L407.0,279.8L407.4,279.8L407.7,279.8L408.0,279.8L408.4,279.8L408.7,279.8L409.0,279.8L409.4,279.8L409.7,279.8L410.0,279.6L410.3,279.5L410.7,279.3L411.0,279.4L411.3,279.6L411.7,279.7L412.0,279.8L412.3,279.8L412.6,279.8L413.0,279.8L413.3,279.8L413.6,279.8L414.0,279.8L414.3,279.7L414.6,279.8L415.0,279.8L415.3,279.8L415.6,279.8L415.9,279.8L416.3,279.8L416.6,279.6L416.9,278.4L417.3,273.9L417.6,269.9L417.9,273.1L418.3,276.5L418.6,279.1L418.9,278.9L419.2,278.2L419.6,276.6L419.9,276.4L420.2,276.5L420.6,277.5L420.9,278.3L421.2,279.2L421.6,279.6L421.9,279.8L422.2,279.8L422.6,279.8L422.9,279.8L423.2,279.8L423.5,279.8L423.9,279.8L424.2,279.8L424.5,278.8L424.9,279.8L425.2,279.4L425.5,279.8L425.9,279.8L426.2,279.8L426.5,279.8L426.8,279.8L427.2,279.8L427.5,279.8L427.8,279.8L428.2,279.8L428.5,279.8L428.8,279.8L429.1,279.8L429.5,279.8L429.8,279.8L430.1,279.8L430.5,279.8L430.8,279.8L431.1,279.8L431.5,279.8L431.8,279.8L432.1,279.8L432.5,279.7L432.8,279.3L433.1,277.6L433.4,273.6L433.8,270.8L434.1,272.5L434.4,277.0L434.8,278.2L435.1,277.5L435.4,277.3L435.8,277.0L436.1,277.6L436.4,278.7L436.7,279.3L437.1,279.6L437.4,279.7L437.7,279.8L438.1,279.8L438.4,279.8L438.7,279.8L439.1,279.8L439.4,279.8L439.7,279.8L440.0,279.8L440.4,279.8L440.7,279.8L441.0,279.8L441.4,279.8L441.7,279.8L442.0,279.8L442.4,279.8L442.7,279.8L443.0,279.8L443.3,279.8L443.7,279.8L444.0,279.8L444.3,279.8L444.7,279.8L445.0,279.7L445.3,279.5L445.6,279.0L446.0,278.3L446.3,277.5L446.6,276.8L447.0,277.2L447.3,277.5L447.6,277.0L448.0,274.6L448.3,273.8L448.6,274.9L449.0,278.0L449.3,278.8L449.6,278.2L449.9,278.0L450.3,278.3L450.6,279.0L450.9,279.5L451.3,279.7L451.6,279.8L451.9,279.8L452.2,279.8L452.6,279.8L452.9,279.8L453.2,279.8L453.6,279.0L453.9,279.8L454.2,279.8L454.6,279.8L454.9,279.8L455.2,279.8L455.6,279.8L455.9,279.8L456.2,279.8L456.5,279.8L456.9,279.8L457.2,279.8L457.5,279.8L457.9,279.3L458.2,279.8L458.5,279.8L458.9,279.8L459.2,279.8L459.5,279.8L459.8,279.8L460.2,279.8L460.5,279.1L460.8,279.8L461.2,279.7L461.5,279.7L461.8,279.5L462.1,278.4L462.5,276.9L462.8,274.3L463.1,275.4L463.5,276.6L463.8,278.2L464.1,279.4L464.5,279.7L464.8,279.8L465.1,279.8L465.5,279.8L465.8,279.8L466.1,279.8L466.4,279.8L466.8,279.8L467.1,279.8L467.4,279.8L467.8,278.9L468.1,279.8L468.4,279.8L468.8,279.7L469.1,279.5L469.4,279.5L469.7,279.6L470.1,279.7L470.4,279.8L470.7,279.8L471.1,279.8L471.4,279.8L471.7,279.8L472.1,279.8L472.4,279.2L472.7,279.8L473.0,279.8L473.4,279.8L473.7,279.8L474.0,279.8L474.4,279.8L474.7,279.8L475.0,279.8L475.4,279.8L475.7,279.8L476.0,279.8L476.3,279.8L476.7,279.8L477.0,279.8L477.3,279.8L477.7,279.8L478.0,279.8L478.3,279.1L478.6,279.8L479.0,279.8L479.3,279.8L479.6,279.8L480.0,278.8L480.3,279.8L480.6,279.8L481.0,279.8L481.3,279.8L481.6,279.8L482.0,279.8L482.3,279.8L482.6,279.8L482.9,279.8L483.3,279.8L483.6,279.8L483.9,279.8L484.3,279.8L484.6,279.8L484.9,279.8L485.2,279.8L485.6,279.8L485.9,279.8L486.2,279.8L486.6,279.8L486.9,279.8L487.2,279.6L487.6,279.2L487.9,278.5L488.2,277.9L488.6,278.0L488.9,278.7L489.2,279.4L489.5,279.7L489.9,279.8L490.2,279.8L490.5,279.8L490.9,279.8L491.2,279.8L491.5,279.8L491.9,279.8L492.2,279.8L492.5,279.8L492.8,279.8L493.2,279.8L493.5,279.8L493.8,279.8L494.2,279.8L494.5,279.8L494.8,279.8L495.1,279.8L495.5,279.8L495.8,279.8L496.1,279.0L496.5,279.8L496.8,279.8L497.1,279.8L497.5,279.5L497.8,279.2L498.1,279.2L498.5,279.6L498.8,279.8L499.1,279.8L499.4,278.9L499.8,279.8L500.1,279.8L500.4,279.5L500.8,279.8L501.1,279.8L501.4,279.8L501.8,279.8L502.1,279.8L502.4,279.8L502.7,279.8L503.1,279.8L503.4,279.8L503.7,279.8L504.1,279.8L504.4,279.8L504.7,279.8L505.1,279.8L505.4,279.2L505.7,279.8L506.0,279.8L506.4,279.8L506.7,279.8L507.0,279.8L507.4,279.8L507.7,279.8L508.0,279.8L508.4,279.8L508.7,279.8L509.0,279.8L509.3,279.8L509.7,279.8L510.0,279.8L510.3,279.8L510.5,279.8Z" fill="#d5211d"/>
<line x1="357.5" y1="94.3" x2="448" y2="94.3" stroke="#2e3f9e" stroke-width="0.5" opacity="0.8"/>
<rect x="357.6" y="93.0" width="0.9" height="2.6" fill="#2e3f9e"/>
<rect x="376.6" y="93.0" width="0.9" height="2.6" fill="#2e3f9e"/>
<rect x="391.6" y="93.0" width="0.9" height="2.6" fill="#2e3f9e"/>
<rect x="395.6" y="93.0" width="0.9" height="2.6" fill="#2e3f9e"/>
<rect x="399.6" y="93.0" width="0.9" height="2.6" fill="#2e3f9e"/>
<rect x="403.6" y="93.0" width="0.9" height="2.6" fill="#2e3f9e"/>
<rect x="406.6" y="93.0" width="0.9" height="2.6" fill="#2e3f9e"/>
<rect x="415.6" y="93.0" width="0.9" height="2.6" fill="#2e3f9e"/>
<rect x="419.6" y="93.0" width="0.9" height="2.6" fill="#2e3f9e"/>
<rect x="427.6" y="93.0" width="0.9" height="2.6" fill="#2e3f9e"/>
<rect x="434.6" y="93.0" width="0.9" height="2.6" fill="#2e3f9e"/>
<rect x="438.6" y="93.0" width="0.9" height="2.6" fill="#2e3f9e"/>
<rect x="442.6" y="93.0" width="0.9" height="2.6" fill="#2e3f9e"/>
<path d="M447 92.6 L450 94.3 L447 96 Z" fill="#2e3f9e"/>
<line x1="358" y1="99.6" x2="446" y2="99.6" stroke="#111" stroke-width="1.1"/>
<path d="M444.5 97.4 L449.5 99.6 L444.5 101.8 Z" fill="#111"/>
<text x="389.2" y="109.8" font-size="7.6" font-style="italic" stroke="#231f20" stroke-width="0.21" textLength="28.6" lengthAdjust="spacingAndGlyphs">Aldh1a1</text>
<line x1="295.5" y1="189.7" x2="377" y2="189.7" stroke="#2e3f9e" stroke-width="0.6" stroke-dasharray="1.5 1" opacity="0.7"/>
<circle cx="319.4" cy="189.7" r="0.9" fill="#2e3f9e"/>
<rect x="377.3" y="188.6" width="9.3" height="2.2" fill="#2e3f9e"/>
<line x1="386" y1="189.7" x2="390" y2="189.7" stroke="#2e3f9e" stroke-width="0.6"/>
<line x1="404.6" y1="189.7" x2="438" y2="189.7" stroke="#2e3f9e" stroke-width="0.6" opacity="0.7"/>
<rect x="404.6" y="188.9" width="20" height="1.6" fill="#2e3f9e"/>
<rect x="415.2" y="188.5" width="9" height="2.4" fill="#2e3f9e"/>
<line x1="362.9" y1="194.9" x2="383" y2="194.9" stroke="#222" stroke-width="1.1"/>
<path d="M381.5 192.7 L386.4 194.9 L381.5 197.1 Z" fill="#222"/>
<line x1="408" y1="194.9" x2="438.8" y2="194.9" stroke="#222" stroke-width="1.1"/>
<path d="M409.6 192.7 L404.8 194.9 L409.6 197.1 Z" fill="#222"/>
<line x1="299" y1="207.4" x2="371" y2="207.4" stroke="#555" stroke-width="1.1"/>
<path d="M301 205.2 L296.2 207.4 L301 209.6 Z" fill="#555"/>
<text x="305.3" y="204.0" font-size="7.5" font-style="italic" fill="#555" stroke="#555" stroke-width="0.21" textLength="55.0" lengthAdjust="spacingAndGlyphs">B230118H07Rik</text>
<text x="366.3" y="203.3" font-size="7.6" font-style="italic" fill="#111" stroke="#111" stroke-width="0.21" textLength="18.0" lengthAdjust="spacingAndGlyphs">Rag2</text>
<text x="414.2" y="203.3" font-size="7.6" font-style="italic" fill="#111" stroke="#111" stroke-width="0.21" textLength="17.4" lengthAdjust="spacingAndGlyphs">Rag1</text>
<rect x="356.4" y="283.6" width="22" height="1.6" fill="#2e3f9e"/>
<line x1="378" y1="284.4" x2="433" y2="284.4" stroke="#2e3f9e" stroke-width="0.6" stroke-dasharray="1.5 1"/>
<rect x="377.6" y="282.8" width="1.4" height="3.2" fill="#2e3f9e"/>
<rect x="388.3" y="282.8" width="1.4" height="3.2" fill="#2e3f9e"/>
<rect x="414.3" y="282.8" width="1.4" height="3.2" fill="#2e3f9e"/>
<rect x="419.1" y="282.8" width="1.4" height="3.2" fill="#2e3f9e"/>
<path d="M431.5 282.6 L434.6 284.4 L431.5 286.2 Z" fill="#2e3f9e"/>
<line x1="361" y1="290.4" x2="435" y2="290.4" stroke="#111" stroke-width="1.1"/>
<path d="M362.7 288.2 L357.7 290.4 L362.7 292.6 Z" fill="#111"/>
<text x="385.1" y="299.0" font-size="7.6" font-style="italic" stroke="#231f20" stroke-width="0.21" textLength="21.9" lengthAdjust="spacingAndGlyphs">Ccnd1</text>
<line x1="467" y1="37.8" x2="510.6" y2="37.8" stroke="#555" stroke-width="1.3"/>
<text x="488.4" y="35.8" font-size="7.8" text-anchor="middle" stroke="#231f20" stroke-width="0.21" textLength="18.8" lengthAdjust="spacingAndGlyphs">20 kb</text>
<line x1="449.1" y1="133" x2="510.6" y2="133" stroke="#555" stroke-width="1.3"/>
<text x="479.6" y="130.2" font-size="7.8" text-anchor="middle" stroke="#231f20" stroke-width="0.21" textLength="18.8" lengthAdjust="spacingAndGlyphs">20 kb</text>
<line x1="471.9" y1="226.6" x2="510.6" y2="226.6" stroke="#555" stroke-width="1.3"/>
<text x="488.5" y="224.4" font-size="7.8" text-anchor="middle" stroke="#231f20" stroke-width="0.21" textLength="14.6" lengthAdjust="spacingAndGlyphs">5 kb</text>
<rect x="353.5" y="26.6" width="8.2" height="70.9" fill="none" stroke="#7f80c6" stroke-width="1.0"/>
<rect x="359.3" y="121.3" width="8.3" height="71.7" fill="none" stroke="#e8836f" stroke-width="1.0"/>
<rect x="437.3" y="121.3" width="9.0" height="70.8" fill="none" stroke="#e8836f" stroke-width="1.0"/>
<rect x="431.1" y="216.7" width="20.1" height="71.0" fill="none" stroke="#e8836f" stroke-width="1.0"/>
<defs>
<path id="gT" d="M773 1181V0H478V1181H23V1409H1229V1181Z"/>
<path id="gG" d="M806 211Q921 211 1029.0 244.5Q1137 278 1196 330V525H852V743H1466V225Q1354 110 1174.5 45.0Q995 -20 798 -20Q454 -20 269.0 170.5Q84 361 84 711Q84 1059 270.0 1244.5Q456 1430 805 1430Q1301 1430 1436 1063L1164 981Q1120 1088 1026.0 1143.0Q932 1198 805 1198Q597 1198 489.0 1072.0Q381 946 381 711Q381 472 492.5 341.5Q604 211 806 211Z"/>
<path id="gA" d="M1133 0 1008 360H471L346 0H51L565 1409H913L1425 0ZM739 1192 733 1170Q723 1134 709.0 1088.0Q695 1042 537 582H942L803 987L760 1123Z"/>
<path id="gC" d="M795 212Q1062 212 1166 480L1423 383Q1340 179 1179.5 79.5Q1019 -20 795 -20Q455 -20 269.5 172.5Q84 365 84 711Q84 1058 263.0 1244.0Q442 1430 782 1430Q1030 1430 1186.0 1330.5Q1342 1231 1405 1038L1145 967Q1112 1073 1015.5 1135.5Q919 1198 788 1198Q588 1198 484.5 1074.0Q381 950 381 711Q381 468 487.5 340.0Q594 212 795 212Z"/>
</defs>
<text x="28.8" y="219.0" font-size="8.5" font-style="italic" stroke="#231f20" stroke-width="0.22" textLength="30.8" lengthAdjust="spacingAndGlyphs">de novo</text>
<text x="61.2" y="219.0" font-size="8.5" stroke="#231f20" stroke-width="0.22" textLength="19.3" lengthAdjust="spacingAndGlyphs">motif</text>
<use href="#gT" fill="#c8202c" transform="matrix(0.00983 0 0 -0.01625 54.07 248.20)"/>
<use href="#gA" fill="#3d9b3d" transform="matrix(0.00862 0 0 -0.00114 65.91 248.20)"/>
<use href="#gG" fill="#e8972e" transform="matrix(0.00857 0 0 -0.01483 65.63 246.30)"/>
<use href="#gT" fill="#c8202c" transform="matrix(0.00983 0 0 -0.01625 78.17 248.20)"/>
<use href="#gG" fill="#e8972e" transform="matrix(0.00857 0 0 -0.01607 89.73 247.88)"/>
<use href="#gG" fill="#e8972e" transform="matrix(0.00857 0 0 -0.01607 101.78 247.88)"/>
<use href="#gT" fill="#c8202c" transform="matrix(0.00983 0 0 -0.01625 114.32 248.20)"/>
<use href="#gC" fill="#2f49b8" transform="matrix(0.00885 0 0 -0.00166 125.86 248.17)"/>
<use href="#gT" fill="#c8202c" transform="matrix(0.00983 0 0 -0.01462 126.37 245.80)"/>
<use href="#gA" fill="#3d9b3d" transform="matrix(0.00862 0 0 -0.00170 138.21 248.20)"/>
<use href="#gT" fill="#c8202c" transform="matrix(0.00983 0 0 -0.01462 138.42 245.80)"/>
<text x="68.6" y="257.0" font-size="8.2" stroke="#231f20" stroke-width="0.22" textLength="24.6" lengthAdjust="spacingAndGlyphs">p = 10</text>
<text x="93.3" y="254.0" font-size="5.4" stroke="#231f20" stroke-width="0.15" textLength="8.3" lengthAdjust="spacingAndGlyphs">-10</text>
<text x="69.2" y="266.2" font-size="8.2" stroke="#231f20" stroke-width="0.22" textLength="69.7" lengthAdjust="spacingAndGlyphs">% of targets 9.25%</text>
<text x="69.2" y="276.8" font-size="8.2" stroke="#231f20" stroke-width="0.22" textLength="88.4" lengthAdjust="spacingAndGlyphs">% of background 4.64%</text>
<text x="28.0" y="295.0" font-size="8.2" stroke="#231f20" stroke-width="0.22" textLength="75.3" lengthAdjust="spacingAndGlyphs">Known RUNX1 motif</text>
<use href="#gA" fill="#3d9b3d" transform="matrix(0.00853 0 0 -0.00227 29.76 323.80)"/>
<use href="#gC" fill="#2f49b8" transform="matrix(0.00875 0 0 -0.00241 29.46 320.55)"/>
<use href="#gG" fill="#e8972e" transform="matrix(0.00848 0 0 -0.00455 29.49 317.01)"/>
<use href="#gT" fill="#c8202c" transform="matrix(0.00972 0 0 -0.00532 29.98 310.50)"/>
<use href="#gG" fill="#e8972e" transform="matrix(0.00848 0 0 -0.00124 41.41 323.78)"/>
<use href="#gA" fill="#3d9b3d" transform="matrix(0.00853 0 0 -0.00341 41.68 322.00)"/>
<use href="#gC" fill="#2f49b8" transform="matrix(0.00875 0 0 -0.00503 41.38 317.10)"/>
<use href="#gT" fill="#c8202c" transform="matrix(0.00972 0 0 -0.00490 41.90 309.90)"/>
<use href="#gA" fill="#3d9b3d" transform="matrix(0.00853 0 0 -0.00085 53.60 323.80)"/>
<use href="#gG" fill="#e8972e" transform="matrix(0.00848 0 0 -0.00083 53.33 322.58)"/>
<use href="#gT" fill="#c8202c" transform="matrix(0.00972 0 0 -0.01505 53.82 321.40)"/>
<use href="#gG" fill="#e8972e" transform="matrix(0.00848 0 0 -0.01621 65.25 323.48)"/>
<use href="#gC" fill="#2f49b8" transform="matrix(0.00875 0 0 -0.00069 77.14 323.79)"/>
<use href="#gA" fill="#3d9b3d" transform="matrix(0.00853 0 0 -0.00071 77.44 322.80)"/>
<use href="#gT" fill="#c8202c" transform="matrix(0.00972 0 0 -0.01455 77.66 321.80)"/>
<use href="#gG" fill="#e8972e" transform="matrix(0.00848 0 0 -0.01607 89.09 323.48)"/>
<use href="#gG" fill="#e8972e" transform="matrix(0.00848 0 0 -0.01607 101.01 323.48)"/>
<use href="#gA" fill="#3d9b3d" transform="matrix(0.00853 0 0 -0.00057 113.20 323.80)"/>
<use href="#gC" fill="#2f49b8" transform="matrix(0.00875 0 0 -0.00138 112.90 322.97)"/>
<use href="#gT" fill="#c8202c" transform="matrix(0.00972 0 0 -0.01434 113.42 321.00)"/>
<use href="#gG" fill="#e8972e" transform="matrix(0.00848 0 0 -0.00055 124.85 323.79)"/>
<use href="#gC" fill="#2f49b8" transform="matrix(0.00875 0 0 -0.00124 124.82 322.98)"/>
<use href="#gT" fill="#c8202c" transform="matrix(0.00972 0 0 -0.01455 125.34 321.20)"/>
<use href="#gG" fill="#e8972e" transform="matrix(0.00848 0 0 -0.00221 136.77 323.76)"/>
<use href="#gA" fill="#3d9b3d" transform="matrix(0.00853 0 0 -0.00369 137.04 320.60)"/>
<use href="#gT" fill="#c8202c" transform="matrix(0.00972 0 0 -0.00873 137.26 315.40)"/>
<text x="94.0" y="333.3" font-size="8.2" stroke="#231f20" stroke-width="0.22" textLength="63.6" lengthAdjust="spacingAndGlyphs">Match score 0.97</text>
<line x1="79.6" y1="365.6" x2="79.6" y2="453.1" stroke="#c8c8c8" stroke-width="0.8"/>
<line x1="92.5" y1="365.6" x2="92.5" y2="453.1" stroke="#c8c8c8" stroke-width="0.8"/>
<path d="M53.9 433.2 54.4 432.6 55.0 432.5 55.8 431.2 56.6 430.8 57.5 429.7 58.3 429.9 59.0 429.8 59.8 430.1 60.6 429.7 61.4 429.6 62.2 429.2 63.0 428.6 63.8 428.1 64.5 426.9 65.2 425.9 66.0 425.0 66.7 423.6 67.4 422.1 68.1 421.6 68.8 420.4 69.4 419.2 70.3 418.6 71.1 418.2 71.8 418.2 72.6 418.3 73.5 419.1 74.3 418.9 75.1 418.8 76.0 418.9 76.9 419.4 77.7 419.0 78.5 418.6 79.1 419.4 80.0 419.0 80.6 419.3 81.2 419.6 82.0 419.3 82.8 417.3 83.9 415.5 84.6 415.8 85.5 415.7 86.4 415.8 87.3 416.2 88.1 416.4 88.8 416.7 89.8 417.4 90.5 419.0 91.3 419.7 91.9 418.5 92.5 416.5 93.3 415.2 94.3 414.9 94.9 414.9 95.5 415.5 96.3 416.9 97.0 417.9 97.8 419.0 98.7 420.4 99.5 421.6 100.4 422.7 101.2 423.0 101.9 424.5 102.6 425.1 103.4 425.3 104.1 426.3 104.9 426.9 105.7 427.3 106.5 428.1 107.2 429.2 108.0 429.4 108.8 430.1 109.5 430.9 110.3 430.5 111.0 430.6 111.9 431.2 112.7 431.0 113.5 431.5 114.3 432.4 115.0 433.0 115.7 433.3 116.3 432.8 116.8 434.0 117.2 434.1" fill="none" stroke="#9fb0d6" stroke-width="3.0" stroke-linejoin="round" opacity="0.85"/>
<path d="M53.9 433.2 54.4 432.6 55.0 432.5 55.8 431.2 56.6 430.8 57.5 429.7 58.3 429.9 59.0 429.8 59.8 430.1 60.6 429.7 61.4 429.6 62.2 429.2 63.0 428.6 63.8 428.1 64.5 426.9 65.2 425.9 66.0 425.0 66.7 423.6 67.4 422.1 68.1 421.6 68.8 420.4 69.4 419.2 70.3 418.6 71.1 418.2 71.8 418.2 72.6 418.3 73.5 419.1 74.3 418.9 75.1 418.8 76.0 418.9 76.9 419.4 77.7 419.0 78.5 418.6 79.1 419.4 80.0 419.0 80.6 419.3 81.2 419.6 82.0 419.3 82.8 417.3 83.9 415.5 84.6 415.8 85.5 415.7 86.4 415.8 87.3 416.2 88.1 416.4 88.8 416.7 89.8 417.4 90.5 419.0 91.3 419.7 91.9 418.5 92.5 416.5 93.3 415.2 94.3 414.9 94.9 414.9 95.5 415.5 96.3 416.9 97.0 417.9 97.8 419.0 98.7 420.4 99.5 421.6 100.4 422.7 101.2 423.0 101.9 424.5 102.6 425.1 103.4 425.3 104.1 426.3 104.9 426.9 105.7 427.3 106.5 428.1 107.2 429.2 108.0 429.4 108.8 430.1 109.5 430.9 110.3 430.5 111.0 430.6 111.9 431.2 112.7 431.0 113.5 431.5 114.3 432.4 115.0 433.0 115.7 433.3 116.3 432.8 116.8 434.0 117.2 434.1" fill="none" stroke="#34559c" stroke-width="1.25" stroke-linejoin="round"/>
<path d="M53.9 432.6 54.4 432.3 55.0 431.1 55.8 430.1 56.6 429.3 57.5 429.6 58.3 428.7 59.0 428.4 59.8 428.2 60.6 428.3 61.4 428.2 62.2 428.0 63.0 427.0 63.8 425.4 64.5 425.0 65.2 424.2 66.0 423.3 66.7 421.7 67.4 420.0 68.1 418.8 68.8 417.2 69.4 416.3 70.3 415.6 71.1 415.9 71.8 417.0 72.6 417.4 73.5 417.9 74.3 417.8 75.1 417.9 76.0 417.9 76.9 418.0 77.7 417.5 78.5 417.7 79.1 417.9 80.0 419.3 80.6 420.4 81.2 421.0 82.0 420.6 82.8 419.0 83.9 418.3 84.6 418.6 85.5 418.2 86.4 418.5 87.3 418.3 88.1 417.8 88.8 418.2 89.8 418.7 90.5 419.8 91.3 419.6 91.9 418.4 92.5 415.4 93.3 414.3 94.3 413.9 94.9 413.8 95.5 414.1 96.3 415.1 97.0 416.4 97.8 417.7 98.7 419.0 99.5 419.5 100.4 420.4 101.2 422.0 101.9 422.8 102.6 422.9 103.4 423.4 104.1 423.7 104.9 424.3 105.7 425.6 106.5 426.1 107.2 427.0 108.0 427.5 108.8 427.4 109.5 427.8 110.3 429.2 111.0 429.2 111.9 429.3 112.7 430.3 113.5 430.6 114.3 431.0 115.0 431.8 115.7 431.4 116.3 431.9 116.8 431.8 117.2 431.7" fill="none" stroke="#e9a7ad" stroke-width="3.0" stroke-linejoin="round" opacity="0.85"/>
<path d="M53.9 432.6 54.4 432.3 55.0 431.1 55.8 430.1 56.6 429.3 57.5 429.6 58.3 428.7 59.0 428.4 59.8 428.2 60.6 428.3 61.4 428.2 62.2 428.0 63.0 427.0 63.8 425.4 64.5 425.0 65.2 424.2 66.0 423.3 66.7 421.7 67.4 420.0 68.1 418.8 68.8 417.2 69.4 416.3 70.3 415.6 71.1 415.9 71.8 417.0 72.6 417.4 73.5 417.9 74.3 417.8 75.1 417.9 76.0 417.9 76.9 418.0 77.7 417.5 78.5 417.7 79.1 417.9 80.0 419.3 80.6 420.4 81.2 421.0 82.0 420.6 82.8 419.0 83.9 418.3 84.6 418.6 85.5 418.2 86.4 418.5 87.3 418.3 88.1 417.8 88.8 418.2 89.8 418.7 90.5 419.8 91.3 419.6 91.9 418.4 92.5 415.4 93.3 414.3 94.3 413.9 94.9 413.8 95.5 414.1 96.3 415.1 97.0 416.4 97.8 417.7 98.7 419.0 99.5 419.5 100.4 420.4 101.2 422.0 101.9 422.8 102.6 422.9 103.4 423.4 104.1 423.7 104.9 424.3 105.7 425.6 106.5 426.1 107.2 427.0 108.0 427.5 108.8 427.4 109.5 427.8 110.3 429.2 111.0 429.2 111.9 429.3 112.7 430.3 113.5 430.6 114.3 431.0 115.0 431.8 115.7 431.4 116.3 431.9 116.8 431.8 117.2 431.7" fill="none" stroke="#c0202f" stroke-width="1.25" stroke-linejoin="round"/>
<rect x="51.6" y="365.6" width="68.8" height="87.5" fill="none" stroke="#231f20" stroke-width="1.1"/>
<line x1="48.1" y1="449.7" x2="51.6" y2="449.7" stroke="#231f20" stroke-width="1"/>
<line x1="48.1" y1="437.2" x2="51.6" y2="437.2" stroke="#231f20" stroke-width="1"/>
<line x1="48.1" y1="424.7" x2="51.6" y2="424.7" stroke="#231f20" stroke-width="1"/>
<line x1="48.1" y1="412.1" x2="51.6" y2="412.1" stroke="#231f20" stroke-width="1"/>
<line x1="48.1" y1="399.6" x2="51.6" y2="399.6" stroke="#231f20" stroke-width="1"/>
<line x1="48.1" y1="387.1" x2="51.6" y2="387.1" stroke="#231f20" stroke-width="1"/>
<line x1="48.1" y1="374.6" x2="51.6" y2="374.6" stroke="#231f20" stroke-width="1"/>
<line x1="53.8" y1="453.1" x2="53.8" y2="456.5" stroke="#231f20" stroke-width="1"/>
<line x1="66.7" y1="453.1" x2="66.7" y2="456.5" stroke="#231f20" stroke-width="1"/>
<line x1="79.6" y1="453.1" x2="79.6" y2="456.5" stroke="#231f20" stroke-width="1"/>
<line x1="92.5" y1="453.1" x2="92.5" y2="456.5" stroke="#231f20" stroke-width="1"/>
<line x1="105.4" y1="453.1" x2="105.4" y2="456.5" stroke="#231f20" stroke-width="1"/>
<line x1="118.3" y1="453.1" x2="118.3" y2="456.5" stroke="#231f20" stroke-width="1"/>
<text x="86.2" y="360.4" font-size="8.0" text-anchor="middle" stroke="#231f20" stroke-width="0.22" textLength="76.1" lengthAdjust="spacingAndGlyphs">H3K27Ac LT-HSC high</text>
<text x="53.8" y="466.4" font-size="8.0" text-anchor="middle" stroke="#231f20" stroke-width="0.22" textLength="16.0" lengthAdjust="spacingAndGlyphs">-2kb</text>
<text x="79.2" y="466.4" font-size="8.0" text-anchor="middle" stroke="#231f20" stroke-width="0.22" textLength="5.4" lengthAdjust="spacingAndGlyphs">5′</text>
<text x="92.2" y="466.4" font-size="8.0" text-anchor="middle" stroke="#231f20" stroke-width="0.22" textLength="5.8" lengthAdjust="spacingAndGlyphs">3′</text>
<text x="118.2" y="466.4" font-size="8.0" text-anchor="middle" stroke="#231f20" stroke-width="0.22" textLength="17.4" lengthAdjust="spacingAndGlyphs">+2kb</text>
<line x1="170.9" y1="365.6" x2="170.9" y2="453.1" stroke="#c8c8c8" stroke-width="0.8"/>
<line x1="183.8" y1="365.6" x2="183.8" y2="453.1" stroke="#c8c8c8" stroke-width="0.8"/>
<path d="M145.3 440.9 145.8 441.4 146.4 441.3 147.1 440.7 147.8 440.6 148.7 441.4 149.6 441.7 150.5 441.0 151.4 441.6 152.2 440.9 153.0 439.8 153.8 439.1 154.5 438.6 155.3 438.0 156.1 436.9 156.8 435.2 157.6 433.6 158.3 431.8 159.0 430.7 159.7 429.3 160.4 428.3 161.3 426.1 162.1 424.4 162.9 422.5 163.7 420.5 164.4 418.6 165.2 416.7 165.9 414.6 166.7 412.7 167.4 410.3 168.2 407.3 168.9 405.0 169.7 402.5 170.5 400.4 171.2 398.0 171.9 395.4 172.7 392.7 173.5 390.4 174.3 388.3 175.0 386.5 175.8 385.0 176.5 384.5 177.3 384.6 178.0 385.6 178.7 386.9 179.4 389.1 180.1 391.0 180.8 393.0 181.5 395.1 182.3 397.7 183.0 399.7 183.8 401.3 184.5 403.0 185.3 405.4 186.1 407.9 186.8 410.2 187.6 412.2 188.3 414.6 189.1 416.9 189.9 419.2 190.7 421.3 191.6 423.5 192.2 424.3 192.9 425.7 193.6 427.5 194.3 428.7 195.0 430.3 195.7 431.1 196.4 432.4 197.2 433.7 198.0 434.4 198.9 435.2 199.6 436.8 200.3 436.9 201.1 437.1 201.9 437.5 202.7 438.0 203.6 438.5 204.4 439.2 205.2 439.7 206.0 439.7 206.8 439.8 207.5 439.6 208.1 439.5 208.6 439.8 209.0 440.5" fill="none" stroke="#9fb0d6" stroke-width="3.0" stroke-linejoin="round" opacity="0.85"/>
<path d="M145.3 440.9 145.8 441.4 146.4 441.3 147.1 440.7 147.8 440.6 148.7 441.4 149.6 441.7 150.5 441.0 151.4 441.6 152.2 440.9 153.0 439.8 153.8 439.1 154.5 438.6 155.3 438.0 156.1 436.9 156.8 435.2 157.6 433.6 158.3 431.8 159.0 430.7 159.7 429.3 160.4 428.3 161.3 426.1 162.1 424.4 162.9 422.5 163.7 420.5 164.4 418.6 165.2 416.7 165.9 414.6 166.7 412.7 167.4 410.3 168.2 407.3 168.9 405.0 169.7 402.5 170.5 400.4 171.2 398.0 171.9 395.4 172.7 392.7 173.5 390.4 174.3 388.3 175.0 386.5 175.8 385.0 176.5 384.5 177.3 384.6 178.0 385.6 178.7 386.9 179.4 389.1 180.1 391.0 180.8 393.0 181.5 395.1 182.3 397.7 183.0 399.7 183.8 401.3 184.5 403.0 185.3 405.4 186.1 407.9 186.8 410.2 187.6 412.2 188.3 414.6 189.1 416.9 189.9 419.2 190.7 421.3 191.6 423.5 192.2 424.3 192.9 425.7 193.6 427.5 194.3 428.7 195.0 430.3 195.7 431.1 196.4 432.4 197.2 433.7 198.0 434.4 198.9 435.2 199.6 436.8 200.3 436.9 201.1 437.1 201.9 437.5 202.7 438.0 203.6 438.5 204.4 439.2 205.2 439.7 206.0 439.7 206.8 439.8 207.5 439.6 208.1 439.5 208.6 439.8 209.0 440.5" fill="none" stroke="#34559c" stroke-width="1.25" stroke-linejoin="round"/>
<path d="M145.3 439.4 145.8 439.6 146.4 439.8 147.1 439.5 147.8 440.1 148.7 439.6 149.6 439.1 150.5 438.8 151.4 438.9 152.2 438.3 153.0 437.4 153.8 436.9 154.5 436.3 155.3 435.0 156.1 433.7 156.8 432.8 157.6 431.6 158.3 430.4 159.0 428.5 159.7 427.1 160.4 425.8 161.3 423.2 162.1 421.8 162.9 419.8 163.7 417.5 164.4 416.2 165.2 413.7 165.9 410.9 166.7 408.1 167.4 405.3 168.2 402.5 168.9 399.2 169.7 395.6 170.5 392.3 171.2 389.5 171.9 386.4 172.7 383.5 173.5 380.3 174.3 377.6 175.0 375.0 175.8 373.1 176.5 372.3 177.3 372.4 178.0 374.0 178.7 375.4 179.4 377.8 180.1 380.4 180.8 382.5 181.5 385.2 182.3 387.7 183.0 389.7 183.8 392.9 184.5 396.1 185.3 398.6 186.1 402.2 186.8 404.6 187.6 406.8 188.3 409.8 189.1 412.4 189.9 414.7 190.7 416.8 191.6 419.6 192.2 421.1 192.9 423.0 193.6 424.6 194.3 425.8 195.0 427.0 195.7 429.0 196.4 430.6 197.2 431.7 198.0 432.3 198.9 432.9 199.6 433.5 200.3 434.7 201.1 435.3 201.9 435.6 202.7 435.7 203.6 436.4 204.4 436.6 205.2 437.2 206.0 438.0 206.8 438.6 207.5 438.9 208.1 438.9 208.6 439.3 209.0 440.1" fill="none" stroke="#e9a7ad" stroke-width="3.0" stroke-linejoin="round" opacity="0.85"/>
<path d="M145.3 439.4 145.8 439.6 146.4 439.8 147.1 439.5 147.8 440.1 148.7 439.6 149.6 439.1 150.5 438.8 151.4 438.9 152.2 438.3 153.0 437.4 153.8 436.9 154.5 436.3 155.3 435.0 156.1 433.7 156.8 432.8 157.6 431.6 158.3 430.4 159.0 428.5 159.7 427.1 160.4 425.8 161.3 423.2 162.1 421.8 162.9 419.8 163.7 417.5 164.4 416.2 165.2 413.7 165.9 410.9 166.7 408.1 167.4 405.3 168.2 402.5 168.9 399.2 169.7 395.6 170.5 392.3 171.2 389.5 171.9 386.4 172.7 383.5 173.5 380.3 174.3 377.6 175.0 375.0 175.8 373.1 176.5 372.3 177.3 372.4 178.0 374.0 178.7 375.4 179.4 377.8 180.1 380.4 180.8 382.5 181.5 385.2 182.3 387.7 183.0 389.7 183.8 392.9 184.5 396.1 185.3 398.6 186.1 402.2 186.8 404.6 187.6 406.8 188.3 409.8 189.1 412.4 189.9 414.7 190.7 416.8 191.6 419.6 192.2 421.1 192.9 423.0 193.6 424.6 194.3 425.8 195.0 427.0 195.7 429.0 196.4 430.6 197.2 431.7 198.0 432.3 198.9 432.9 199.6 433.5 200.3 434.7 201.1 435.3 201.9 435.6 202.7 435.7 203.6 436.4 204.4 436.6 205.2 437.2 206.0 438.0 206.8 438.6 207.5 438.9 208.1 438.9 208.6 439.3 209.0 440.1" fill="none" stroke="#c0202f" stroke-width="1.25" stroke-linejoin="round"/>
<rect x="142.9" y="365.6" width="68.8" height="87.5" fill="none" stroke="#231f20" stroke-width="1.1"/>
<line x1="139.4" y1="449.7" x2="142.9" y2="449.7" stroke="#231f20" stroke-width="1"/>
<line x1="139.4" y1="437.2" x2="142.9" y2="437.2" stroke="#231f20" stroke-width="1"/>
<line x1="139.4" y1="424.7" x2="142.9" y2="424.7" stroke="#231f20" stroke-width="1"/>
<line x1="139.4" y1="412.1" x2="142.9" y2="412.1" stroke="#231f20" stroke-width="1"/>
<line x1="139.4" y1="399.6" x2="142.9" y2="399.6" stroke="#231f20" stroke-width="1"/>
<line x1="139.4" y1="387.1" x2="142.9" y2="387.1" stroke="#231f20" stroke-width="1"/>
<line x1="139.4" y1="374.6" x2="142.9" y2="374.6" stroke="#231f20" stroke-width="1"/>
<line x1="145.1" y1="453.1" x2="145.1" y2="456.5" stroke="#231f20" stroke-width="1"/>
<line x1="158.0" y1="453.1" x2="158.0" y2="456.5" stroke="#231f20" stroke-width="1"/>
<line x1="170.9" y1="453.1" x2="170.9" y2="456.5" stroke="#231f20" stroke-width="1"/>
<line x1="183.8" y1="453.1" x2="183.8" y2="456.5" stroke="#231f20" stroke-width="1"/>
<line x1="196.7" y1="453.1" x2="196.7" y2="456.5" stroke="#231f20" stroke-width="1"/>
<line x1="209.6" y1="453.1" x2="209.6" y2="456.5" stroke="#231f20" stroke-width="1"/>
<text x="177.1" y="360.4" font-size="8.0" text-anchor="middle" stroke="#231f20" stroke-width="0.22" textLength="67.9" lengthAdjust="spacingAndGlyphs">H3K27Ac MPP high</text>
<text x="145.1" y="466.4" font-size="8.0" text-anchor="middle" stroke="#231f20" stroke-width="0.22" textLength="16.0" lengthAdjust="spacingAndGlyphs">-2kb</text>
<text x="170.5" y="466.4" font-size="8.0" text-anchor="middle" stroke="#231f20" stroke-width="0.22" textLength="5.4" lengthAdjust="spacingAndGlyphs">5′</text>
<text x="183.5" y="466.4" font-size="8.0" text-anchor="middle" stroke="#231f20" stroke-width="0.22" textLength="5.8" lengthAdjust="spacingAndGlyphs">3′</text>
<text x="209.5" y="466.4" font-size="8.0" text-anchor="middle" stroke="#231f20" stroke-width="0.22" textLength="17.4" lengthAdjust="spacingAndGlyphs">+2kb</text>
<line x1="300.3" y1="365.6" x2="300.3" y2="453.1" stroke="#c8c8c8" stroke-width="0.8"/>
<line x1="313.2" y1="365.6" x2="313.2" y2="453.1" stroke="#c8c8c8" stroke-width="0.8"/>
<path d="M275.0 424.4 275.5 423.8 276.2 424.3 277.0 424.0 277.8 424.8 278.7 423.9 279.6 423.4 280.4 423.1 281.0 423.1 281.9 423.0 282.6 422.9 283.1 422.9 283.8 423.4 284.6 423.3 285.4 423.0 286.3 423.6 287.2 423.7 288.0 424.1 288.9 424.0 289.7 424.5 290.6 424.8 291.4 425.0 292.3 425.3 293.0 425.4 293.8 425.4 294.8 425.6 295.5 425.5 296.3 426.0 297.1 427.0 297.9 427.6 298.8 428.2 299.6 429.0 300.4 429.2 301.2 429.5 302.1 430.2 302.8 430.2 303.6 430.8 304.4 430.8 305.2 431.0 305.9 431.3 306.6 430.4 307.4 430.6 308.1 430.3 308.8 430.4 309.5 430.6 310.1 431.1 311.0 430.8 311.8 431.0 312.5 430.2 313.5 429.7 314.1 429.4 314.7 429.4 315.4 429.0 316.2 428.4 316.9 428.0 317.7 427.2 318.4 427.5 319.1 427.4 319.9 427.0 320.7 426.6 321.4 425.9 322.2 425.4 323.0 425.3 323.8 424.6 324.6 424.0 325.4 424.2 326.1 424.2 326.9 423.5 327.7 423.0 328.5 422.5 329.3 422.5 330.1 421.7 330.8 421.5 331.7 421.5 332.6 421.9 333.5 421.7 334.3 421.9 335.0 421.9 335.7 422.0 336.6 422.3 337.4 423.1 338.0 424.1 338.5 424.2" fill="none" stroke="#9fb0d6" stroke-width="3.0" stroke-linejoin="round" opacity="0.85"/>
<path d="M275.0 424.4 275.5 423.8 276.2 424.3 277.0 424.0 277.8 424.8 278.7 423.9 279.6 423.4 280.4 423.1 281.0 423.1 281.9 423.0 282.6 422.9 283.1 422.9 283.8 423.4 284.6 423.3 285.4 423.0 286.3 423.6 287.2 423.7 288.0 424.1 288.9 424.0 289.7 424.5 290.6 424.8 291.4 425.0 292.3 425.3 293.0 425.4 293.8 425.4 294.8 425.6 295.5 425.5 296.3 426.0 297.1 427.0 297.9 427.6 298.8 428.2 299.6 429.0 300.4 429.2 301.2 429.5 302.1 430.2 302.8 430.2 303.6 430.8 304.4 430.8 305.2 431.0 305.9 431.3 306.6 430.4 307.4 430.6 308.1 430.3 308.8 430.4 309.5 430.6 310.1 431.1 311.0 430.8 311.8 431.0 312.5 430.2 313.5 429.7 314.1 429.4 314.7 429.4 315.4 429.0 316.2 428.4 316.9 428.0 317.7 427.2 318.4 427.5 319.1 427.4 319.9 427.0 320.7 426.6 321.4 425.9 322.2 425.4 323.0 425.3 323.8 424.6 324.6 424.0 325.4 424.2 326.1 424.2 326.9 423.5 327.7 423.0 328.5 422.5 329.3 422.5 330.1 421.7 330.8 421.5 331.7 421.5 332.6 421.9 333.5 421.7 334.3 421.9 335.0 421.9 335.7 422.0 336.6 422.3 337.4 423.1 338.0 424.1 338.5 424.2" fill="none" stroke="#34559c" stroke-width="1.25" stroke-linejoin="round"/>
<path d="M275.0 422.8 275.5 422.6 276.2 422.7 277.0 422.7 277.8 422.0 278.7 421.9 279.6 421.5 280.4 421.7 281.0 421.3 281.9 421.2 282.6 421.6 283.1 422.2 283.8 422.2 284.6 422.3 285.4 422.2 286.3 421.9 287.2 422.0 288.0 422.4 288.9 422.5 289.7 422.9 290.6 423.4 291.4 423.0 292.3 423.5 293.0 423.3 293.8 423.3 294.8 423.7 295.5 424.3 296.3 425.1 297.1 425.9 297.9 426.4 298.8 427.4 299.6 428.1 300.4 428.3 301.2 428.6 302.1 429.1 302.8 429.3 303.6 429.5 304.4 429.4 305.2 429.7 305.9 430.3 306.6 430.2 307.4 429.4 308.1 430.1 308.8 429.8 309.5 429.3 310.1 428.6 311.0 429.0 311.8 429.2 312.5 429.1 313.5 428.4 314.1 428.6 314.7 428.1 315.4 427.4 316.2 427.2 316.9 426.9 317.7 426.5 318.4 426.3 319.1 425.2 319.9 425.6 320.7 424.9 321.4 424.8 322.2 424.1 323.0 423.8 323.8 423.3 324.6 422.4 325.4 422.4 326.1 422.2 326.9 421.4 327.7 420.4 328.5 420.1 329.3 419.8 330.1 419.8 330.8 419.8 331.7 420.3 332.6 420.4 333.5 420.3 334.3 420.5 335.0 419.8 335.7 420.1 336.6 420.6 337.4 421.5 338.0 422.4 338.5 423.0" fill="none" stroke="#e9a7ad" stroke-width="3.0" stroke-linejoin="round" opacity="0.85"/>
<path d="M275.0 422.8 275.5 422.6 276.2 422.7 277.0 422.7 277.8 422.0 278.7 421.9 279.6 421.5 280.4 421.7 281.0 421.3 281.9 421.2 282.6 421.6 283.1 422.2 283.8 422.2 284.6 422.3 285.4 422.2 286.3 421.9 287.2 422.0 288.0 422.4 288.9 422.5 289.7 422.9 290.6 423.4 291.4 423.0 292.3 423.5 293.0 423.3 293.8 423.3 294.8 423.7 295.5 424.3 296.3 425.1 297.1 425.9 297.9 426.4 298.8 427.4 299.6 428.1 300.4 428.3 301.2 428.6 302.1 429.1 302.8 429.3 303.6 429.5 304.4 429.4 305.2 429.7 305.9 430.3 306.6 430.2 307.4 429.4 308.1 430.1 308.8 429.8 309.5 429.3 310.1 428.6 311.0 429.0 311.8 429.2 312.5 429.1 313.5 428.4 314.1 428.6 314.7 428.1 315.4 427.4 316.2 427.2 316.9 426.9 317.7 426.5 318.4 426.3 319.1 425.2 319.9 425.6 320.7 424.9 321.4 424.8 322.2 424.1 323.0 423.8 323.8 423.3 324.6 422.4 325.4 422.4 326.1 422.2 326.9 421.4 327.7 420.4 328.5 420.1 329.3 419.8 330.1 419.8 330.8 419.8 331.7 420.3 332.6 420.4 333.5 420.3 334.3 420.5 335.0 419.8 335.7 420.1 336.6 420.6 337.4 421.5 338.0 422.4 338.5 423.0" fill="none" stroke="#c0202f" stroke-width="1.25" stroke-linejoin="round"/>
<rect x="272.3" y="365.6" width="68.8" height="87.5" fill="none" stroke="#231f20" stroke-width="1.1"/>
<line x1="268.8" y1="449.7" x2="272.3" y2="449.7" stroke="#231f20" stroke-width="1"/>
<line x1="268.8" y1="436.1" x2="272.3" y2="436.1" stroke="#231f20" stroke-width="1"/>
<line x1="268.8" y1="422.5" x2="272.3" y2="422.5" stroke="#231f20" stroke-width="1"/>
<line x1="268.8" y1="409.0" x2="272.3" y2="409.0" stroke="#231f20" stroke-width="1"/>
<line x1="268.8" y1="395.4" x2="272.3" y2="395.4" stroke="#231f20" stroke-width="1"/>
<line x1="268.8" y1="381.8" x2="272.3" y2="381.8" stroke="#231f20" stroke-width="1"/>
<line x1="268.8" y1="368.2" x2="272.3" y2="368.2" stroke="#231f20" stroke-width="1"/>
<line x1="274.5" y1="453.1" x2="274.5" y2="456.5" stroke="#231f20" stroke-width="1"/>
<line x1="287.4" y1="453.1" x2="287.4" y2="456.5" stroke="#231f20" stroke-width="1"/>
<line x1="300.3" y1="453.1" x2="300.3" y2="456.5" stroke="#231f20" stroke-width="1"/>
<line x1="313.2" y1="453.1" x2="313.2" y2="456.5" stroke="#231f20" stroke-width="1"/>
<line x1="326.1" y1="453.1" x2="326.1" y2="456.5" stroke="#231f20" stroke-width="1"/>
<line x1="339.0" y1="453.1" x2="339.0" y2="456.5" stroke="#231f20" stroke-width="1"/>
<text x="306.9" y="360.4" font-size="8.0" text-anchor="middle" stroke="#231f20" stroke-width="0.22" textLength="77.5" lengthAdjust="spacingAndGlyphs">H3K4me1 LT-HSC high</text>
<text x="274.5" y="466.4" font-size="8.0" text-anchor="middle" stroke="#231f20" stroke-width="0.22" textLength="16.0" lengthAdjust="spacingAndGlyphs">-2kb</text>
<text x="299.9" y="466.4" font-size="8.0" text-anchor="middle" stroke="#231f20" stroke-width="0.22" textLength="5.4" lengthAdjust="spacingAndGlyphs">5′</text>
<text x="312.9" y="466.4" font-size="8.0" text-anchor="middle" stroke="#231f20" stroke-width="0.22" textLength="5.8" lengthAdjust="spacingAndGlyphs">3′</text>
<text x="338.9" y="466.4" font-size="8.0" text-anchor="middle" stroke="#231f20" stroke-width="0.22" textLength="17.4" lengthAdjust="spacingAndGlyphs">+2kb</text>
<line x1="391.6" y1="365.6" x2="391.6" y2="453.1" stroke="#c8c8c8" stroke-width="0.8"/>
<line x1="404.5" y1="365.6" x2="404.5" y2="453.1" stroke="#c8c8c8" stroke-width="0.8"/>
<path d="M366.2 420.0 366.7 419.4 367.3 419.1 368.1 418.6 368.9 418.1 369.8 417.7 370.7 417.1 371.6 416.7 372.4 416.2 373.2 416.2 373.9 415.8 374.7 415.6 375.5 416.1 376.3 415.7 377.1 415.2 377.8 414.8 378.6 413.6 379.4 413.0 380.2 412.2 381.0 411.2 381.8 410.3 382.6 409.1 383.3 408.1 384.1 406.5 384.8 405.5 385.7 403.7 386.6 402.5 387.4 400.8 388.2 398.8 389.0 397.7 389.7 396.4 390.5 396.2 391.2 395.9 391.9 395.2 392.6 395.4 393.2 395.7 394.1 395.0 394.9 393.7 395.9 392.8 396.6 392.2 397.4 391.7 398.2 390.8 399.0 390.0 399.7 389.3 400.4 389.5 401.1 390.2 401.8 391.0 402.8 392.2 403.4 392.3 404.0 393.2 404.7 393.8 405.4 394.6 406.2 395.2 406.9 395.9 407.7 396.7 408.4 397.7 409.1 398.3 409.9 399.3 410.6 399.9 411.4 401.1 412.1 402.0 412.8 402.6 413.7 404.2 414.6 405.0 415.3 405.9 416.0 406.4 416.8 406.9 417.6 408.4 418.5 409.0 419.3 409.5 420.1 410.8 420.9 411.4 421.6 412.4 422.3 413.9 422.9 414.2 423.9 414.9 424.6 415.2 425.2 415.1 425.7 414.8 426.4 415.4 427.2 415.8 428.2 416.5 429.1 417.3 429.9 417.5 430.5 418.2" fill="none" stroke="#9fb0d6" stroke-width="3.0" stroke-linejoin="round" opacity="0.85"/>
<path d="M366.2 420.0 366.7 419.4 367.3 419.1 368.1 418.6 368.9 418.1 369.8 417.7 370.7 417.1 371.6 416.7 372.4 416.2 373.2 416.2 373.9 415.8 374.7 415.6 375.5 416.1 376.3 415.7 377.1 415.2 377.8 414.8 378.6 413.6 379.4 413.0 380.2 412.2 381.0 411.2 381.8 410.3 382.6 409.1 383.3 408.1 384.1 406.5 384.8 405.5 385.7 403.7 386.6 402.5 387.4 400.8 388.2 398.8 389.0 397.7 389.7 396.4 390.5 396.2 391.2 395.9 391.9 395.2 392.6 395.4 393.2 395.7 394.1 395.0 394.9 393.7 395.9 392.8 396.6 392.2 397.4 391.7 398.2 390.8 399.0 390.0 399.7 389.3 400.4 389.5 401.1 390.2 401.8 391.0 402.8 392.2 403.4 392.3 404.0 393.2 404.7 393.8 405.4 394.6 406.2 395.2 406.9 395.9 407.7 396.7 408.4 397.7 409.1 398.3 409.9 399.3 410.6 399.9 411.4 401.1 412.1 402.0 412.8 402.6 413.7 404.2 414.6 405.0 415.3 405.9 416.0 406.4 416.8 406.9 417.6 408.4 418.5 409.0 419.3 409.5 420.1 410.8 420.9 411.4 421.6 412.4 422.3 413.9 422.9 414.2 423.9 414.9 424.6 415.2 425.2 415.1 425.7 414.8 426.4 415.4 427.2 415.8 428.2 416.5 429.1 417.3 429.9 417.5 430.5 418.2" fill="none" stroke="#34559c" stroke-width="1.25" stroke-linejoin="round"/>
<path d="M366.2 413.5 366.7 413.3 367.3 413.0 368.1 412.8 368.9 411.3 369.8 410.5 370.7 409.7 371.6 408.8 372.4 408.5 373.2 407.8 373.9 407.2 374.7 406.1 375.5 405.3 376.3 404.7 377.1 403.9 377.8 403.0 378.6 402.1 379.4 401.0 380.2 399.4 381.0 398.7 381.8 396.9 382.6 395.6 383.3 394.3 384.1 393.1 384.8 391.4 385.7 389.4 386.6 388.1 387.4 386.6 388.2 384.5 389.0 382.7 389.7 382.1 390.5 381.6 391.2 381.5 391.9 381.8 392.6 381.5 393.2 382.2 394.1 381.2 394.9 380.2 395.9 378.8 396.6 377.2 397.4 376.6 398.2 375.8 399.0 375.5 399.7 375.4 400.5 376.2 401.4 377.1 402.1 378.4 402.8 379.4 403.8 379.0 404.9 379.2 405.5 380.3 406.1 382.0 406.8 383.0 407.5 384.6 408.3 385.6 409.1 387.0 409.8 388.5 410.5 390.1 411.2 391.2 412.0 393.0 412.8 394.6 413.7 396.5 414.6 398.1 415.3 399.0 416.0 399.7 416.8 400.8 417.6 401.6 418.5 402.5 419.3 403.1 420.1 404.0 420.9 404.9 421.6 406.1 422.3 407.0 422.9 407.3 423.9 408.0 424.6 408.2 425.2 408.1 425.7 407.6 426.4 407.7 427.2 408.3 428.2 409.8 429.1 410.5 429.9 411.9 430.5 412.0" fill="none" stroke="#e9a7ad" stroke-width="3.0" stroke-linejoin="round" opacity="0.85"/>
<path d="M366.2 413.5 366.7 413.3 367.3 413.0 368.1 412.8 368.9 411.3 369.8 410.5 370.7 409.7 371.6 408.8 372.4 408.5 373.2 407.8 373.9 407.2 374.7 406.1 375.5 405.3 376.3 404.7 377.1 403.9 377.8 403.0 378.6 402.1 379.4 401.0 380.2 399.4 381.0 398.7 381.8 396.9 382.6 395.6 383.3 394.3 384.1 393.1 384.8 391.4 385.7 389.4 386.6 388.1 387.4 386.6 388.2 384.5 389.0 382.7 389.7 382.1 390.5 381.6 391.2 381.5 391.9 381.8 392.6 381.5 393.2 382.2 394.1 381.2 394.9 380.2 395.9 378.8 396.6 377.2 397.4 376.6 398.2 375.8 399.0 375.5 399.7 375.4 400.5 376.2 401.4 377.1 402.1 378.4 402.8 379.4 403.8 379.0 404.9 379.2 405.5 380.3 406.1 382.0 406.8 383.0 407.5 384.6 408.3 385.6 409.1 387.0 409.8 388.5 410.5 390.1 411.2 391.2 412.0 393.0 412.8 394.6 413.7 396.5 414.6 398.1 415.3 399.0 416.0 399.7 416.8 400.8 417.6 401.6 418.5 402.5 419.3 403.1 420.1 404.0 420.9 404.9 421.6 406.1 422.3 407.0 422.9 407.3 423.9 408.0 424.6 408.2 425.2 408.1 425.7 407.6 426.4 407.7 427.2 408.3 428.2 409.8 429.1 410.5 429.9 411.9 430.5 412.0" fill="none" stroke="#c0202f" stroke-width="1.25" stroke-linejoin="round"/>
<rect x="363.6" y="365.6" width="68.8" height="87.5" fill="none" stroke="#231f20" stroke-width="1.1"/>
<line x1="360.1" y1="449.7" x2="363.6" y2="449.7" stroke="#231f20" stroke-width="1"/>
<line x1="360.1" y1="436.1" x2="363.6" y2="436.1" stroke="#231f20" stroke-width="1"/>
<line x1="360.1" y1="422.5" x2="363.6" y2="422.5" stroke="#231f20" stroke-width="1"/>
<line x1="360.1" y1="409.0" x2="363.6" y2="409.0" stroke="#231f20" stroke-width="1"/>
<line x1="360.1" y1="395.4" x2="363.6" y2="395.4" stroke="#231f20" stroke-width="1"/>
<line x1="360.1" y1="381.8" x2="363.6" y2="381.8" stroke="#231f20" stroke-width="1"/>
<line x1="360.1" y1="368.2" x2="363.6" y2="368.2" stroke="#231f20" stroke-width="1"/>
<line x1="365.8" y1="453.1" x2="365.8" y2="456.5" stroke="#231f20" stroke-width="1"/>
<line x1="378.7" y1="453.1" x2="378.7" y2="456.5" stroke="#231f20" stroke-width="1"/>
<line x1="391.6" y1="453.1" x2="391.6" y2="456.5" stroke="#231f20" stroke-width="1"/>
<line x1="404.5" y1="453.1" x2="404.5" y2="456.5" stroke="#231f20" stroke-width="1"/>
<line x1="417.4" y1="453.1" x2="417.4" y2="456.5" stroke="#231f20" stroke-width="1"/>
<line x1="430.3" y1="453.1" x2="430.3" y2="456.5" stroke="#231f20" stroke-width="1"/>
<text x="398.5" y="360.4" font-size="8.0" text-anchor="middle" stroke="#231f20" stroke-width="0.22" textLength="69.3" lengthAdjust="spacingAndGlyphs">H3K4me1 MPP high</text>
<text x="365.8" y="466.4" font-size="8.0" text-anchor="middle" stroke="#231f20" stroke-width="0.22" textLength="16.0" lengthAdjust="spacingAndGlyphs">-2kb</text>
<text x="391.2" y="466.4" font-size="8.0" text-anchor="middle" stroke="#231f20" stroke-width="0.22" textLength="5.4" lengthAdjust="spacingAndGlyphs">5′</text>
<text x="404.2" y="466.4" font-size="8.0" text-anchor="middle" stroke="#231f20" stroke-width="0.22" textLength="5.8" lengthAdjust="spacingAndGlyphs">3′</text>
<text x="430.2" y="466.4" font-size="8.0" text-anchor="middle" stroke="#231f20" stroke-width="0.22" textLength="17.4" lengthAdjust="spacingAndGlyphs">+2kb</text>
<text x="45.4" y="390.2" font-size="8.0" text-anchor="end" stroke="#231f20" stroke-width="0.22" textLength="11.0" lengthAdjust="spacingAndGlyphs">1.0</text>
<text x="45.4" y="452.6" font-size="8.0" text-anchor="end" stroke="#231f20" stroke-width="0.22" textLength="11.0" lengthAdjust="spacingAndGlyphs">0.0</text>
<text x="266.4" y="398.2" font-size="8.0" text-anchor="end" stroke="#231f20" stroke-width="0.22" textLength="12.0" lengthAdjust="spacingAndGlyphs">0.2</text>
<text x="266.4" y="452.7" font-size="8.0" text-anchor="end" stroke="#231f20" stroke-width="0.22" textLength="12.0" lengthAdjust="spacingAndGlyphs">0.0</text>
<g transform="translate(15.8 408.4) rotate(-90)">
<text x="0.0" y="0.0" font-size="8.6" text-anchor="middle" stroke="#231f20" stroke-width="0.22" textLength="53.7" lengthAdjust="spacingAndGlyphs">Read count per</text>
</g>
<g transform="translate(27.9 408.8) rotate(-90)">
<text x="0.0" y="0.0" font-size="8.6" text-anchor="middle" stroke="#231f20" stroke-width="0.22" textLength="75.4" lengthAdjust="spacingAndGlyphs">million mapped reads</text>
</g>
<g transform="translate(237.8 408.4) rotate(-90)">
<text x="0.0" y="0.0" font-size="8.6" text-anchor="middle" stroke="#231f20" stroke-width="0.22" textLength="53.7" lengthAdjust="spacingAndGlyphs">Read count per</text>
</g>
<g transform="translate(249.9 408.8) rotate(-90)">
<text x="0.0" y="0.0" font-size="8.6" text-anchor="middle" stroke="#231f20" stroke-width="0.22" textLength="75.4" lengthAdjust="spacingAndGlyphs">million mapped reads</text>
</g>
<text x="104.5" y="480.4" font-size="9.2" stroke="#231f20" stroke-width="0.22" textLength="55.4" lengthAdjust="spacingAndGlyphs">Genomic region</text>
<text x="328.1" y="480.4" font-size="9.2" stroke="#231f20" stroke-width="0.22" textLength="54.9" lengthAdjust="spacingAndGlyphs">Genomic region</text>
<text x="442.2" y="372.0" font-size="8.8" fill="#4a67a6" stroke="#4a67a6" stroke-width="0.22" textLength="27.3" lengthAdjust="spacingAndGlyphs">Control</text>
<text x="442.4" y="383.8" font-size="8.8" font-style="italic" fill="#b3213a" stroke="#b3213a" stroke-width="0.22" textLength="22.8" lengthAdjust="spacingAndGlyphs">Runx1</text>
<text x="465.4" y="380.6" font-size="6.2" font-style="italic" fill="#b3213a" stroke="#b3213a" stroke-width="0.17" textLength="46.8" lengthAdjust="spacingAndGlyphs">KTAMK/KTAMK</text>
<rect x="0.6" y="0.6" width="518.6" height="488.6" fill="none" stroke="#000" stroke-width="1.3"/>
</svg></body></html>
